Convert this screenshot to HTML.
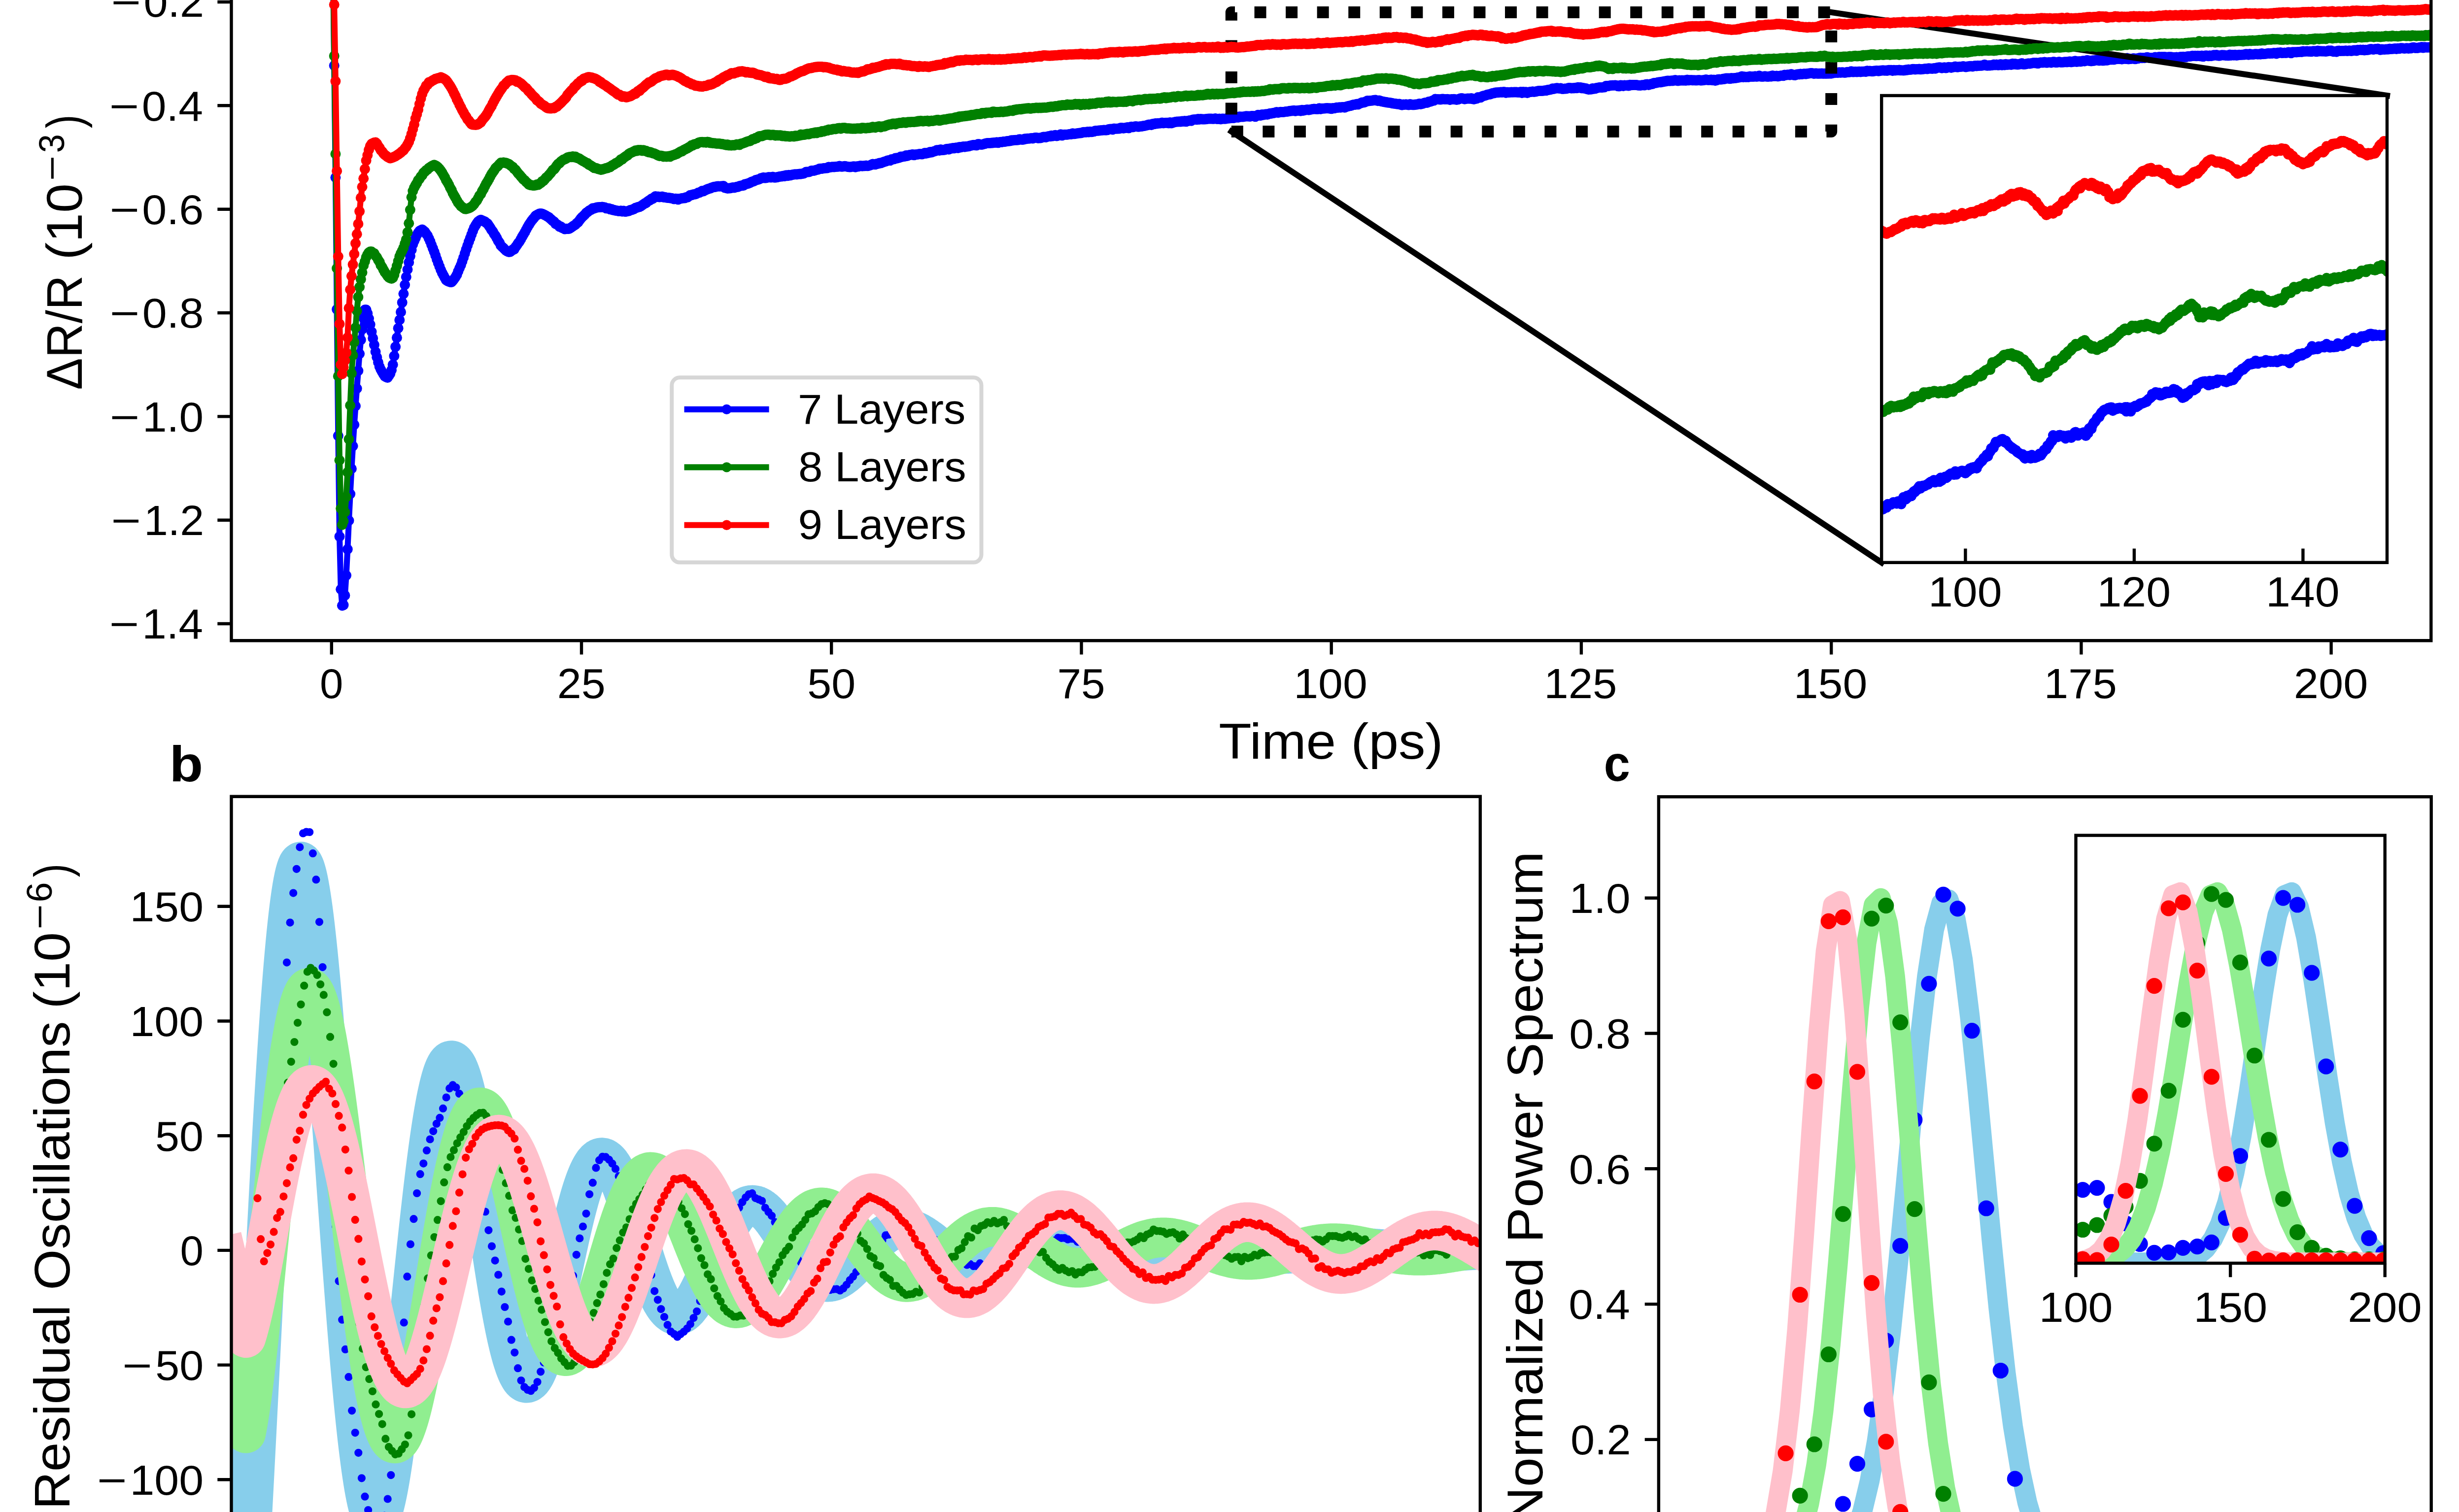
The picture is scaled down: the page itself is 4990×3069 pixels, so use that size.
<!DOCTYPE html>
<html><head><meta charset="utf-8"><title>Figure</title>
<style>html,body{margin:0;padding:0;background:#fff}svg{display:block}</style></head>
<body>
<svg width="4990" height="3069" viewBox="0 0 4990 3069" font-family="'Liberation Sans', sans-serif" fill="#000">
<rect width="4990" height="3069" fill="#fff"/>
<defs>
<clipPath id="ca"><rect x="469.5" y="-50" width="4463.8" height="1350.2"/></clipPath>
<clipPath id="ci"><rect x="3818.2" y="194" width="1025.8" height="947.8"/></clipPath>
<marker id="mb" markerUnits="userSpaceOnUse" markerWidth="24" markerHeight="24" refX="12" refY="12" viewBox="0 0 24 24"><circle cx="12" cy="12" r="10.5" fill="#0000ff"/></marker>
<marker id="mg" markerUnits="userSpaceOnUse" markerWidth="24" markerHeight="24" refX="12" refY="12" viewBox="0 0 24 24"><circle cx="12" cy="12" r="10.5" fill="#008000"/></marker>
<marker id="mr" markerUnits="userSpaceOnUse" markerWidth="24" markerHeight="24" refX="12" refY="12" viewBox="0 0 24 24"><circle cx="12" cy="12" r="10.5" fill="#ff0000"/></marker>
</defs>
<g clip-path="url(#ca)" fill="none" stroke-width="12.1" stroke-linejoin="round">
<polyline points="632.2,-206.3 634.9,-206.3 637.6,-206.3 640.3,-206.3 643,-206.3 645.7,-206.3 648.5,-206.3 651.2,-206.3 653.9,-206.3 656.6,-206.3 659.3,-206.3 662,-206.3 664.7,-206.3 667.4,-206.3 670.1,-206.3 672.8,-206.3 675.5,-100.9 678.2,133.2 680.9,360.3 683.6,627.9 686.3,884.6 689,1089 691.7,1196.2 694.4,1229.2 697.1,1228 699.9,1208.5 702.6,1167.8 705.3,1114.8 708,1056.7 710.7,1002.6 713.4,951.4 716.1,905.3 718.8,862.2 721.5,824.1 724.2,788.7 726.9,752.6 729.6,718.1 732.3,689.8 735,668.6 737.7,645.8 740.4,628.8 743.1,628.8 745.8,636.1 748.5,646.6 751.2,658.7 754,673.3 756.7,686.4 759.4,700 762.1,714.1 764.8,725.2 767.5,735.4 770.2,744.3 772.9,750.3 775.6,755.2 778.3,759.6 781,763.8 783.7,765.3 786.4,766.5 789.1,762.7 791.8,758.4 794.5,751.2 797.2,740.2 799.9,722.6 802.6,703.9 805.4,685.4 808.1,666.2 810.8,649.4 813.5,633.4 816.2,614 818.9,596.3 821.6,578.1 824.3,562.2 827,547.1 829.7,532.5 832.4,519.8 835.1,507.1 837.8,496 840.5,489.2 843.2,483.3 845.9,476.9 848.6,472.3 851.3,468.8 854,467.4 856.7,466 859.5,468.1 862.2,470.4 864.9,474.7 867.6,478.1 870.3,483.9 873,489.9 875.7,497.2 878.4,504 881.1,511.2 883.8,518.5 886.5,526.4 889.2,533.9 891.9,541 894.6,547.8 897.3,554 900,558.8 902.7,563.8 905.4,568.5 908.1,570.4 910.9,571.5 913.6,572.7 916.3,572.7 919,569.7 921.7,566.2 924.4,562.3 927.1,557.7 929.8,550.7 932.5,544.3 935.2,538.3 937.9,530.4 940.6,522.8 943.3,514.6 946,506.1 948.7,498.3 951.4,490.7 954.1,483.4 956.8,476.1 959.5,468.9 962.2,462.2 965,457.4 967.7,453.1 970.4,449.7 973.1,447.6 975.8,446.3 978.5,447.4 981.2,448.8 983.9,449.7 986.6,452.4 989.3,453.8 992,458 994.7,461.8 997.4,466.5 1000.1,469.9 1002.8,474.9 1005.5,478.6 1008.2,483.4 1010.9,488.8 1013.6,492.6 1016.4,498.4 1019.1,501.1 1021.8,503.4 1024.5,506.4 1027.2,508.8 1029.9,510.3 1032.6,511.5 1035.3,511.1 1038,509.1 1040.7,506.4 1043.4,506 1046.1,501.4 1048.8,497.8 1051.5,493.6 1054.2,490.3 1056.9,485.5 1059.6,480.5 1062.3,476.1 1065,471.4 1067.7,466.3 1070.5,461.2 1073.2,456.4 1075.9,452.3 1078.6,448.3 1081.3,445 1084,441.8 1086.7,438.1 1089.4,436.6 1092.1,435.1 1094.8,433.8 1097.5,433.6 1100.2,433.9 1102.9,435.2 1105.6,436.5 1108.3,437.9 1111,439.7 1113.7,441 1116.4,443.7 1119.1,445.8 1121.9,448.5 1124.6,450.1 1127.3,454.3 1130,455.3 1132.7,457.1 1135.4,460.1 1138.1,460 1140.8,462.6 1143.5,463.7 1146.2,465 1148.9,464.3 1151.6,464.6 1154.3,464.5 1157,463.1 1159.7,461.4 1162.4,459.3 1165.1,457.7 1167.8,455.8 1170.5,453 1173.2,451 1176,447.2 1178.7,443.5 1181.4,440.7 1184.1,438.1 1186.8,435.6 1189.5,432.1 1192.2,430.5 1194.9,428.1 1197.6,426.5 1200.3,425.3 1203,422.7 1205.7,422.9 1208.4,421.9 1211.1,420.9 1213.8,420.8 1216.5,420.6 1219.2,420.6 1221.9,419.9 1224.6,420.7 1227.4,421.1 1230.1,422.8 1232.8,423.1 1235.5,422.9 1238.2,424.8 1240.9,424.4 1243.6,426.3 1246.3,426.3 1249,427.5 1251.7,427.4 1254.4,428.4 1257.1,428.5 1259.8,427.8 1262.5,429.2 1265.2,428.1 1267.9,429.5 1270.6,429.6 1273.3,428.6 1276,428.3 1278.7,426.5 1281.5,426.1 1284.2,425 1286.9,424.1 1289.6,421.9 1292.3,421.5 1295,420.3 1297.7,419.8 1300.4,418.7 1303.1,416.7 1305.8,414.7 1308.5,412.8 1311.2,411.9 1313.9,409.2 1316.6,407.3 1319.3,406.1 1322,403.4 1324.7,403.3 1327.4,400.6 1330.1,398.4 1332.9,399.7 1335.6,399 1338.3,400.1 1341,399.6 1343.7,399.1 1346.4,400.4 1349.1,400.3 1351.8,400.9 1354.5,401.4 1357.2,401.6 1359.9,402 1362.6,402.2 1365.3,402.9 1368,404 1370.7,403.3 1373.4,403.5 1376.1,405 1378.8,403.6 1381.5,403.1 1384.2,402.4 1387,401.9 1389.7,402 1392.4,400.5 1395.1,400.5 1397.8,398.4 1400.5,396.2 1403.2,396 1405.9,394.9 1408.6,394.6 1411.3,393.9 1414,392.9 1416.7,391.3 1419.4,390.8 1422.1,389.6 1424.8,387.6 1427.5,388 1430.2,386.7 1432.9,385.2 1435.6,384 1438.4,382.9 1441.1,382.6 1443.8,380.9 1446.5,380.3 1449.2,379.2 1451.9,379.4 1454.6,378.3 1457.3,377.9 1460,378.2 1462.7,377.9 1465.4,378.1 1468.1,377.5 1470.8,381 1473.5,381.4 1476.2,382.5 1478.9,381.9 1481.6,381.9 1484.3,381.4 1487,380.4 1489.7,381.1 1492.5,380.2 1495.2,379.3 1497.9,379.2 1500.6,377.7 1503.3,377 1506,376.8 1508.7,376.6 1511.4,374 1514.1,373.7 1516.8,372.8 1519.5,371.9 1522.2,370.8 1524.9,369.2 1527.6,368.5 1530.3,367.7 1533,365.8 1535.7,365.1 1538.4,364.5 1541.1,363.7 1543.9,361.8 1546.6,361.5 1549.3,360.3 1552,361.2 1554.7,361.1 1557.4,360.3 1560.1,359.6 1562.8,360 1565.5,359.9 1568.2,359 1570.9,360.2 1573.6,360.3 1576.3,359.8 1579,359.3 1581.7,358.6 1584.4,358 1587.1,357.9 1589.8,357 1592.5,357.7 1595.2,355.8 1598,356.8 1600.7,355.3 1603.4,356 1606.1,354.9 1608.8,354.7 1611.5,354.1 1614.2,353.7 1616.9,353.9 1619.6,353.5 1622.3,352.9 1625,353.3 1627.7,352.5 1630.4,352.3 1633.1,350.9 1635.8,349 1638.5,349.1 1641.2,349.1 1643.9,348.2 1646.6,346.6 1649.4,346.6 1652.1,346.4 1654.8,345.4 1657.5,344.7 1660.2,344 1662.9,342.5 1665.6,342.2 1668.3,342.5 1671,341.6 1673.7,341.5 1676.4,341.1 1679.1,340.9 1681.8,338.9 1684.5,339.7 1687.2,339 1689.9,338.7 1692.6,339.1 1695.3,338.5 1698,338.3 1700.7,338.3 1703.5,337.1 1706.2,338 1708.9,338.2 1711.6,337.8 1714.3,337.3 1717,337.7 1719.7,338.5 1722.4,338.8 1725.1,338.9 1727.8,338.7 1730.5,338.1 1733.2,337.7 1735.9,339.2 1738.6,337.7 1741.3,338.1 1744,336.9 1746.7,336.5 1749.4,337.2 1752.1,336.8 1754.9,336.8 1757.6,335.9 1760.3,336.8 1763,336.2 1765.7,335.7 1768.4,334.2 1771.1,333.1 1773.8,333.8 1776.5,333.8 1779.2,332.5 1781.9,332.3 1784.6,330.9 1787.3,331 1790,329.9 1792.7,328.9 1795.4,327.9 1798.1,327.4 1800.8,325.9 1803.5,325.6 1806.2,325.8 1809,323.6 1811.7,323.4 1814.4,322.8 1817.1,320.9 1819.8,321.5 1822.5,320.2 1825.2,319.9 1827.9,318.1 1830.6,318.4 1833.3,317.4 1836,317.6 1838.7,315.6 1841.4,316.4 1844.1,314.9 1846.8,314.4 1849.5,314 1852.2,313.4 1854.9,314.8 1857.6,313.7 1860.4,313.7 1863.1,313.2 1865.8,312.6 1868.5,312.8 1871.2,312.9 1873.9,312 1876.6,310.6 1879.3,311.5 1882,310.3 1884.7,310.2 1887.4,308.5 1890.1,309.3 1892.8,308 1895.5,307.3 1898.2,306.6 1900.9,304.8 1903.6,304.7 1906.3,305.6 1909,303.4 1911.7,304.7 1914.5,304.6 1917.2,304 1919.9,302.7 1922.6,302.2 1925.3,303.3 1928,301.4 1930.7,301.5 1933.4,300.6 1936.1,300.9 1938.8,299.9 1941.5,299.8 1944.2,300.4 1946.9,298.6 1949.6,298.9 1952.3,298.2 1955,297.5 1957.7,298.2 1960.4,297.2 1963.1,297.2 1965.9,296.8 1968.6,295.7 1971.3,295.4 1974,294.6 1976.7,294.3 1979.4,294.8 1982.1,294.9 1984.8,292.5 1987.5,292.7 1990.2,293.5 1992.9,293.4 1995.6,292.7 1998.3,291.8 2001,290.9 2003.7,290.5 2006.4,290.4 2009.1,290.5 2011.8,290 2014.5,290 2017.2,289.5 2020,289.4 2022.7,288.8 2025.4,289.8 2028.1,288.7 2030.8,288.3 2033.5,288.4 2036.2,287.5 2038.9,287.7 2041.6,287.1 2044.3,286.5 2047,286.2 2049.7,286.1 2052.4,284.8 2055.1,284.9 2057.8,284.5 2060.5,284.2 2063.2,284.3 2065.9,284 2068.6,282.7 2071.4,283 2074.1,283.4 2076.8,283.3 2079.5,281.7 2082.2,281.9 2084.9,281.3 2087.6,281.2 2090.3,280.9 2093,280.5 2095.7,280.9 2098.4,280.1 2101.1,279.4 2103.8,279.4 2106.5,280.5 2109.2,280.1 2111.9,279.9 2114.6,279 2117.3,278.1 2120,278 2122.7,278.7 2125.5,277.3 2128.2,276.5 2130.9,276.8 2133.6,275.2 2136.3,276.2 2139,275 2141.7,274.2 2144.4,275.9 2147.1,275.2 2149.8,274.4 2152.5,272.7 2155.2,275.1 2157.9,273.5 2160.6,273.3 2163.3,273.3 2166,273.2 2168.7,272.7 2171.4,272.3 2174.1,272.5 2176.9,270.7 2179.6,271.8 2182.3,271.2 2185,271 2187.7,270.5 2190.4,269.9 2193.1,270.1 2195.8,269.5 2198.5,268.2 2201.2,268.2 2203.9,268.6 2206.6,267.6 2209.3,268.2 2212,267.3 2214.7,267.8 2217.4,267.3 2220.1,266.8 2222.8,265.4 2225.5,265.6 2228.3,265.2 2231,265.1 2233.7,264.7 2236.4,264.4 2239.1,263.9 2241.8,263.9 2244.5,264.2 2247.2,263.8 2249.9,262.4 2252.6,262 2255.3,262.1 2258,262.9 2260.7,260.9 2263.4,261.3 2266.1,261.3 2268.8,261 2271.5,261 2274.2,259.6 2276.9,259.4 2279.6,260.6 2282.4,259.8 2285.1,259.2 2287.8,258.4 2290.5,260 2293.2,257.9 2295.9,257.2 2298.6,257.9 2301.3,257.4 2304,256.5 2306.7,256.7 2309.4,257.3 2312.1,256.9 2314.8,256.6 2317.5,256.5 2320.2,255.5 2322.9,255.4 2325.6,254.7 2328.3,253.9 2331,252.9 2333.8,253.1 2336.5,253.7 2339.2,251.5 2341.9,251.8 2344.6,250.6 2347.3,251.1 2350,250.3 2352.7,250.2 2355.4,249.9 2358.1,249.1 2360.8,249.9 2363.5,249.4 2366.2,249.2 2368.9,249.3 2371.6,250.1 2374.3,248.5 2377,250 2379.7,249.1 2382.4,248.3 2385.1,247.6 2387.9,247.1 2390.6,246.9 2393.3,246.8 2396,247.1 2398.7,246.1 2401.4,246.6 2404.1,245.5 2406.8,246.8 2409.5,245.7 2412.2,245.1 2414.9,244.4 2417.6,245.2 2420.3,243.1 2423,242.7 2425.7,242.5 2428.4,242.8 2431.1,241.6 2433.8,242.5 2436.5,241.6 2439.3,242 2442,241.9 2444.7,241.9 2447.4,241.8 2450.1,241.2 2452.8,241 2455.5,240.9 2458.2,241.1 2460.9,241.2 2463.6,241.2 2466.3,240.4 2469,241.4 2471.7,241.5 2474.4,241.1 2477.1,241.9 2479.8,241.1 2482.5,240.9 2485.2,241.3 2487.9,240.9 2490.6,240 2493.4,240.2 2496.1,239.8 2498.8,239 2501.5,239.5 2504.2,239.4 2506.9,238.4 2509.6,237.7 2512.3,238.5 2515,236.8 2517.7,237 2520.4,236.9 2523.1,236.9 2525.8,236.5 2528.5,235.8 2531.2,236.1 2533.9,235.9 2536.6,236.5 2539.3,235.4 2542,235.4 2544.8,235.8 2547.5,236.8 2550.2,235 2552.9,233.2 2555.6,234.2 2558.3,234.4 2561,232.5 2563.7,233.3 2566.4,232.3 2569.1,231.8 2571.8,232.6 2574.5,231.3 2577.2,230.3 2579.9,230.6 2582.6,229.6 2585.3,229.4 2588,228.4 2590.7,227.6 2593.4,228.7 2596.1,227.9 2598.9,227.3 2601.6,227.6 2604.3,227.4 2607,226.9 2609.7,226.6 2612.4,226.6 2615.1,225.8 2617.8,225.3 2620.5,225.1 2623.2,224.8 2625.9,224.3 2628.6,225.5 2631.3,224.7 2634,224.4 2636.7,224.1 2639.4,225.2 2642.1,223.2 2644.8,224.5 2647.5,223.6 2650.3,223.1 2653,222.6 2655.7,223.2 2658.4,222.7 2661.1,221.9 2663.8,221.4 2666.5,221 2669.2,221.3 2671.9,221.4 2674.6,221.6 2677.3,219.8 2680,221.4 2682.7,220.2 2685.4,220.3 2688.1,220 2690.8,219.8 2693.5,219.5 2696.2,220.1 2698.9,219.7 2701.6,220.8 2704.4,219.5 2707.1,219.8 2709.8,219.2 2712.5,218.3 2715.2,218.6 2717.9,217.8 2720.6,218.2 2723.3,217.5 2726,217.6 2728.7,218.3 2731.4,216.8 2734.1,216.1 2736.8,215.3 2739.5,214.8 2742.2,214.3 2744.9,213.1 2747.6,212.6 2750.3,212.5 2753,211.2 2755.8,212 2758.5,210.4 2761.2,209.5 2763.9,207.9 2766.6,208 2769.3,207.7 2772,206 2774.7,204.6 2777.4,205 2780.1,204.5 2782.8,204.2 2785.5,203.9 2788.2,203.3 2790.9,203.1 2793.6,204.1 2796.3,204.7 2799,204 2801.7,205.3 2804.4,205.8 2807.1,206.5 2809.9,207.1 2812.6,207.3 2815.3,208.1 2818,208.2 2820.7,208.7 2823.4,208.9 2826.1,209.8 2828.8,210.2 2831.5,210.4 2834.2,210.9 2836.9,211.3 2839.6,211 2842.3,212.5 2845,213.2 2847.7,211.9 2850.4,212.6 2853.1,211.8 2855.8,212.5 2858.5,213.1 2861.3,211.4 2864,212.3 2866.7,212.8 2869.4,212.8 2872.1,211.9 2874.8,212.3 2877.5,211.4 2880.2,210.6 2882.9,211.6 2885.6,210.7 2888.3,209.9 2891,208.7 2893.7,208.4 2896.4,208.4 2899.1,206.4 2901.8,206.5 2904.5,205.5 2907.2,204.2 2909.9,204.1 2912.6,201.1 2915.4,201.5 2918.1,201.6 2920.8,201.8 2923.5,202 2926.2,201.1 2928.9,201 2931.6,201.6 2934.3,201.6 2937,201.3 2939.7,201.7 2942.4,202.7 2945.1,201.4 2947.8,201.6 2950.5,201.2 2953.2,201.8 2955.9,202.4 2958.6,201.8 2961.3,200.8 2964,199.7 2966.8,199.5 2969.5,200.4 2972.2,201.2 2974.9,200.6 2977.6,200.1 2980.3,200.1 2983,200.3 2985.7,199.6 2988.4,200.8 2991.1,201.4 2993.8,200.4 2996.5,200.1 2999.2,197.6 3001.9,198 3004.6,197.8 3007.3,195.8 3010,194.7 3012.7,194.2 3015.4,193.4 3018.1,192.2 3020.9,191.7 3023.6,191.6 3026.3,190.2 3029,189.3 3031.7,189 3034.4,188.1 3037.1,187.8 3039.8,187.8 3042.5,187.5 3045.2,187 3047.9,187.6 3050.6,186.7 3053.3,186.7 3056,188.4 3058.7,187.3 3061.4,187.7 3064.1,187.5 3066.8,187.1 3069.5,187.2 3072.3,186.9 3075,187 3077.7,187 3080.4,187.6 3083.1,187.5 3085.8,186.6 3088.5,188.7 3091.2,186.6 3093.9,187.8 3096.6,186.8 3099.3,188.7 3102,187.4 3104.7,186.5 3107.4,186.6 3110.1,185.8 3112.8,186.4 3115.5,185.9 3118.2,185.7 3120.9,184.7 3123.6,184.5 3126.4,184.6 3129.1,184.4 3131.8,184.2 3134.5,183.7 3137.2,183.8 3139.9,182.8 3142.6,182.3 3145.3,181.9 3148,181.4 3150.7,179.8 3153.4,180.4 3156.1,179.6 3158.8,178.8 3161.5,179.1 3164.2,179.5 3166.9,179.1 3169.6,180.4 3172.3,180.4 3175,180 3177.8,179.9 3180.5,179.7 3183.2,178.6 3185.9,178.5 3188.6,179.2 3191.3,178.8 3194,179.1 3196.7,178.2 3199.4,178.8 3202.1,177.2 3204.8,178 3207.5,177.6 3210.2,179.1 3212.9,178.4 3215.6,179.7 3218.3,179.6 3221,180.8 3223.7,181.7 3226.4,181.2 3229.1,181.3 3231.9,179.4 3234.6,180.2 3237.3,179.8 3240,178.6 3242.7,178.2 3245.4,177.5 3248.1,177.5 3250.8,177.7 3253.5,176.9 3256.2,176.9 3258.9,174.6 3261.6,174.4 3264.3,174.7 3267,173.8 3269.7,173.5 3272.4,173.3 3275.1,173.3 3277.8,173.1 3280.5,173.6 3283.3,174.8 3286,175.1 3288.7,173 3291.4,173.2 3294.1,174.7 3296.8,173.1 3299.5,173.4 3302.2,173.1 3304.9,174.1 3307.6,172.3 3310.3,172.8 3313,172.4 3315.7,172.5 3318.4,172.5 3321.1,172.4 3323.8,173.2 3326.5,173.2 3329.2,173.6 3331.9,172.7 3334.6,172.8 3337.4,172.9 3340.1,171.3 3342.8,171.1 3345.5,172.4 3348.2,171.6 3350.9,170.3 3353.6,170.4 3356.3,168.5 3359,168.6 3361.7,167.9 3364.4,167.3 3367.1,166.7 3369.8,167.1 3372.5,166.1 3375.2,165.9 3377.9,165.1 3380.6,164.9 3383.3,164 3386,164.1 3388.8,164.3 3391.5,163.7 3394.2,164.1 3396.9,163.2 3399.6,162.5 3402.3,163.5 3405,164 3407.7,163.1 3410.4,163.3 3413.1,162.9 3415.8,163.3 3418.5,163 3421.2,163.5 3423.9,162.1 3426.6,163.1 3429.3,162.7 3432,162.6 3434.7,163 3437.4,162.7 3440.1,163 3442.9,163 3445.6,162.8 3448.3,162.4 3451,163.2 3453.7,162.9 3456.4,162.8 3459.1,162.6 3461.8,161.6 3464.5,162.2 3467.2,162.4 3469.9,162.2 3472.6,161.8 3475.3,162.8 3478,161.9 3480.7,163.7 3483.4,162.8 3486.1,161.3 3488.8,160.9 3491.5,161.2 3494.3,161.1 3497,160.1 3499.7,160.4 3502.4,159 3505.1,159.1 3507.8,159.1 3510.5,159.8 3513.2,158.6 3515.9,159 3518.6,158.7 3521.3,158.6 3524,158.1 3526.7,157.5 3529.4,157 3532.1,156.6 3534.8,155 3537.5,156.7 3540.2,155.7 3542.9,156.5 3545.6,156 3548.4,156.4 3551.1,155.1 3553.8,155.5 3556.5,155.4 3559.2,155.5 3561.9,154.8 3564.6,155.5 3567.3,155 3570,153.8 3572.7,155.2 3575.4,155.4 3578.1,155.6 3580.8,154.7 3583.5,155.1 3586.2,155.5 3588.9,155.4 3591.6,154.8 3594.3,155.3 3597,153.5 3599.8,154.6 3602.5,154.4 3605.2,154.1 3607.9,154.9 3610.6,154.5 3613.3,153.7 3616,153.4 3618.7,153.8 3621.4,152.1 3624.1,152.5 3626.8,151.8 3629.5,151.7 3632.2,152.2 3634.9,150.6 3637.6,151.7 3640.3,152.6 3643,152.7 3645.7,151.3 3648.4,150.7 3651.1,150.9 3653.9,149.9 3656.6,150.7 3659.3,150 3662,149.7 3664.7,150.3 3667.4,149.4 3670.1,149.2 3672.8,148.7 3675.5,148.6 3678.2,148.7 3680.9,149.7 3683.6,149 3686.3,148.9 3689,149.6 3691.7,149.3 3694.4,149.3 3697.1,149.1 3699.8,149.6 3702.5,149.3 3705.3,149.4 3708,149.2 3710.7,149.3 3713.4,149 3716.1,149.2 3718.8,148.5 3721.5,147.8 3724.2,147.7 3726.9,147.4 3729.6,147.7 3732.3,146.7 3735,147.6 3737.7,146.8 3740.4,146.9 3743.1,147.4 3745.8,147.2 3748.5,146.3 3751.2,146.5 3753.9,146.3 3756.6,144.7 3759.4,145.9 3762.1,146 3764.8,145.5 3767.5,146.1 3770.2,145.8 3772.9,145.3 3775.6,145.9 3778.3,145.3 3781,145.2 3783.7,144.9 3786.4,145.7 3789.1,143.7 3791.8,144.6 3794.5,144 3797.2,144.7 3799.9,144.8 3802.6,144 3805.3,144 3808,143.4 3810.8,144.1 3813.5,144.1 3816.2,143.3 3818.9,143 3821.6,142.8 3824.3,143.2 3827,143 3829.7,143.5 3832.4,142.3 3835.1,142.3 3837.8,142.3 3840.5,143.7 3843.2,142.3 3845.9,143.1 3848.6,142.5 3851.3,142.5 3854,142.1 3856.7,142.8 3859.4,142.7 3862.2,142.9 3864.9,142.8 3867.6,141.7 3870.3,142.2 3873,141.1 3875.7,141.4 3878.4,141.3 3881.1,140.3 3883.8,140.2 3886.5,141 3889.2,140.5 3891.9,140.4 3894.6,140 3897.3,140.8 3900,140.6 3902.7,140.3 3905.4,139.8 3908.1,139.6 3910.8,140.1 3913.5,138.7 3916.3,139.1 3919,139.3 3921.7,139.4 3924.4,138.5 3927.1,139.3 3929.8,137.7 3932.5,137.3 3935.2,136.8 3937.9,137.1 3940.6,138.2 3943.3,137.3 3946,136.7 3948.7,138.1 3951.4,137.3 3954.1,136.3 3956.8,136.5 3959.5,137.4 3962.2,136.5 3964.9,136.1 3967.7,134.9 3970.4,136.1 3973.1,136.2 3975.8,135.5 3978.5,135.4 3981.2,135.2 3983.9,134.6 3986.6,135.3 3989.3,135.9 3992,135.1 3994.7,135 3997.4,134.3 4000.1,134.3 4002.8,134.9 4005.5,133.9 4008.2,133.6 4010.9,134 4013.6,133.2 4016.3,133.4 4019,133.2 4021.8,133.2 4024.5,132.5 4027.2,131.3 4029.9,132.7 4032.6,133.3 4035.3,132.8 4038,132.9 4040.7,132.4 4043.4,132.6 4046.1,131.1 4048.8,131.9 4051.5,131.1 4054.2,132.3 4056.9,131.9 4059.6,130.5 4062.3,132.2 4065,131.1 4067.7,131.9 4070.4,130.2 4073.2,131.6 4075.9,130.9 4078.6,130.8 4081.3,131.5 4084,129.3 4086.7,130.6 4089.4,129.6 4092.1,130.8 4094.8,131.1 4097.5,130.1 4100.2,130.1 4102.9,128.6 4105.6,130.5 4108.3,130.6 4111,130 4113.7,129.2 4116.4,128.8 4119.1,129.2 4121.8,128.7 4124.5,128 4127.3,127.4 4130,128.1 4132.7,127.4 4135.4,128.8 4138.1,127.7 4140.8,126.8 4143.5,127 4146.2,127 4148.9,126 4151.6,127 4154.3,127.3 4157,126.6 4159.7,126.6 4162.4,127.2 4165.1,126.1 4167.8,125.6 4170.5,126.7 4173.2,126.8 4175.9,126.2 4178.7,125.5 4181.4,126.4 4184.1,126.4 4186.8,126.3 4189.5,125.8 4192.2,125.8 4194.9,126 4197.6,125.2 4200.3,124.7 4203,126 4205.7,125.1 4208.4,125.3 4211.1,123.7 4213.8,125.5 4216.5,125 4219.2,124.5 4221.9,125.1 4224.6,124.2 4227.3,123.4 4230,124.2 4232.8,123.3 4235.5,122.2 4238.2,123.3 4240.9,123.3 4243.6,124 4246.3,122.7 4249,123.5 4251.7,122.3 4254.4,121.7 4257.1,122.3 4259.8,123 4262.5,122.2 4265.2,122.8 4267.9,123.1 4270.6,122.7 4273.3,122.3 4276,122.4 4278.7,121.7 4281.4,120.6 4284.2,121.1 4286.9,120.7 4289.6,121.1 4292.3,119.6 4295,119.8 4297.7,119.1 4300.4,119.7 4303.1,119 4305.8,120.2 4308.5,119.1 4311.2,119.3 4313.9,119.4 4316.6,118.1 4319.3,120 4322,119.3 4324.7,119.4 4327.4,119 4330.1,118.6 4332.8,119.8 4335.5,119 4338.3,118.8 4341,117.8 4343.7,117.3 4346.4,117.8 4349.1,117.6 4351.8,117.7 4354.5,116.9 4357.2,116.2 4359.9,116.9 4362.6,117.5 4365.3,117.6 4368,117.5 4370.7,118 4373.4,116.1 4376.1,116.8 4378.8,116.9 4381.5,115.4 4384.2,116.3 4386.9,115.5 4389.7,116 4392.4,115.5 4395.1,116 4397.8,116.2 4400.5,115.8 4403.2,115.8 4405.9,115.7 4408.6,116.2 4411.3,116.4 4414,116.5 4416.7,116.1 4419.4,116.5 4422.1,116.3 4424.8,115.6 4427.5,115.5 4430.2,115.3 4432.9,115.7 4435.6,115.8 4438.3,114.7 4441,114.5 4443.8,114.5 4446.5,113.9 4449.2,113.3 4451.9,113.6 4454.6,113.2 4457.3,113.8 4460,113.3 4462.7,113.6 4465.4,114 4468.1,113 4470.8,114.8 4473.5,113.3 4476.2,112.8 4478.9,112.9 4481.6,113.8 4484.3,112.8 4487,113.7 4489.7,113.1 4492.4,111.7 4495.2,112.2 4497.9,111.6 4500.6,112.8 4503.3,113.3 4506,112.7 4508.7,111.7 4511.4,112 4514.1,112 4516.8,112.7 4519.5,112.7 4522.2,112.8 4524.9,111.1 4527.6,112.4 4530.3,111.4 4533,112.3 4535.7,111.3 4538.4,112.4 4541.1,111.9 4543.8,111.2 4546.5,111.5 4549.3,111.2 4552,111 4554.7,111 4557.4,109.8 4560.1,110 4562.8,111.3 4565.5,109.5 4568.2,110.4 4570.9,110.4 4573.6,110.4 4576.3,109.7 4579,109.7 4581.7,110.2 4584.4,109.7 4587.1,110.3 4589.8,108.5 4592.5,109.7 4595.2,109.6 4597.9,109.3 4600.7,108.7 4603.4,108.2 4606.1,108.7 4608.8,108.3 4611.5,108.5 4614.2,107.5 4616.9,107.9 4619.6,108.9 4622.3,107.1 4625,107.5 4627.7,106.6 4630.4,107.7 4633.1,107.4 4635.8,107.1 4638.5,107.6 4641.2,107 4643.9,106 4646.6,106.3 4649.3,107.8 4652,105.8 4654.8,106.1 4657.5,105.7 4660.2,105.9 4662.9,105.6 4665.6,105.4 4668.3,105.1 4671,105.5 4673.7,104.1 4676.4,104.4 4679.1,104.2 4681.8,104.1 4684.5,104.4 4687.2,104.2 4689.9,104.8 4692.6,103.9 4695.3,103.8 4698,104.1 4700.7,104.8 4703.4,103.1 4706.2,103.9 4708.9,103.8 4711.6,103.9 4714.3,104.1 4717,104 4719.7,104.4 4722.4,104.1 4725.1,102.8 4727.8,103.2 4730.5,102.8 4733.2,104.1 4735.9,104.8 4738.6,104.6 4741.3,105.2 4744,103.2 4746.7,103 4749.4,103.5 4752.1,103.3 4754.8,103.2 4757.5,103.3 4760.3,102.8 4763,103.6 4765.7,103.1 4768.4,102.8 4771.1,103.4 4773.8,102.9 4776.5,102 4779.2,101.9 4781.9,103.1 4784.6,101.2 4787.3,101.4 4790,101.1 4792.7,101.4 4795.4,101 4798.1,101.9 4800.8,101.2 4803.5,101.5 4806.2,101 4808.9,100 4811.7,99.6 4814.4,100.2 4817.1,100.4 4819.8,99.6 4822.5,99.7 4825.2,99 4827.9,99.7 4830.6,101.3 4833.3,100.1 4836,100.2 4838.7,100.5 4841.4,100 4844.1,99.9 4846.8,100 4849.5,98.9 4852.2,99.4 4854.9,99.2 4857.6,99.1 4860.3,98.4 4863,99.5 4865.8,98.2 4868.5,98.8 4871.2,97.8 4873.9,97.7 4876.6,98 4879.3,98.4 4882,97.9 4884.7,97.7 4887.4,98.5 4890.1,97.8 4892.8,97.9 4895.5,96.6 4898.2,96.3 4900.9,97.5 4903.6,97.2 4906.3,97.5 4909,96.5 4911.7,96.2 4914.4,95.5 4917.2,97 4919.9,95.7 4922.6,96.1 4925.3,96.3 4928,96.1 4930.7,96.3 4933.4,95.5 4936.1,95.7 4938.8,94.9 4941.5,95.7 4944.2,96.2 4946.9,95.5 4949.6,94.6 4952.3,95.3 4955,94.8 4957.7,93.9 4960.4,94.7 4963.1,93.3 4965.8,93.4 4968.5,93.7 4971.3,93.2 4974,93.2" stroke="#0000ff" marker-start="url(#mb)" marker-mid="url(#mb)" marker-end="url(#mb)"/>
</g>
<path d="M2498.8 266.9H3716.2V25H2498.8Z" fill="none" stroke="#000" stroke-width="24" stroke-dasharray="24 39.56" stroke-linejoin="round"/>
<path d="M2498.8 266.9L3818.2 1141.8M3716.2 25L4844 194" stroke="#000" stroke-width="12.1" stroke-linecap="square" fill="none"/>
<g clip-path="url(#ca)" fill="none" stroke-width="12.1" stroke-linejoin="round">
<polyline points="632.2,-206.3 634.9,-206.3 637.6,-206.3 640.3,-206.3 643,-206.3 645.7,-206.3 648.5,-206.3 651.2,-206.3 653.9,-206.3 656.6,-206.3 659.3,-206.3 662,-206.3 664.7,-206.3 667.4,-206.3 670.1,-206.3 672.8,-206.3 675.5,-100.9 678.2,113.5 680.9,312.4 683.6,544.7 686.3,763.4 689,934.2 691.7,1032.1 694.4,1065.2 697.1,1057.8 699.9,1039.6 702.6,1008.6 705.3,958.6 708,891.5 710.7,822.9 713.4,757.9 716.1,721.1 718.8,694.6 721.5,665.1 724.2,631.2 726.9,603 729.6,582.6 732.3,567 735,553.1 737.7,538.9 740.4,530.8 743.1,522.2 745.8,516.6 748.5,512.6 751.2,510.8 754,510.8 756.7,513.7 759.4,514.5 762.1,519.3 764.8,522.3 767.5,527.6 770.2,531.6 772.9,538.4 775.6,542.3 778.3,547.7 781,552.5 783.7,555.9 786.4,560 789.1,563 791.8,564.5 794.5,565.6 797.2,563.9 799.9,558.1 802.6,549 805.4,539.6 808.1,529.9 810.8,520.4 813.5,514.3 816.2,508.8 818.9,502.9 821.6,494.3 824.3,486.2 827,471.5 829.7,453.3 832.4,425.8 835.1,400.3 837.8,387.6 840.5,380.9 843.2,376 845.9,371.6 848.6,366 851.3,363.1 854,358.3 856.7,355.9 859.5,350.6 862.2,348.5 864.9,345.4 867.6,344.2 870.3,340.9 873,339.3 875.7,337.4 878.4,336 881.1,334.7 883.8,335.9 886.5,337.6 889.2,340 891.9,342.9 894.6,346.4 897.3,350.4 900,355.3 902.7,360 905.4,365.9 908.1,370 910.9,375.1 913.6,381.2 916.3,385.6 919,392.2 921.7,397 924.4,401.4 927.1,406.6 929.8,411.4 932.5,414.6 935.2,418.3 937.9,420.1 940.6,422.3 943.3,424.1 946,424.2 948.7,423.3 951.4,422.7 954.1,421.3 956.8,419.7 959.5,417.3 962.2,414.3 965,409.8 967.7,407.1 970.4,402.1 973.1,396.9 975.8,393.9 978.5,388 981.2,383.7 983.9,378.2 986.6,372.8 989.3,368.6 992,363.9 994.7,358.6 997.4,353.7 1000.1,349.7 1002.8,345.9 1005.5,341.3 1008.2,338.9 1010.9,336.3 1013.6,333.2 1016.4,330.3 1019.1,330.5 1021.8,329.7 1024.5,330.4 1027.2,330.8 1029.9,332.1 1032.6,332.9 1035.3,335.2 1038,337.4 1040.7,339 1043.4,342.9 1046.1,344.5 1048.8,348.2 1051.5,351.8 1054.2,354.6 1056.9,358 1059.6,360.9 1062.3,364.4 1065,366.1 1067.7,369.3 1070.5,371.6 1073.2,374.7 1075.9,375.7 1078.6,375.8 1081.3,376.5 1084,376.6 1086.7,376.1 1089.4,374.6 1092.1,375 1094.8,372.9 1097.5,371.4 1100.2,368 1102.9,367 1105.6,364 1108.3,360.5 1111,358.6 1113.7,355.3 1116.4,352.4 1119.1,348.9 1121.9,344.9 1124.6,343.6 1127.3,339.8 1130,335.9 1132.7,332.6 1135.4,331.3 1138.1,327.9 1140.8,325.9 1143.5,323.9 1146.2,323.2 1148.9,321.8 1151.6,319.7 1154.3,319 1157,318.4 1159.7,318.8 1162.4,317.6 1165.1,318.9 1167.8,317.9 1170.5,320.4 1173.2,321.1 1176,322.1 1178.7,324 1181.4,325.9 1184.1,327.3 1186.8,328.7 1189.5,330.7 1192.2,331.2 1194.9,334.4 1197.6,335.3 1200.3,337 1203,338.8 1205.7,340.8 1208.4,341.1 1211.1,341.8 1213.8,342.9 1216.5,343.4 1219.2,344.7 1221.9,344 1224.6,343.1 1227.4,342.4 1230.1,341.3 1232.8,341 1235.5,339.6 1238.2,339 1240.9,336.6 1243.6,335.1 1246.3,333.9 1249,331.6 1251.7,330.5 1254.4,328.8 1257.1,326.8 1259.8,323.7 1262.5,323.6 1265.2,320.6 1267.9,318.9 1270.6,316.7 1273.3,315.5 1276,312.5 1278.7,310.8 1281.5,309.7 1284.2,308.4 1286.9,307 1289.6,305.6 1292.3,306.3 1295,304.4 1297.7,305.1 1300.4,304.6 1303.1,305.9 1305.8,304.8 1308.5,306.3 1311.2,306.2 1313.9,308.1 1316.6,308.9 1319.3,308.8 1322,309.8 1324.7,310.9 1327.4,311.4 1330.1,312.7 1332.9,314 1335.6,315.7 1338.3,316.7 1341,315.9 1343.7,316.6 1346.4,317.9 1349.1,317.4 1351.8,317.9 1354.5,317.8 1357.2,317 1359.9,317.9 1362.6,316.1 1365.3,315.2 1368,314.5 1370.7,313.2 1373.4,312.6 1376.1,310.7 1378.8,309.1 1381.5,307.6 1384.2,307 1387,304.7 1389.7,303.5 1392.4,301.9 1395.1,300.8 1397.8,299 1400.5,297.7 1403.2,295.1 1405.9,295.1 1408.6,292.9 1411.3,292.4 1414,292.1 1416.7,290.1 1419.4,288.9 1422.1,288.6 1424.8,288.3 1427.5,288.9 1430.2,288.4 1432.9,289.5 1435.6,288.1 1438.4,288.4 1441.1,290 1443.8,289.9 1446.5,290.7 1449.2,290.7 1451.9,290.9 1454.6,291.6 1457.3,291.5 1460,291.4 1462.7,292.3 1465.4,292.2 1468.1,293.1 1470.8,293.4 1473.5,294.5 1476.2,293.6 1478.9,295 1481.6,294.8 1484.3,295.3 1487,294.4 1489.7,295.1 1492.5,294 1495.2,292.9 1497.9,293.2 1500.6,294 1503.3,291.7 1506,291.4 1508.7,290.4 1511.4,289.6 1514.1,288.2 1516.8,287.2 1519.5,286.6 1522.2,286 1524.9,284.1 1527.6,282.4 1530.3,282.6 1533,280.3 1535.7,280.3 1538.4,277.8 1541.1,276.4 1543.9,276.2 1546.6,276.2 1549.3,274.9 1552,274.1 1554.7,273.5 1557.4,273.3 1560.1,273.3 1562.8,274.3 1565.5,273.9 1568.2,273.7 1570.9,274 1573.6,275.2 1576.3,274.5 1579,275 1581.7,274.7 1584.4,274.8 1587.1,276.1 1589.8,276 1592.5,275.8 1595.2,276.8 1598,276.5 1600.7,277.1 1603.4,277.2 1606.1,276.4 1608.8,276.8 1611.5,276.9 1614.2,275.6 1616.9,276.2 1619.6,275.6 1622.3,275.1 1625,273.1 1627.7,273.9 1630.4,273.3 1633.1,273.4 1635.8,272.3 1638.5,271.8 1641.2,272.6 1643.9,271.4 1646.6,270.4 1649.4,269.9 1652.1,270.3 1654.8,268.8 1657.5,269.9 1660.2,268.3 1662.9,268 1665.6,268.1 1668.3,266.3 1671,266.8 1673.7,265.8 1676.4,264.8 1679.1,264.8 1681.8,262.9 1684.5,263.3 1687.2,263.2 1689.9,261.9 1692.6,261.7 1695.3,261.9 1698,261.3 1700.7,260.2 1703.5,260.1 1706.2,261.2 1708.9,259.8 1711.6,259.7 1714.3,259.6 1717,260.5 1719.7,260.8 1722.4,260.5 1725.1,261 1727.8,260.9 1730.5,261.2 1733.2,261.1 1735.9,261.2 1738.6,260.8 1741.3,260.7 1744,260.8 1746.7,260.9 1749.4,259.6 1752.1,259.8 1754.9,259.9 1757.6,260.5 1760.3,259.5 1763,259.8 1765.7,259.1 1768.4,259.1 1771.1,257.6 1773.8,258.6 1776.5,258.9 1779.2,257.4 1781.9,257 1784.6,256.5 1787.3,258.2 1790,256.9 1792.7,256.4 1795.4,256.4 1798.1,254.8 1800.8,254 1803.5,253.1 1806.2,252.5 1809,252.4 1811.7,251 1814.4,251.1 1817.1,252.2 1819.8,250.4 1822.5,250.3 1825.2,249.4 1827.9,249.6 1830.6,249.3 1833.3,248.2 1836,249.1 1838.7,249.2 1841.4,248.1 1844.1,247.7 1846.8,247.9 1849.5,247.6 1852.2,247.6 1854.9,247.7 1857.6,247.1 1860.4,247.1 1863.1,245.7 1865.8,246.3 1868.5,245.2 1871.2,245.9 1873.9,246.2 1876.6,245.6 1879.3,245.5 1882,244.9 1884.7,246.6 1887.4,245.7 1890.1,245 1892.8,245.4 1895.5,244.7 1898.2,244.6 1900.9,243.5 1903.6,243.3 1906.3,244.8 1909,244.2 1911.7,243.5 1914.5,242.8 1917.2,242.6 1919.9,242.4 1922.6,241.4 1925.3,240.9 1928,240.8 1930.7,240.6 1933.4,239.9 1936.1,239.8 1938.8,238.4 1941.5,237.9 1944.2,238.4 1946.9,236.6 1949.6,237 1952.3,236.1 1955,236.1 1957.7,235.8 1960.4,234.9 1963.1,235.3 1965.9,234.6 1968.6,234.6 1971.3,233.3 1974,233.3 1976.7,232.9 1979.4,232.6 1982.1,231.6 1984.8,231.5 1987.5,231.4 1990.2,231.2 1992.9,229.6 1995.6,229.4 1998.3,230.4 2001,228.8 2003.7,228.9 2006.4,228.7 2009.1,228.4 2011.8,229 2014.5,226.8 2017.2,226.8 2020,227.8 2022.7,227.6 2025.4,227.4 2028.1,227.6 2030.8,226.8 2033.5,226.9 2036.2,227.2 2038.9,226.6 2041.6,226.3 2044.3,225.9 2047,225.5 2049.7,224.5 2052.4,224.7 2055.1,224.9 2057.8,222.9 2060.5,223.5 2063.2,222 2065.9,222.2 2068.6,221.6 2071.4,222 2074.1,221.1 2076.8,220.9 2079.5,220.4 2082.2,219.9 2084.9,220.1 2087.6,219.4 2090.3,220.5 2093,220.2 2095.7,219.4 2098.4,219.4 2101.1,219.1 2103.8,218.7 2106.5,219.2 2109.2,218.8 2111.9,218.9 2114.6,218.8 2117.3,218.6 2120,218.2 2122.7,218.4 2125.5,218 2128.2,217.2 2130.9,217.1 2133.6,216.4 2136.3,216.9 2139,216.5 2141.7,215.6 2144.4,215.9 2147.1,215.4 2149.8,214.3 2152.5,214.4 2155.2,213.4 2157.9,213.4 2160.6,213.5 2163.3,213.5 2166,212.1 2168.7,212.5 2171.4,212.7 2174.1,212.8 2176.9,212.5 2179.6,211.9 2182.3,210.9 2185,212 2187.7,211.3 2190.4,211.3 2193.1,213.2 2195.8,212.2 2198.5,211 2201.2,212.6 2203.9,210.9 2206.6,211.4 2209.3,212.2 2212,210.2 2214.7,211.1 2217.4,209.9 2220.1,210.3 2222.8,210.5 2225.5,209.1 2228.3,208.4 2231,208.3 2233.7,209.3 2236.4,207.9 2239.1,208.5 2241.8,208 2244.5,206.8 2247.2,208.1 2249.9,205.9 2252.6,207.9 2255.3,207.8 2258,206.6 2260.7,207.1 2263.4,207.1 2266.1,207.4 2268.8,206.4 2271.5,206.5 2274.2,206.4 2276.9,206.6 2279.6,206.8 2282.4,205.8 2285.1,206.7 2287.8,205.6 2290.5,204.7 2293.2,204.4 2295.9,204.8 2298.6,205.7 2301.3,203.7 2304,203.3 2306.7,203.4 2309.4,202.4 2312.1,202.3 2314.8,203.5 2317.5,202.5 2320.2,202.4 2322.9,201 2325.6,201.1 2328.3,201.3 2331,200.9 2333.8,200.5 2336.5,201.1 2339.2,200.6 2341.9,200.4 2344.6,200.4 2347.3,200.1 2350,199.6 2352.7,200.2 2355.4,200 2358.1,198.7 2360.8,198 2363.5,197.6 2366.2,199.3 2368.9,197.8 2371.6,198.2 2374.3,197.8 2377,197.2 2379.7,196.5 2382.4,196.1 2385.1,197.5 2387.9,196.2 2390.6,195.1 2393.3,195.4 2396,196.2 2398.7,195.8 2401.4,195.6 2404.1,194.6 2406.8,194.1 2409.5,195.4 2412.2,194.4 2414.9,194.7 2417.6,194.1 2420.3,194.3 2423,194.6 2425.7,194.2 2428.4,194 2431.1,192.7 2433.8,193.7 2436.5,192.7 2439.3,193.3 2442,192.9 2444.7,192.1 2447.4,192.3 2450.1,190.6 2452.8,190.8 2455.5,191.9 2458.2,190.9 2460.9,190.3 2463.6,191.7 2466.3,191.2 2469,190.2 2471.7,191.4 2474.4,190.5 2477.1,190.8 2479.8,190.6 2482.5,191 2485.2,190.3 2487.9,190.3 2490.6,188.8 2493.4,189.2 2496.1,189.1 2498.8,188.8 2501.5,188.1 2504.2,189 2506.9,188.3 2509.6,188 2512.3,187.6 2515,187.8 2517.7,186.5 2520.4,186.9 2523.1,185.8 2525.8,186.5 2528.5,186.6 2531.2,186.2 2533.9,186.1 2536.6,186.5 2539.3,186 2542,185.6 2544.8,186.4 2547.5,185.3 2550.2,186 2552.9,185.1 2555.6,185.4 2558.3,185.2 2561,184.5 2563.7,184.8 2566.4,184.6 2569.1,183.4 2571.8,183 2574.5,183.1 2577.2,181.1 2579.9,181.7 2582.6,182 2585.3,181.1 2588,180.8 2590.7,181.1 2593.4,180.8 2596.1,181.3 2598.9,180 2601.6,178.9 2604.3,179.1 2607,178.9 2609.7,179.6 2612.4,179.8 2615.1,178.6 2617.8,178.8 2620.5,179 2623.2,178.9 2625.9,178.2 2628.6,178.3 2631.3,178.8 2634,178.6 2636.7,179.3 2639.4,179.1 2642.1,178.2 2644.8,178.8 2647.5,179.1 2650.3,178.6 2653,178.1 2655.7,179.3 2658.4,179 2661.1,178.8 2663.8,177.2 2666.5,177.8 2669.2,177.9 2671.9,178.5 2674.6,177 2677.3,176.7 2680,176.7 2682.7,176.6 2685.4,176 2688.1,176.1 2690.8,175 2693.5,174.6 2696.2,174.5 2698.9,173.9 2701.6,174.3 2704.4,172.7 2707.1,173.3 2709.8,173.7 2712.5,172.5 2715.2,172.5 2717.9,172.8 2720.6,172.9 2723.3,171.9 2726,171.2 2728.7,170.7 2731.4,170.1 2734.1,169.7 2736.8,170.6 2739.5,169.4 2742.2,170.1 2744.9,168.3 2747.6,168.1 2750.3,167.4 2753,167.4 2755.8,166.9 2758.5,166.6 2761.2,167.2 2763.9,165.3 2766.6,163.3 2769.3,163.5 2772,163.8 2774.7,163.1 2777.4,162.6 2780.1,162.7 2782.8,161.9 2785.5,161.3 2788.2,161.3 2790.9,160.3 2793.6,159.6 2796.3,159.4 2799,159.5 2801.7,159.5 2804.4,158.9 2807.1,159.5 2809.9,159.6 2812.6,158.7 2815.3,159.7 2818,160.4 2820.7,159.4 2823.4,159.7 2826.1,159.8 2828.8,160.6 2831.5,160.3 2834.2,161.2 2836.9,161.8 2839.6,161.7 2842.3,161.9 2845,163.2 2847.7,163.3 2850.4,163.9 2853.1,165.1 2855.8,165.6 2858.5,166.6 2861.3,167.8 2864,168 2866.7,168.5 2869.4,170.4 2872.1,170.1 2874.8,169.6 2877.5,169.9 2880.2,171.1 2882.9,169.9 2885.6,169.1 2888.3,169.1 2891,168.8 2893.7,168.9 2896.4,168.4 2899.1,168.5 2901.8,167.3 2904.5,165.5 2907.2,166.1 2909.9,166 2912.6,164.6 2915.4,165.3 2918.1,162.5 2920.8,162.8 2923.5,162.8 2926.2,162.4 2928.9,162.3 2931.6,161.3 2934.3,160.9 2937,161.2 2939.7,159.4 2942.4,159.6 2945.1,159.5 2947.8,157.8 2950.5,157.4 2953.2,157.5 2955.9,157 2958.6,155.4 2961.3,155.7 2964,154.9 2966.8,153.8 2969.5,154.9 2972.2,154.7 2974.9,154.1 2977.6,153.7 2980.3,153.1 2983,152.4 2985.7,153 2988.4,151.8 2991.1,152.7 2993.8,154.3 2996.5,153.9 2999.2,154.1 3001.9,154.6 3004.6,156.2 3007.3,156.1 3010,155 3012.7,156.1 3015.4,156.6 3018.1,156.8 3020.9,156.1 3023.6,155.4 3026.3,155.9 3029,154.3 3031.7,155.1 3034.4,155.3 3037.1,153.6 3039.8,153.6 3042.5,153.5 3045.2,152.4 3047.9,153.1 3050.6,152.1 3053.3,152.4 3056,150.9 3058.7,151.3 3061.4,150.7 3064.1,149.8 3066.8,149.6 3069.5,148.7 3072.3,148.5 3075,147.4 3077.7,147.2 3080.4,147.1 3083.1,146.1 3085.8,145.9 3088.5,146.5 3091.2,146 3093.9,146.6 3096.6,145.6 3099.3,145.3 3102,144.4 3104.7,145.4 3107.4,144.8 3110.1,144.5 3112.8,144.6 3115.5,145.7 3118.2,144.8 3120.9,144.2 3123.6,144 3126.4,144 3129.1,144.5 3131.8,145 3134.5,143.8 3137.2,143.4 3139.9,144.3 3142.6,143.9 3145.3,144.6 3148,144.6 3150.7,145 3153.4,144.5 3156.1,145.6 3158.8,145.3 3161.5,145.1 3164.2,145.6 3166.9,146.3 3169.6,145.3 3172.3,145.2 3175,145.4 3177.8,144.3 3180.5,143.8 3183.2,142.7 3185.9,142.6 3188.6,141.8 3191.3,140.9 3194,141.8 3196.7,139.8 3199.4,139.9 3202.1,140.1 3204.8,139.2 3207.5,138.4 3210.2,139 3212.9,138.6 3215.6,137.2 3218.3,136.7 3221,136 3223.7,136.6 3226.4,136.7 3229.1,136.2 3231.9,135.5 3234.6,135.4 3237.3,134.3 3240,133.5 3242.7,134.5 3245.4,133 3248.1,134.2 3250.8,134.1 3253.5,135.1 3256.2,135.1 3258.9,136.8 3261.6,137.8 3264.3,139.9 3267,138.8 3269.7,138.4 3272.4,140 3275.1,137.5 3277.8,138.3 3280.5,137.9 3283.3,138.6 3286,137.9 3288.7,137.6 3291.4,136.9 3294.1,138.8 3296.8,137.2 3299.5,138.9 3302.2,138.3 3304.9,138.7 3307.6,138.6 3310.3,139.5 3313,138.6 3315.7,138.9 3318.4,138.2 3321.1,137.6 3323.8,137.4 3326.5,137.1 3329.2,135.9 3331.9,136.1 3334.6,135.6 3337.4,134.9 3340.1,135.3 3342.8,135 3345.5,134.4 3348.2,134.6 3350.9,133.5 3353.6,134.2 3356.3,133.7 3359,133.2 3361.7,132.9 3364.4,132.2 3367.1,132 3369.8,132.4 3372.5,130.1 3375.2,130.4 3377.9,129.4 3380.6,130 3383.3,128.8 3386,129.5 3388.8,127.9 3391.5,128.6 3394.2,128.7 3396.9,129.9 3399.6,129.6 3402.3,128.7 3405,129 3407.7,129.1 3410.4,129.3 3413.1,128.8 3415.8,129.9 3418.5,130.2 3421.2,130.8 3423.9,131.4 3426.6,131 3429.3,131.7 3432,131.9 3434.7,131.7 3437.4,131.8 3440.1,131.5 3442.9,131.5 3445.6,132.4 3448.3,131.9 3451,130.8 3453.7,131.2 3456.4,130.3 3459.1,130.8 3461.8,131.2 3464.5,130.7 3467.2,129.4 3469.9,128.9 3472.6,126.9 3475.3,127.3 3478,126.9 3480.7,126.4 3483.4,127.3 3486.1,126 3488.8,125.7 3491.5,124.3 3494.3,125.4 3497,125.5 3499.7,124.4 3502.4,124.4 3505.1,124 3507.8,123.8 3510.5,123.7 3513.2,124.1 3515.9,123.9 3518.6,122.4 3521.3,123.8 3524,123.2 3526.7,123.8 3529.4,124.1 3532.1,122.6 3534.8,122.7 3537.5,122 3540.2,121.9 3542.9,122.2 3545.6,122.6 3548.4,121 3551.1,121.8 3553.8,120.5 3556.5,121.2 3559.2,121 3561.9,121 3564.6,120.9 3567.3,121.1 3570,119.6 3572.7,121.2 3575.4,121.4 3578.1,120.4 3580.8,120.7 3583.5,119.8 3586.2,120.2 3588.9,119.4 3591.6,119.8 3594.3,120.1 3597,119.8 3599.8,119.1 3602.5,119.7 3605.2,119.7 3607.9,119.3 3610.6,119.1 3613.3,118.5 3616,118.9 3618.7,118.6 3621.4,119.1 3624.1,117.9 3626.8,117.6 3629.5,118.9 3632.2,118.1 3634.9,118.1 3637.6,117.6 3640.3,117.7 3643,117.6 3645.7,117.7 3648.4,117.1 3651.1,116.6 3653.9,115.9 3656.6,115.9 3659.3,116.2 3662,116.2 3664.7,116.5 3667.4,115.2 3670.1,115.4 3672.8,115.1 3675.5,115 3678.2,115.1 3680.9,115.3 3683.6,115.3 3686.3,115.6 3689,115.3 3691.7,114.6 3694.4,113.5 3697.1,114.8 3699.8,114.4 3702.5,112.9 3705.3,114.6 3708,114.9 3710.7,114.9 3713.4,115.2 3716.1,116.3 3718.8,115 3721.5,116.5 3724.2,115.9 3726.9,115.9 3729.6,115.4 3732.3,115.7 3735,115.7 3737.7,115.7 3740.4,115 3743.1,115.1 3745.8,115.1 3748.5,115.2 3751.2,114.8 3753.9,114.1 3756.6,114.9 3759.4,113.9 3762.1,113.8 3764.8,113.2 3767.5,114 3770.2,114.1 3772.9,113.4 3775.6,113.3 3778.3,114.3 3781,112.1 3783.7,112.3 3786.4,112.1 3789.1,112.3 3791.8,111.5 3794.5,111.7 3797.2,110.5 3799.9,111 3802.6,110.6 3805.3,111.9 3808,111.7 3810.8,111.4 3813.5,111.5 3816.2,110.3 3818.9,110.9 3821.6,111.5 3824.3,110.9 3827,109.7 3829.7,110.8 3832.4,110.2 3835.1,111.4 3837.8,110.8 3840.5,110.7 3843.2,110.7 3845.9,110.5 3848.6,110.3 3851.3,109.9 3854,111.4 3856.7,110.4 3859.4,110 3862.2,110.1 3864.9,109.5 3867.6,110 3870.3,110 3873,110 3875.7,108.9 3878.4,109.8 3881.1,109.2 3883.8,108.8 3886.5,108.3 3889.2,108.7 3891.9,108.9 3894.6,108 3897.3,108.8 3900,108.5 3902.7,109.2 3905.4,108 3908.1,108 3910.8,109 3913.5,108.2 3916.3,107.8 3919,108.5 3921.7,109.1 3924.4,108.3 3927.1,107.9 3929.8,109.2 3932.5,107.7 3935.2,108.1 3937.9,107.4 3940.6,108.3 3943.3,107.1 3946,107.2 3948.7,106.8 3951.4,107 3954.1,106.3 3956.8,106.7 3959.5,106.7 3962.2,106.9 3964.9,107.1 3967.7,106.2 3970.4,106.4 3973.1,106.3 3975.8,106.4 3978.5,106.1 3981.2,106.4 3983.9,106.7 3986.6,106 3989.3,105.1 3992,106.4 3994.7,105.8 3997.4,104.8 4000.1,105 4002.8,103.6 4005.5,104.1 4008.2,103.9 4010.9,103.4 4013.6,102.2 4016.3,103.6 4019,102.4 4021.8,103.6 4024.5,102.2 4027.2,102.5 4029.9,102.4 4032.6,101.6 4035.3,102.8 4038,102.2 4040.7,102.5 4043.4,102.2 4046.1,103 4048.8,101.8 4051.5,102.4 4054.2,101.2 4056.9,101.2 4059.6,101.4 4062.3,100.9 4065,100.7 4067.7,100.7 4070.4,99.4 4073.2,101.2 4075.9,101.5 4078.6,101.5 4081.3,101 4084,101 4086.7,100.7 4089.4,100.6 4092.1,101.1 4094.8,101.1 4097.5,101.8 4100.2,100.7 4102.9,100.4 4105.6,101 4108.3,100.4 4111,100.9 4113.7,100.3 4116.4,99.8 4119.1,99.1 4121.8,100.1 4124.5,98.9 4127.3,98.3 4130,98.3 4132.7,97.9 4135.4,99.4 4138.1,98.4 4140.8,98 4143.5,98 4146.2,98.7 4148.9,96.8 4151.6,97 4154.3,98 4157,97.1 4159.7,96.7 4162.4,96.1 4165.1,96.1 4167.8,96.9 4170.5,96.7 4173.2,96.2 4175.9,95.8 4178.7,96.5 4181.4,96.5 4184.1,95.8 4186.8,95.8 4189.5,95 4192.2,95.2 4194.9,94.8 4197.6,96 4200.3,95.4 4203,95.2 4205.7,94.6 4208.4,93.9 4211.1,94.1 4213.8,93.6 4216.5,94.2 4219.2,93.3 4221.9,93.4 4224.6,94.7 4227.3,94.4 4230,94.2 4232.8,93.4 4235.5,93.4 4238.2,92.8 4240.9,94.5 4243.6,93.7 4246.3,93.9 4249,94.1 4251.7,94.2 4254.4,95.3 4257.1,94 4259.8,94.5 4262.5,94.8 4265.2,93.2 4267.9,94 4270.6,93.2 4273.3,93.4 4276,93.6 4278.7,92.7 4281.4,92.1 4284.2,92.7 4286.9,91.8 4289.6,91.1 4292.3,91.4 4295,92.2 4297.7,92.4 4300.4,91.4 4303.1,92.5 4305.8,92.1 4308.5,90.4 4311.2,90.9 4313.9,90.7 4316.6,90.9 4319.3,89 4322,88.7 4324.7,90.5 4327.4,89.9 4330.1,90.5 4332.8,90.2 4335.5,89.7 4338.3,89.8 4341,90.6 4343.7,90.2 4346.4,88.8 4349.1,89.7 4351.8,89.3 4354.5,89.6 4357.2,89.9 4359.9,90.3 4362.6,90.2 4365.3,90.5 4368,90.2 4370.7,90.1 4373.4,89.2 4376.1,90.4 4378.8,89.2 4381.5,90.4 4384.2,87.9 4386.9,89.5 4389.7,89.1 4392.4,88.1 4395.1,89.2 4397.8,89 4400.5,88.9 4403.2,88.7 4405.9,89.2 4408.6,88 4411.3,88.3 4414,88.8 4416.7,88.1 4419.4,88.7 4422.1,88.9 4424.8,88.4 4427.5,87.9 4430.2,88.8 4432.9,87.9 4435.6,87.2 4438.3,87.8 4441,86.8 4443.8,87.3 4446.5,86.4 4449.2,86.3 4451.9,85.9 4454.6,86.3 4457.3,86.9 4460,87.1 4462.7,83.6 4465.4,86.3 4468.1,85.9 4470.8,86.3 4473.5,84.6 4476.2,84.9 4478.9,84.7 4481.6,85.7 4484.3,84.5 4487,85.4 4489.7,84.3 4492.4,84.9 4495.2,86.2 4497.9,85 4500.6,85.5 4503.3,83.7 4506,85.8 4508.7,85.2 4511.4,85.2 4514.1,85.4 4516.8,85.1 4519.5,84.6 4522.2,84.1 4524.9,84.3 4527.6,84 4530.3,83.7 4533,84.1 4535.7,83.7 4538.4,83.5 4541.1,82.9 4543.8,83.1 4546.5,83.2 4549.3,83 4552,83.9 4554.7,82.7 4557.4,83.3 4560.1,83 4562.8,83 4565.5,82.3 4568.2,82.9 4570.9,82.1 4573.6,82.5 4576.3,82.5 4579,82 4581.7,82.6 4584.4,81.3 4587.1,82.2 4589.8,81.8 4592.5,80.7 4595.2,81.8 4597.9,80.3 4600.7,80.5 4603.4,80.3 4606.1,80.1 4608.8,80.6 4611.5,79.2 4614.2,79.8 4616.9,79.8 4619.6,79.7 4622.3,79.7 4625,80 4627.7,80.6 4630.4,80.7 4633.1,80.7 4635.8,80.1 4638.5,79.2 4641.2,80.5 4643.9,80 4646.6,79.5 4649.3,80 4652,80.1 4654.8,80.6 4657.5,80 4660.2,80.5 4662.9,80.6 4665.6,80.4 4668.3,80 4671,79.6 4673.7,80.7 4676.4,79.7 4679.1,80.5 4681.8,80.8 4684.5,80 4687.2,79.5 4689.9,79.5 4692.6,79.1 4695.3,80.3 4698,78.3 4700.7,78.4 4703.4,78.4 4706.2,79.5 4708.9,78.3 4711.6,78.8 4714.3,78.7 4717,78.3 4719.7,79 4722.4,77.4 4725.1,77.2 4727.8,77.1 4730.5,76.5 4733.2,77.9 4735.9,77 4738.6,76.9 4741.3,77.3 4744,76.3 4746.7,75.5 4749.4,77.5 4752.1,76.7 4754.8,77.1 4757.5,77 4760.3,77 4763,76.6 4765.7,77.2 4768.4,76.9 4771.1,75.6 4773.8,76.3 4776.5,76.1 4779.2,76.8 4781.9,75.5 4784.6,75.3 4787.3,75.3 4790,74.4 4792.7,76.1 4795.4,74.4 4798.1,75.6 4800.8,75.1 4803.5,75.4 4806.2,73.8 4808.9,74.2 4811.7,74.3 4814.4,74 4817.1,75.2 4819.8,74.5 4822.5,74.1 4825.2,74.6 4827.9,74.3 4830.6,75.1 4833.3,74.1 4836,74.3 4838.7,73.9 4841.4,73.1 4844.1,73.7 4846.8,73.9 4849.5,73.3 4852.2,74 4854.9,72.5 4857.6,73.3 4860.3,73.4 4863,73.2 4865.8,74.1 4868.5,73.5 4871.2,73.6 4873.9,72.3 4876.6,72.6 4879.3,72.3 4882,73.1 4884.7,73 4887.4,72.3 4890.1,73.2 4892.8,73.2 4895.5,71.8 4898.2,72.3 4900.9,72.2 4903.6,73.3 4906.3,72.6 4909,72.6 4911.7,72.8 4914.4,72.2 4917.2,72.8 4919.9,73 4922.6,71.2 4925.3,71.9 4928,72.6 4930.7,70.8 4933.4,71.5 4936.1,71.4 4938.8,72.9 4941.5,70.6 4944.2,71.2 4946.9,70.7 4949.6,70.4 4952.3,72 4955,70.3 4957.7,70.8 4960.4,71 4963.1,72.1 4965.8,69.6 4968.5,70.1 4971.3,69.7 4974,70.3" stroke="#008000" marker-start="url(#mg)" marker-mid="url(#mg)" marker-end="url(#mg)"/>
<polyline points="632.2,-206.3 634.9,-206.3 637.6,-206.3 640.3,-206.3 643,-206.3 645.7,-206.3 648.5,-206.3 651.2,-206.3 653.9,-206.3 656.6,-206.3 659.3,-206.3 662,-206.3 664.7,-206.3 667.4,-206.3 670.1,-206.3 672.8,-206.3 675.5,-132.5 678.2,9.4 680.9,164.8 683.6,347.2 686.3,520.6 689,657.5 691.7,740.2 694.4,759.1 697.1,745.5 699.9,731.8 702.6,715.8 705.3,685.2 708,625.4 710.7,587.9 713.4,560.3 716.1,537 718.8,515.6 721.5,494 724.2,475.3 726.9,454.4 729.6,429 732.3,401.4 735,379.3 737.7,362.3 740.4,343.2 743.1,325.8 745.8,315 748.5,304.2 751.2,296.4 754,292.1 756.7,290.8 759.4,289.6 762.1,288.9 764.8,291.5 767.5,296.3 770.2,300 772.9,305.1 775.6,307.7 778.3,311.5 781,314.4 783.7,316.2 786.4,318.7 789.1,319.8 791.8,321.3 794.5,320.6 797.2,319.5 799.9,318.2 802.6,317.2 805.4,315.2 808.1,313.5 810.8,311.6 813.5,309.5 816.2,306.9 818.9,305.1 821.6,301.1 824.3,298 827,293.2 829.7,288.1 832.4,280.6 835.1,272 837.8,262.2 840.5,252.5 843.2,240.6 845.9,232 848.6,222.8 851.3,211.1 854,200.2 856.7,190.9 859.5,183.6 862.2,179.3 864.9,173.7 867.6,172.1 870.3,167.1 873,166.8 875.7,164.8 878.4,163 881.1,161.8 883.8,160 886.5,159.7 889.2,158.5 891.9,158.5 894.6,156.7 897.3,157.9 900,159.3 902.7,160.8 905.4,162.9 908.1,166.4 910.9,170.7 913.6,174.6 916.3,179.2 919,184.2 921.7,189.9 924.4,194.9 927.1,201.4 929.8,206.4 932.5,212.5 935.2,217.6 937.9,223.3 940.6,227.8 943.3,233.2 946,236.8 948.7,242.1 951.4,244.7 954.1,248.7 956.8,252.1 959.5,253.1 962.2,253.1 965,253.6 967.7,253 970.4,252.2 973.1,250 975.8,248.3 978.5,244 981.2,240.7 983.9,237.6 986.6,234 989.3,229.6 992,224.3 994.7,219.7 997.4,215.4 1000.1,209.6 1002.8,204.5 1005.5,199.7 1008.2,195 1010.9,190.4 1013.6,186 1016.4,182 1019.1,178.3 1021.8,173.7 1024.5,172.1 1027.2,168.5 1029.9,165.9 1032.6,163.5 1035.3,163.7 1038,162.2 1040.7,162.2 1043.4,162.8 1046.1,163 1048.8,165.8 1051.5,165.6 1054.2,167.7 1056.9,169.2 1059.6,171.6 1062.3,174.2 1065,177.2 1067.7,178.7 1070.5,181.8 1073.2,185.4 1075.9,187.7 1078.6,191.2 1081.3,194.1 1084,196.6 1086.7,199.1 1089.4,203.3 1092.1,205 1094.8,207.2 1097.5,210.6 1100.2,212.2 1102.9,213.9 1105.6,215.3 1108.3,217.9 1111,219.4 1113.7,219.8 1116.4,220.1 1119.1,219.9 1121.9,219.5 1124.6,219.7 1127.3,217 1130,216.6 1132.7,213.6 1135.4,211.3 1138.1,208.8 1140.8,206.1 1143.5,203.1 1146.2,200.7 1148.9,197.5 1151.6,192.6 1154.3,189.6 1157,186.5 1159.7,183.5 1162.4,181.7 1165.1,176.8 1167.8,175 1170.5,172 1173.2,168.9 1176,167.2 1178.7,163.9 1181.4,163.8 1184.1,160.1 1186.8,159 1189.5,158.6 1192.2,156.9 1194.9,156.5 1197.6,156.9 1200.3,157.2 1203,158.6 1205.7,158.9 1208.4,160.1 1211.1,161.4 1213.8,163.2 1216.5,166.1 1219.2,166.6 1221.9,169.4 1224.6,170.9 1227.4,172.5 1230.1,174.2 1232.8,176.5 1235.5,178.1 1238.2,179.9 1240.9,182.1 1243.6,184 1246.3,185.8 1249,187.5 1251.7,190.1 1254.4,192.1 1257.1,192.2 1259.8,194.1 1262.5,196.5 1265.2,195.5 1267.9,195.9 1270.6,197.5 1273.3,196.9 1276,196.1 1278.7,195.5 1281.5,194.1 1284.2,192.4 1286.9,190.3 1289.6,190.4 1292.3,187.2 1295,184.7 1297.7,184.6 1300.4,181 1303.1,179.1 1305.8,177.2 1308.5,174.3 1311.2,171.8 1313.9,169.8 1316.6,167.3 1319.3,166.8 1322,165.6 1324.7,163.1 1327.4,161.1 1330.1,159 1332.9,157.9 1335.6,157.2 1338.3,155 1341,154.4 1343.7,153.6 1346.4,153.1 1349.1,152.2 1351.8,151.6 1354.5,151.7 1357.2,153 1359.9,152.3 1362.6,151.9 1365.3,151.8 1368,152.6 1370.7,153.5 1373.4,154.2 1376.1,155.9 1378.8,156.8 1381.5,158.4 1384.2,160.3 1387,162.4 1389.7,164.4 1392.4,164.8 1395.1,167.2 1397.8,168.1 1400.5,168.9 1403.2,170.9 1405.9,171.2 1408.6,172.7 1411.3,174.1 1414,174 1416.7,174.4 1419.4,175.5 1422.1,175.1 1424.8,175.8 1427.5,174.9 1430.2,174.4 1432.9,174.6 1435.6,173.3 1438.4,171.8 1441.1,171.9 1443.8,171.1 1446.5,170 1449.2,168.4 1451.9,167.2 1454.6,166 1457.3,163.6 1460,161.9 1462.7,161 1465.4,158.9 1468.1,156.9 1470.8,155.7 1473.5,154.3 1476.2,152.7 1478.9,152.2 1481.6,150.3 1484.3,148.6 1487,149.1 1489.7,148.9 1492.5,147.5 1495.2,147 1497.9,145.9 1500.6,145 1503.3,145.2 1506,144.6 1508.7,145.4 1511.4,145.7 1514.1,147.1 1516.8,146.2 1519.5,147.2 1522.2,147.6 1524.9,147.9 1527.6,147.5 1530.3,148.5 1533,149.7 1535.7,151.2 1538.4,151.5 1541.1,152.3 1543.9,152.6 1546.6,153.7 1549.3,154.5 1552,156.2 1554.7,155.9 1557.4,155.7 1560.1,158.6 1562.8,159.1 1565.5,159.1 1568.2,159.1 1570.9,160 1573.6,160.5 1576.3,160.1 1579,161.7 1581.7,162.3 1584.4,162 1587.1,160.4 1589.8,159.9 1592.5,160 1595.2,159.7 1598,158.5 1600.7,156.8 1603.4,155.3 1606.1,154.8 1608.8,153.7 1611.5,152.4 1614.2,150.9 1616.9,148.9 1619.6,147.9 1622.3,146.6 1625,145.5 1627.7,144.2 1630.4,143.9 1633.1,142.7 1635.8,140.9 1638.5,139.9 1641.2,138.7 1643.9,138.4 1646.6,138.1 1649.4,137.2 1652.1,136.7 1654.8,135.9 1657.5,136 1660.2,135.4 1662.9,135.4 1665.6,135.4 1668.3,135.6 1671,136.7 1673.7,136 1676.4,136.2 1679.1,137.1 1681.8,137.3 1684.5,138.5 1687.2,139.7 1689.9,139.9 1692.6,140.9 1695.3,141.5 1698,141.2 1700.7,143 1703.5,142.5 1706.2,143.9 1708.9,144.9 1711.6,144.1 1714.3,144.8 1717,145.2 1719.7,145.6 1722.4,145.6 1725.1,146.4 1727.8,147.1 1730.5,147.2 1733.2,147.1 1735.9,147.6 1738.6,147 1741.3,148 1744,146.6 1746.7,145.9 1749.4,144.8 1752.1,145 1754.9,143.8 1757.6,142.6 1760.3,140.5 1763,141.1 1765.7,140 1768.4,139.7 1771.1,137.5 1773.8,138 1776.5,137.2 1779.2,136.2 1781.9,136.1 1784.6,135.2 1787.3,134.1 1790,133.7 1792.7,132.1 1795.4,132.3 1798.1,130.3 1800.8,130.8 1803.5,130.9 1806.2,130.1 1809,129.5 1811.7,129.7 1814.4,129.4 1817.1,129.8 1819.8,130.2 1822.5,130 1825.2,129.3 1827.9,130.8 1830.6,130.9 1833.3,132.1 1836,132.1 1838.7,132.1 1841.4,132.9 1844.1,132.6 1846.8,133 1849.5,134.1 1852.2,134.2 1854.9,134.1 1857.6,134.4 1860.4,134.9 1863.1,135.8 1865.8,134.1 1868.5,134.9 1871.2,134.9 1873.9,135.5 1876.6,134.4 1879.3,135.3 1882,135.1 1884.7,136.1 1887.4,135.1 1890.1,134.6 1892.8,134 1895.5,133.4 1898.2,133.4 1900.9,132.1 1903.6,132.1 1906.3,131.6 1909,130.9 1911.7,131.2 1914.5,130.8 1917.2,128.1 1919.9,129.3 1922.6,128.2 1925.3,127 1928,127 1930.7,125.5 1933.4,126.6 1936.1,124.9 1938.8,124.2 1941.5,122.9 1944.2,122.8 1946.9,123.5 1949.6,122.3 1952.3,122.2 1955,122.6 1957.7,122 1960.4,120.9 1963.1,121.5 1965.9,121.7 1968.6,121.5 1971.3,121.9 1974,122.2 1976.7,121.2 1979.4,121.1 1982.1,120.8 1984.8,122 1987.5,121.6 1990.2,120.6 1992.9,120.6 1995.6,120.6 1998.3,121 2001,120.5 2003.7,121.1 2006.4,119.6 2009.1,120.2 2011.8,121.3 2014.5,120.3 2017.2,121.5 2020,120.6 2022.7,120.8 2025.4,121 2028.1,120 2030.8,121.3 2033.5,120.4 2036.2,120.2 2038.9,120.7 2041.6,120.4 2044.3,119.4 2047,119.2 2049.7,119.8 2052.4,118.9 2055.1,118.8 2057.8,118.4 2060.5,118.8 2063.2,118.5 2065.9,117.8 2068.6,118.1 2071.4,118 2074.1,117.9 2076.8,116.7 2079.5,116.1 2082.2,117.6 2084.9,116.7 2087.6,116 2090.3,115.6 2093,116.1 2095.7,116.5 2098.4,115.5 2101.1,114.4 2103.8,115 2106.5,114.5 2109.2,113.6 2111.9,114.8 2114.6,113.3 2117.3,112.6 2120,112.6 2122.7,112.8 2125.5,113 2128.2,113 2130.9,113.3 2133.6,112.8 2136.3,113.1 2139,112.4 2141.7,112.3 2144.4,112.3 2147.1,112.1 2149.8,111.6 2152.5,112.1 2155.2,111 2157.9,111.1 2160.6,110.8 2163.3,111.2 2166,111 2168.7,110.7 2171.4,110.6 2174.1,110.7 2176.9,110.5 2179.6,110.3 2182.3,110.1 2185,110.1 2187.7,110.1 2190.4,110.1 2193.1,108.9 2195.8,110 2198.5,109.8 2201.2,110.4 2203.9,109.9 2206.6,109.5 2209.3,110.6 2212,110.1 2214.7,110.3 2217.4,109.7 2220.1,110.1 2222.8,109.9 2225.5,109.8 2228.3,110.5 2231,108.8 2233.7,108.2 2236.4,109.2 2239.1,108 2241.8,108.2 2244.5,107.1 2247.2,107.6 2249.9,106.8 2252.6,106 2255.3,106.1 2258,106.1 2260.7,106.1 2263.4,106.2 2266.1,105.8 2268.8,106.4 2271.5,105.1 2274.2,105.6 2276.9,106 2279.6,106.5 2282.4,105.1 2285.1,104.9 2287.8,105.2 2290.5,104.8 2293.2,104.7 2295.9,105 2298.6,104.9 2301.3,104.6 2304,104 2306.7,104.8 2309.4,105.1 2312.1,104 2314.8,103.8 2317.5,103.6 2320.2,103.2 2322.9,103.6 2325.6,103.1 2328.3,102.5 2331,102.1 2333.8,101.5 2336.5,101.1 2339.2,101.1 2341.9,101.1 2344.6,101.2 2347.3,100.8 2350,101.1 2352.7,100.4 2355.4,99.6 2358.1,99.3 2360.8,99.8 2363.5,98.5 2366.2,100 2368.9,98.4 2371.6,98.5 2374.3,98.4 2377,98 2379.7,98.3 2382.4,96.9 2385.1,98.1 2387.9,97.9 2390.6,97.5 2393.3,98.5 2396,97.4 2398.7,97.9 2401.4,96.4 2404.1,97.2 2406.8,96.9 2409.5,97.7 2412.2,95.8 2414.9,97.5 2417.6,97.3 2420.3,96.9 2423,97.6 2425.7,97 2428.4,96.4 2431.1,95.6 2433.8,95.5 2436.5,96.5 2439.3,96.2 2442,95.5 2444.7,95.3 2447.4,96.4 2450.1,96.2 2452.8,96.1 2455.5,96.1 2458.2,96.4 2460.9,95.4 2463.6,96.5 2466.3,95.8 2469,96.2 2471.7,94.6 2474.4,95.6 2477.1,97.2 2479.8,95.8 2482.5,97.1 2485.2,95.2 2487.9,95.9 2490.6,96.7 2493.4,96.1 2496.1,95.8 2498.8,94.9 2501.5,95.7 2504.2,95.6 2506.9,96.2 2509.6,96.2 2512.3,96.7 2515,96.1 2517.7,95.9 2520.4,95.6 2523.1,95.8 2525.8,95.2 2528.5,94.9 2531.2,94.3 2533.9,94.4 2536.6,94 2539.3,93.8 2542,93.4 2544.8,92.9 2547.5,93 2550.2,91.5 2552.9,91.3 2555.6,91.4 2558.3,91 2561,91.8 2563.7,91.3 2566.4,91 2569.1,90.5 2571.8,90.2 2574.5,90 2577.2,91 2579.9,90.3 2582.6,89.6 2585.3,90.4 2588,90 2590.7,91.1 2593.4,90.2 2596.1,90.4 2598.9,91.3 2601.6,89.8 2604.3,89.5 2607,89.8 2609.7,90.2 2612.4,90 2615.1,90.1 2617.8,89.4 2620.5,89.3 2623.2,88.7 2625.9,89.2 2628.6,88.6 2631.3,89.1 2634,89.2 2636.7,88.8 2639.4,89.3 2642.1,89.3 2644.8,88.4 2647.5,88.5 2650.3,89.3 2653,89.3 2655.7,88.9 2658.4,89.1 2661.1,88.2 2663.8,88.6 2666.5,88.9 2669.2,88.6 2671.9,87.8 2674.6,86.8 2677.3,87.4 2680,88.3 2682.7,87.9 2685.4,87.2 2688.1,87.3 2690.8,87 2693.5,86 2696.2,87.4 2698.9,87.4 2701.6,86.8 2704.4,86.7 2707.1,86.4 2709.8,86 2712.5,86.3 2715.2,85.4 2717.9,85.7 2720.6,85.3 2723.3,86.1 2726,85.5 2728.7,85.1 2731.4,84.4 2734.1,85 2736.8,85.1 2739.5,84.9 2742.2,83.5 2744.9,84.9 2747.6,83.8 2750.3,83.7 2753,82.7 2755.8,82.7 2758.5,82.8 2761.2,81.9 2763.9,81.4 2766.6,82 2769.3,82.4 2772,81.9 2774.7,81 2777.4,81.3 2780.1,80.5 2782.8,79.8 2785.5,80.1 2788.2,78.9 2790.9,79.8 2793.6,80 2796.3,78.9 2799,78.2 2801.7,79 2804.4,77.7 2807.1,76.8 2809.9,77.1 2812.6,76 2815.3,77.5 2818,76.1 2820.7,77.1 2823.4,76.9 2826.1,76.7 2828.8,75.3 2831.5,75.7 2834.2,75.1 2836.9,76.3 2839.6,76.9 2842.3,75.7 2845,76.6 2847.7,77.3 2850.4,76.4 2853.1,76.6 2855.8,77.9 2858.5,77.9 2861.3,78.1 2864,79.5 2866.7,80 2869.4,80.1 2872.1,80.2 2874.8,82.2 2877.5,82 2880.2,82.9 2882.9,83.7 2885.6,84.4 2888.3,85.3 2891,84.9 2893.7,85.6 2896.4,87 2899.1,85.7 2901.8,86.3 2904.5,85.9 2907.2,84.7 2909.9,85.3 2912.6,86.2 2915.4,85 2918.1,84.9 2920.8,83.3 2923.5,85 2926.2,82.4 2928.9,82.2 2931.6,81.8 2934.3,80.8 2937,79.6 2939.7,81 2942.4,79.9 2945.1,79.2 2947.8,78.7 2950.5,78.4 2953.2,77.5 2955.9,77.1 2958.6,76.8 2961.3,76.9 2964,75 2966.8,73.9 2969.5,73.4 2972.2,73.2 2974.9,72.3 2977.6,73.2 2980.3,71.6 2983,71.5 2985.7,71.3 2988.4,70.4 2991.1,70.9 2993.8,71 2996.5,71.3 2999.2,71.9 3001.9,71.3 3004.6,70.3 3007.3,70.5 3010,72.1 3012.7,72 3015.4,71.5 3018.1,73.1 3020.9,73 3023.6,73.6 3026.3,72.2 3029,73.5 3031.7,73.6 3034.4,73.8 3037.1,74.7 3039.8,73.4 3042.5,74.8 3045.2,75 3047.9,77.8 3050.6,76.9 3053.3,77.9 3056,78.8 3058.7,78.4 3061.4,77.6 3064.1,77.7 3066.8,78.3 3069.5,75.8 3072.3,76.5 3075,76.9 3077.7,76.3 3080.4,75.4 3083.1,74.4 3085.8,73.9 3088.5,73.2 3091.2,71.7 3093.9,71.8 3096.6,70.8 3099.3,70.7 3102,70 3104.7,68.8 3107.4,69 3110.1,68.2 3112.8,68.2 3115.5,66.9 3118.2,66.9 3120.9,65.7 3123.6,66.3 3126.4,64.4 3129.1,64.1 3131.8,64.3 3134.5,63.8 3137.2,64.2 3139.9,63.2 3142.6,62.9 3145.3,63.3 3148,62.6 3150.7,64.6 3153.4,63.7 3156.1,64.5 3158.8,64.2 3161.5,63.7 3164.2,64.3 3166.9,63.5 3169.6,64.6 3172.3,64.9 3175,64.9 3177.8,65.7 3180.5,65.6 3183.2,65.4 3185.9,65.3 3188.6,66.8 3191.3,67.3 3194,68.2 3196.7,68.7 3199.4,68.5 3202.1,68.9 3204.8,69.1 3207.5,69.6 3210.2,69 3212.9,70.5 3215.6,69.6 3218.3,69.2 3221,69.6 3223.7,69.1 3226.4,69.2 3229.1,69.1 3231.9,68.5 3234.6,68.6 3237.3,67.8 3240,67 3242.7,67.5 3245.4,66.1 3248.1,65.4 3250.8,64.8 3253.5,65.5 3256.2,64.4 3258.9,65.6 3261.6,64.9 3264.3,63.6 3267,63.6 3269.7,62.9 3272.4,62.3 3275.1,61.2 3277.8,60.7 3280.5,60.2 3283.3,59.2 3286,59.1 3288.7,58.6 3291.4,58.3 3294.1,58.2 3296.8,58.7 3299.5,59 3302.2,59.2 3304.9,59.8 3307.6,59.2 3310.3,59.7 3313,59.3 3315.7,59.9 3318.4,60.4 3321.1,59.8 3323.8,60.6 3326.5,60.6 3329.2,60.6 3331.9,61 3334.6,61.8 3337.4,61.5 3340.1,62.1 3342.8,62.7 3345.5,63.1 3348.2,63.3 3350.9,64.6 3353.6,63.4 3356.3,65.6 3359,65 3361.7,65.1 3364.4,64.3 3367.1,64.4 3369.8,64 3372.5,64.5 3375.2,62.9 3377.9,62.5 3380.6,63.5 3383.3,61.7 3386,62.1 3388.8,60.8 3391.5,59.6 3394.2,59.3 3396.9,59.6 3399.6,58.8 3402.3,57.5 3405,57.5 3407.7,56.8 3410.4,57.6 3413.1,56 3415.8,55.7 3418.5,55.8 3421.2,54.2 3423.9,54.5 3426.6,53.7 3429.3,54.1 3432,53.4 3434.7,53.2 3437.4,53.4 3440.1,53.3 3442.9,53.2 3445.6,53.4 3448.3,54 3451,53.1 3453.7,53.3 3456.4,53.1 3459.1,53.6 3461.8,52.4 3464.5,52.8 3467.2,52.7 3469.9,52.7 3472.6,53.5 3475.3,54.6 3478,55.6 3480.7,54.9 3483.4,55.9 3486.1,56.1 3488.8,56.3 3491.5,57.6 3494.3,58.4 3497,58.1 3499.7,59 3502.4,59.5 3505.1,59.3 3507.8,59.9 3510.5,59.7 3513.2,60.7 3515.9,60.2 3518.6,60.1 3521.3,59.9 3524,59.9 3526.7,58.8 3529.4,59.4 3532.1,58 3534.8,57.1 3537.5,57.1 3540.2,56.5 3542.9,56.5 3545.6,55.5 3548.4,55 3551.1,54.7 3553.8,54.3 3556.5,53.9 3559.2,53.8 3561.9,54.5 3564.6,53.8 3567.3,52.9 3570,51.3 3572.7,51.4 3575.4,51.6 3578.1,51.3 3580.8,51 3583.5,50.2 3586.2,50.3 3588.9,49.9 3591.6,50.2 3594.3,49.9 3597,50 3599.8,49.8 3602.5,49.5 3605.2,48.6 3607.9,49 3610.6,48.6 3613.3,49.4 3616,49.1 3618.7,49.7 3621.4,49.6 3624.1,49.8 3626.8,50.8 3629.5,50.3 3632.2,51.3 3634.9,50.8 3637.6,51.9 3640.3,52.8 3643,53 3645.7,53.4 3648.4,52.7 3651.1,54.5 3653.9,54.5 3656.6,54.6 3659.3,55.1 3662,55.3 3664.7,55.1 3667.4,56 3670.1,54.9 3672.8,55.1 3675.5,55.6 3678.2,54.9 3680.9,55.2 3683.6,55.1 3686.3,55 3689,54.2 3691.7,53 3694.4,52.4 3697.1,51.1 3699.8,50.4 3702.5,50.1 3705.3,49.9 3708,48.7 3710.7,49.3 3713.4,50.3 3716.1,49.1 3718.8,48.7 3721.5,48.6 3724.2,48.6 3726.9,48.4 3729.6,50.1 3732.3,47.7 3735,48.6 3737.7,48.8 3740.4,49.8 3743.1,48.5 3745.8,49.4 3748.5,49.9 3751.2,48.5 3753.9,48.4 3756.6,48.6 3759.4,48.8 3762.1,47.9 3764.8,47.8 3767.5,47.5 3770.2,47.2 3772.9,47.9 3775.6,46.7 3778.3,47.4 3781,46.4 3783.7,46.7 3786.4,46.7 3789.1,45.6 3791.8,46.3 3794.5,46.3 3797.2,46 3799.9,45.4 3802.6,48 3805.3,46.4 3808,46.6 3810.8,46.2 3813.5,46.7 3816.2,46.8 3818.9,46.5 3821.6,46.8 3824.3,47.1 3827,46.6 3829.7,45.5 3832.4,46 3835.1,47.4 3837.8,46.2 3840.5,46.5 3843.2,45.5 3845.9,46.4 3848.6,45.8 3851.3,45.4 3854,45.2 3856.7,45.8 3859.4,45.3 3862.2,44.3 3864.9,45.7 3867.6,45.3 3870.3,45.7 3873,45.2 3875.7,44.8 3878.4,44.9 3881.1,44.5 3883.8,45.5 3886.5,44.7 3889.2,44.9 3891.9,46.2 3894.6,44.1 3897.3,44.6 3900,44.9 3902.7,44 3905.4,44.2 3908.1,45.5 3910.8,43.9 3913.5,42.7 3916.3,43.7 3919,43.3 3921.7,44.6 3924.4,44.4 3927.1,44.3 3929.8,43.1 3932.5,43.2 3935.2,45.1 3937.9,43.4 3940.6,45.1 3943.3,44.8 3946,44.2 3948.7,44.6 3951.4,44.3 3954.1,44.1 3956.8,43.4 3959.5,44 3962.2,43.8 3964.9,43.4 3967.7,41.4 3970.4,41.7 3973.1,41.4 3975.8,41.4 3978.5,41.5 3981.2,40.7 3983.9,41.5 3986.6,42.3 3989.3,42.4 3992,40.2 3994.7,42 3997.4,41.9 4000.1,41.5 4002.8,40.9 4005.5,42 4008.2,41.5 4010.9,41.3 4013.6,42.2 4016.3,41.7 4019,41.3 4021.8,41.8 4024.5,41.9 4027.2,41.6 4029.9,41.8 4032.6,41.9 4035.3,41.7 4038,40.8 4040.7,41.7 4043.4,41.3 4046.1,40 4048.8,39.6 4051.5,40 4054.2,40.5 4056.9,40.8 4059.6,39.7 4062.3,39.8 4065,39.8 4067.7,39.8 4070.4,40.5 4073.2,40.3 4075.9,39.9 4078.6,39.8 4081.3,40.5 4084,40.1 4086.7,39.4 4089.4,38.4 4092.1,37.8 4094.8,38.8 4097.5,38.9 4100.2,38.5 4102.9,38.5 4105.6,39 4108.3,40.3 4111,38.5 4113.7,38.9 4116.4,38.5 4119.1,39 4121.8,38.7 4124.5,38.3 4127.3,39 4130,38.6 4132.7,37.7 4135.4,37.4 4138.1,38.6 4140.8,37.1 4143.5,36.8 4146.2,37.2 4148.9,37.1 4151.6,37.3 4154.3,37.2 4157,37.8 4159.7,36.9 4162.4,37.7 4165.1,38.4 4167.8,37.4 4170.5,37.2 4173.2,37.3 4175.9,38 4178.7,37 4181.4,38.8 4184.1,36.3 4186.8,36.9 4189.5,38.1 4192.2,38.2 4194.9,36 4197.6,37.1 4200.3,37.7 4203,37.1 4205.7,37.4 4208.4,37.3 4211.1,37 4213.8,36.9 4216.5,37.5 4219.2,36.6 4221.9,36.5 4224.6,36.9 4227.3,35.8 4230,35.8 4232.8,36.4 4235.5,34.7 4238.2,35.1 4240.9,34.4 4243.6,35.4 4246.3,35 4249,34.4 4251.7,34.6 4254.4,34.3 4257.1,34.8 4259.8,33 4262.5,33.8 4265.2,33.5 4267.9,33.4 4270.6,34.6 4273.3,33.6 4276,36 4278.7,35 4281.4,35.1 4284.2,34.7 4286.9,35.1 4289.6,33.9 4292.3,33.1 4295,33.9 4297.7,33.6 4300.4,35 4303.1,34.2 4305.8,33.7 4308.5,34.3 4311.2,33.9 4313.9,34.3 4316.6,33.9 4319.3,34.8 4322,33.8 4324.7,33.2 4327.4,33.6 4330.1,32.7 4332.8,33.8 4335.5,33.3 4338.3,34.4 4341,33.1 4343.7,33.3 4346.4,33.8 4349.1,33 4351.8,34.2 4354.5,33.8 4357.2,33.5 4359.9,34.1 4362.6,34 4365.3,32.8 4368,33.3 4370.7,33.5 4373.4,32.9 4376.1,32.7 4378.8,32.5 4381.5,31.7 4384.2,32.2 4386.9,32.3 4389.7,31.4 4392.4,31.4 4395.1,30.7 4397.8,32.1 4400.5,31.7 4403.2,30.8 4405.9,31.2 4408.6,31.6 4411.3,31.6 4414,30.7 4416.7,31 4419.4,31.4 4422.1,31 4424.8,31 4427.5,30.3 4430.2,32.1 4432.9,31 4435.6,30.2 4438.3,31.7 4441,30.9 4443.8,30.4 4446.5,31.5 4449.2,31 4451.9,31.1 4454.6,30.5 4457.3,30.8 4460,30.9 4462.7,30.2 4465.4,30 4468.1,29.4 4470.8,30.1 4473.5,29.8 4476.2,30 4478.9,29 4481.6,28.9 4484.3,29.8 4487,30.5 4489.7,28.4 4492.4,30.3 4495.2,30.2 4497.9,29.6 4500.6,28.3 4503.3,28.7 4506,29.5 4508.7,29 4511.4,29.5 4514.1,28.9 4516.8,29.8 4519.5,28.7 4522.2,29.1 4524.9,29.6 4527.6,30 4530.3,28.3 4533,28.5 4535.7,29 4538.4,28.8 4541.1,28.4 4543.8,28.2 4546.5,28 4549.3,27.8 4552,27.7 4554.7,27.9 4557.4,26.4 4560.1,27.5 4562.8,27.7 4565.5,27 4568.2,27.8 4570.9,27.2 4573.6,27.4 4576.3,27.1 4579,28.2 4581.7,28.8 4584.4,27.2 4587.1,28 4589.8,26.9 4592.5,27.4 4595.2,27.9 4597.9,27.4 4600.7,28.1 4603.4,27.9 4606.1,27.2 4608.8,27.1 4611.5,27.9 4614.2,26.4 4616.9,26.4 4619.6,25.9 4622.3,26.9 4625,25.6 4627.7,26.1 4630.4,25.8 4633.1,25 4635.8,25.5 4638.5,25.2 4641.2,25.1 4643.9,25.1 4646.6,26.3 4649.3,26.4 4652,25.8 4654.8,25.7 4657.5,26.3 4660.2,25.6 4662.9,26.1 4665.6,25.6 4668.3,25.3 4671,24.9 4673.7,24.5 4676.4,24.9 4679.1,24.6 4681.8,25.1 4684.5,24.3 4687.2,24.4 4689.9,25.1 4692.6,23.8 4695.3,24.9 4698,25 4700.7,25 4703.4,24.5 4706.2,24.5 4708.9,24.7 4711.6,24 4714.3,23.6 4717,23.3 4719.7,23.7 4722.4,24.1 4725.1,24.3 4727.8,23.6 4730.5,23.2 4733.2,22.7 4735.9,24 4738.6,24.3 4741.3,24.2 4744,23.5 4746.7,23.3 4749.4,23.9 4752.1,24 4754.8,24.3 4757.5,22.8 4760.3,23.9 4763,22.7 4765.7,22.9 4768.4,23.6 4771.1,23.1 4773.8,21.8 4776.5,22.1 4779.2,22.2 4781.9,21.4 4784.6,22.1 4787.3,22.1 4790,22.2 4792.7,22.4 4795.4,22.1 4798.1,23.1 4800.8,22.4 4803.5,22.2 4806.2,23.2 4808.9,22.6 4811.7,23.2 4814.4,22.4 4817.1,21.4 4819.8,21.3 4822.5,21.7 4825.2,20.9 4827.9,20.7 4830.6,20.7 4833.3,20.6 4836,19.7 4838.7,22.1 4841.4,21.2 4844.1,20.6 4846.8,21.2 4849.5,21.1 4852.2,21.2 4854.9,21.6 4857.6,21.5 4860.3,21.9 4863,21.4 4865.8,20.9 4868.5,20.7 4871.2,20.9 4873.9,21.2 4876.6,21.2 4879.3,21.7 4882,20.9 4884.7,21.1 4887.4,20.9 4890.1,20.7 4892.8,20.4 4895.5,20.4 4898.2,20.4 4900.9,21 4903.6,20.6 4906.3,20 4909,20.4 4911.7,20 4914.4,20 4917.2,19.2 4919.9,18.9 4922.6,18.3 4925.3,19.6 4928,18.9 4930.7,19.9 4933.4,18.8 4936.1,19 4938.8,19.4 4941.5,18.5 4944.2,19.2 4946.9,20.1 4949.6,18.5 4952.3,19.2 4955,18.8 4957.7,19.5 4960.4,19.5 4963.1,19.8 4965.8,19.8 4968.5,18.9 4971.3,19 4974,20.2" stroke="#ff0000" marker-start="url(#mr)" marker-mid="url(#mr)" marker-end="url(#mr)"/>
</g>
<path d="M469.5 -10V1300.2H4933.3V-10" fill="none" stroke="#000" stroke-width="6.4" stroke-linejoin="miter"/>
<path d="M672.8 1300.2v28.2M1180 1300.2v28.2M1687.2 1300.2v28.2M2194.5 1300.2v28.2M2701.7 1300.2v28.2M3208.9 1300.2v28.2M3716.2 1300.2v28.2M4223.4 1300.2v28.2M4730.6 1300.2v28.2M469.5 4h-28.2M469.5 214.3h-28.2M469.5 424.7h-28.2M469.5 635h-28.2M469.5 845.4h-28.2M469.5 1055.7h-28.2M469.5 1266h-28.2" stroke="#000" stroke-width="6.4" fill="none"/>
<text transform="matrix(0.8514 0 0 0.8548 649.07 1417.40)" font-size="100">0</text>
<text transform="matrix(0.8800 0 0 0.8548 1130.75 1417.40)" font-size="100">25</text>
<text transform="matrix(0.8810 0 0 0.8548 1638.24 1417.40)" font-size="100">50</text>
<text transform="matrix(0.8742 0 0 0.8548 2145.41 1417.40)" font-size="100">75</text>
<text transform="matrix(0.8969 0 0 0.8548 2625.24 1417.40)" font-size="100">100</text>
<text transform="matrix(0.8880 0 0 0.8548 3133.34 1417.40)" font-size="100">125</text>
<text transform="matrix(0.8969 0 0 0.8548 3639.69 1417.40)" font-size="100">150</text>
<text transform="matrix(0.8880 0 0 0.8548 4147.79 1417.40)" font-size="100">175</text>
<text transform="matrix(0.9018 0 0 0.8548 4654.85 1417.40)" font-size="100">200</text>
<text transform="matrix(1.0415 0 0 0.8548 225.48 34.30)" font-size="100">−</text>
<text transform="matrix(0.8824 0 0 0.8548 291.39 34.30)" font-size="100">0.2</text>
<text transform="matrix(1.0415 0 0 0.8548 221.86 244.64)" font-size="100">−</text>
<text transform="matrix(0.8948 0 0 0.8548 287.72 244.64)" font-size="100">0.4</text>
<text transform="matrix(1.0415 0 0 0.8548 222.46 454.98)" font-size="100">−</text>
<text transform="matrix(0.9004 0 0 0.8548 288.30 454.98)" font-size="100">0.6</text>
<text transform="matrix(1.0415 0 0 0.8548 222.86 665.32)" font-size="100">−</text>
<text transform="matrix(0.8974 0 0 0.8548 288.71 665.32)" font-size="100">0.8</text>
<text transform="matrix(1.0415 0 0 0.8548 222.66 875.66)" font-size="100">−</text>
<text transform="matrix(0.8916 0 0 0.8548 289.04 875.66)" font-size="100">1.0</text>
<text transform="matrix(1.0415 0 0 0.8548 225.48 1086.00)" font-size="100">−</text>
<text transform="matrix(0.8782 0 0 0.8548 291.96 1086.00)" font-size="100">1.2</text>
<text transform="matrix(1.0415 0 0 0.8548 221.86 1296.34)" font-size="100">−</text>
<text transform="matrix(0.8910 0 0 0.8548 288.24 1296.34)" font-size="100">1.4</text>
<text transform="matrix(1.0879 0 0 1.0257 2473.33 1539.90)" font-size="100">Time (ps)</text>
<text transform="translate(166.1 3069) rotate(-90) matrix(0.9738 0 0 1.0257 2277.48 0.00)" font-size="100">ΔR/R</text>
<text transform="translate(166.1 3069) rotate(-90) matrix(1.0758 0 0 1.0257 2541.28 0.00)" font-size="100">(10</text>
<text transform="translate(166.1 3069) rotate(-90) matrix(0.8749 0 0 0.7180 2702.23 -35.70)" font-size="100">−</text>
<text transform="translate(166.1 3069) rotate(-90) matrix(0.6833 0 0 0.7180 2758.67 -35.70)" font-size="100">3</text>
<text transform="translate(166.1 3069) rotate(-90) matrix(0.8280 0 0 1.0257 2808.68 0.00)" font-size="100">)</text>
<rect x="3818.2" y="194" width="1025.8" height="947.8" fill="#fff"/>
<g clip-path="url(#ci)" fill="none" stroke-width="12.1" stroke-linejoin="round">
<polyline points="3791.9,1041.5 3794.2,1041.6 3796.5,1040 3798.8,1043.2 3801.1,1040 3803.4,1039.3 3805.6,1040.9 3807.9,1039.4 3810.2,1035.9 3812.5,1036.7 3814.8,1035.1 3817.1,1032 3819.3,1034 3821.6,1033.3 3823.9,1029.4 3826.2,1026.7 3828.5,1030 3830.8,1023.3 3833,1024.2 3835.3,1023.6 3837.6,1023.8 3839.9,1022 3842.2,1019.5 3844.5,1020.4 3846.7,1019.8 3849,1022.2 3851.3,1017.8 3853.6,1017.7 3855.9,1019.3 3858.2,1023.3 3860.4,1016.4 3862.7,1009.2 3865,1013.3 3867.3,1013.7 3869.6,1006.6 3871.9,1009.7 3874.1,1005.8 3876.4,1003.9 3878.7,1006.8 3881,1001.7 3883.3,997.8 3885.6,998.9 3887.9,995 3890.1,994.5 3892.4,990.5 3894.7,987.1 3897,991.6 3899.3,988.5 3901.6,986 3903.8,987.1 3906.1,986.3 3908.4,984.4 3910.7,983.3 3913,983.2 3915.3,980 3917.5,978.3 3919.8,977.4 3922.1,976.4 3924.4,974.5 3926.7,979 3929,976 3931.2,974.9 3933.5,973.6 3935.8,977.8 3938.1,969.8 3940.4,975 3942.7,971.7 3944.9,969.8 3947.2,967.7 3949.5,970.1 3951.8,968.2 3954.1,964.8 3956.4,963 3958.6,961.3 3960.9,962.4 3963.2,962.9 3965.5,963.6 3967.8,956.8 3970.1,963 3972.3,958.4 3974.6,958.8 3976.9,957.5 3979.2,956.6 3981.5,955.4 3983.8,957.8 3986,956.3 3988.3,960.5 3990.6,955.7 3992.9,956.8 3995.2,954.4 3997.5,950.7 3999.7,952.1 4002,949 4004.3,950.4 4006.6,947.9 4008.9,948.1 4011.2,950.7 4013.4,945 4015.7,942.2 4018,938.9 4020.3,937 4022.6,935.1 4024.9,930.4 4027.1,928.6 4029.4,928.1 4031.7,922.9 4034,926.1 4036.3,919.8 4038.6,916.4 4040.8,910 4043.1,910.4 4045.4,909.2 4047.7,902.8 4050,897.1 4052.3,898.7 4054.5,896.6 4056.8,895.6 4059.1,894.6 4061.4,891.9 4063.7,891.2 4066,895.1 4068.3,897.5 4070.5,894.8 4072.8,900.1 4075.1,902 4077.4,904.8 4079.7,906.9 4082,907.8 4084.2,910.8 4086.5,911.1 4088.8,913.3 4091.1,913.9 4093.4,917.7 4095.7,919.2 4097.9,919.9 4100.2,921.9 4102.5,923.3 4104.8,922.3 4107.1,928 4109.4,930.7 4111.6,925.9 4113.9,928.3 4116.2,925.4 4118.5,928.2 4120.8,930.5 4123.1,923.6 4125.3,927.5 4127.6,929.1 4129.9,929.2 4132.2,925.7 4134.5,927.4 4136.8,923.9 4139,920.9 4141.3,924.7 4143.6,921.1 4145.9,918 4148.2,913.2 4150.5,912.1 4152.7,911.9 4155,904.4 4157.3,904.5 4159.6,900.6 4161.9,895.8 4164.2,895.2 4166.4,883.6 4168.7,885 4171,885.3 4173.3,886.1 4175.6,886.9 4177.9,883.6 4180.1,883 4182.4,885.5 4184.7,885.5 4187,884.4 4189.3,886 4191.6,889.9 4193.8,884.8 4196.1,885.5 4198.4,883.8 4200.7,886.4 4203,888.6 4205.3,886.2 4207.5,882.3 4209.8,878.1 4212.1,877 4214.4,880.8 4216.7,884 4219,881.6 4221.2,879.7 4223.5,879.4 4225.8,880.3 4228.1,877.7 4230.4,882.4 4232.7,884.6 4234.9,880.6 4237.2,879.4 4239.5,869.6 4241.8,871.3 4244.1,870.5 4246.4,862.8 4248.7,858.2 4250.9,856.6 4253.2,853.3 4255.5,848.5 4257.8,846.6 4260.1,846.3 4262.4,840.8 4264.6,837.2 4266.9,835.9 4269.2,832.7 4271.5,831.5 4273.8,831.6 4276.1,830.3 4278.3,828.2 4280.6,830.4 4282.9,827 4285.2,826.9 4287.5,833.7 4289.8,829.6 4292,830.8 4294.3,830.3 4296.6,828.6 4298.9,829.2 4301.2,827.7 4303.5,828.2 4305.7,828.2 4308,830.6 4310.3,830 4312.6,826.6 4314.9,835 4317.2,826.6 4319.4,831.2 4321.7,827.5 4324,835 4326.3,829.8 4328.6,826.2 4330.9,826.6 4333.1,823.7 4335.4,826 4337.7,824 4340,823.1 4342.3,819.4 4344.6,818.5 4346.8,818.9 4349.1,818.1 4351.4,817.1 4353.7,815.2 4356,815.7 4358.3,811.9 4360.5,809.7 4362.8,808.4 4365.1,806.3 4367.4,800 4369.7,802.5 4372,799.1 4374.2,796.3 4376.5,797.1 4378.8,798.7 4381.1,797.2 4383.4,802.5 4385.7,802.3 4387.9,800.7 4390.2,800.3 4392.5,799.7 4394.8,795.3 4397.1,795 4399.4,797.8 4401.6,796 4403.9,797.3 4406.2,793.8 4408.5,796.1 4410.8,789.7 4413.1,793 4415.3,791.3 4417.6,797.3 4419.9,794.7 4422.2,799.6 4424.5,799.1 4426.8,803.8 4429.1,807.6 4431.3,805.5 4433.6,805.7 4435.9,798.6 4438.2,801.5 4440.5,800.1 4442.8,795.2 4445,793.8 4447.3,791.2 4449.6,791 4451.9,791.9 4454.2,788.7 4456.5,788.8 4458.7,779.7 4461,778.8 4463.3,779.9 4465.6,776.6 4467.9,775.5 4470.2,774.7 4472.4,774.6 4474.7,773.9 4477,775.7 4479.3,780.6 4481.6,781.8 4483.9,773.2 4486.1,774.2 4488.4,780 4490.7,773.6 4493,775 4495.3,773.6 4497.6,777.6 4499.8,770.5 4502.1,772.6 4504.4,771.1 4506.7,771.3 4509,771.4 4511.3,771.2 4513.5,774.2 4515.8,774.2 4518.1,775.7 4520.4,772.4 4522.7,772.7 4525,773.1 4527.2,766.6 4529.5,765.9 4531.8,771.2 4534.1,767.8 4536.4,762.6 4538.7,763.1 4540.9,755.8 4543.2,756.2 4545.5,753.5 4547.8,751.1 4550.1,748.7 4552.4,750.2 4554.6,746.5 4556.9,745.5 4559.2,742.6 4561.5,741.5 4563.8,738.3 4566.1,738.6 4568.3,739.4 4570.6,736.8 4572.9,738.5 4575.2,734.9 4577.5,732.2 4579.8,736.2 4582,738.1 4584.3,734.5 4586.6,735.4 4588.9,734 4591.2,735.3 4593.5,734 4595.7,736.1 4598,730.9 4600.3,734.6 4602.6,733 4604.9,732.6 4607.2,734.4 4609.4,733.1 4611.7,734.3 4614,734.3 4616.3,733.6 4618.6,731.7 4620.9,734.9 4623.2,733.8 4625.4,733.3 4627.7,732.6 4630,728.9 4632.3,731.2 4634.6,731.9 4636.9,731.1 4639.1,729.5 4641.4,733.5 4643.7,729.9 4646,736.9 4648.3,733.3 4650.6,727.4 4652.8,726.1 4655.1,727.1 4657.4,726.8 4659.7,722.7 4662,724 4664.3,718.7 4666.5,718.8 4668.8,718.8 4671.1,721.5 4673.4,717 4675.7,718.6 4678,717.5 4680.2,716.9 4682.5,715.1 4684.8,712.5 4687.1,710.6 4689.4,709.3 4691.7,702.8 4693.9,709.5 4696.2,705.5 4698.5,708.6 4700.8,707 4703.1,708.6 4705.4,703.2 4707.6,704.7 4709.9,704.5 4712.2,704.7 4714.5,702.2 4716.8,704.9 4719.1,702.8 4721.3,698.3 4723.6,703.6 4725.9,704.5 4728.2,705.3 4730.5,701.7 4732.8,703.2 4735,704.7 4737.3,704.5 4739.6,702.3 4741.9,703.9 4744.2,697 4746.5,701.1 4748.7,700.4 4751,699.5 4753.3,702.3 4755.6,700.9 4757.9,698 4760.2,696.5 4762.4,698.3 4764.7,691.4 4767,693.1 4769.3,690.4 4771.6,689.9 4773.9,692 4776.1,685.7 4778.4,689.9 4780.7,693.6 4783,693.9 4785.3,688.5 4787.6,685.9 4789.8,686.9 4792.1,682.8 4794.4,686 4796.7,683.2 4799,682 4801.3,684.7 4803.6,681.1 4805.8,680.2 4808.1,678.2 4810.4,677.8 4812.7,678.1 4815,682 4817.3,679.3 4819.5,679 4821.8,681.6 4824.1,680.5 4826.4,680.7 4828.7,679.8 4831,681.8 4833.2,680.6 4835.5,680.8 4837.8,680.3 4840.1,680.7 4842.4,679.3 4844.7,680.1 4846.9,677.4 4849.2,674.7 4851.5,674.1 4853.8,673.2 4856.1,674.1 4858.4,670.5 4860.6,673.8 4862.9,670.7 4865.2,671 4867.5,673 4869.8,672.3" stroke="#0000ff" marker-start="url(#mb)" marker-mid="url(#mb)" marker-end="url(#mb)"/>
<polyline points="3791.9,840.8 3794.2,845.4 3796.5,842 3798.8,843.3 3801.1,842.2 3803.4,844 3805.6,841.3 3807.9,841.1 3810.2,835.4 3812.5,836.8 3814.8,836.6 3817.1,835.4 3819.3,832.6 3821.6,836 3823.9,833.5 3826.2,832 3828.5,830.6 3830.8,831.5 3833,826.3 3835.3,827.8 3837.6,823.7 3839.9,826.4 3842.2,826.9 3844.5,824.9 3846.7,824.9 3849,826.2 3851.3,824.2 3853.6,822.7 3855.9,826 3858.2,821.7 3860.4,824.3 3862.7,820.9 3865,821.8 3867.3,821.3 3869.6,818.3 3871.9,819.6 3874.1,818.8 3876.4,813.9 3878.7,812.7 3881,813 3883.3,805.1 3885.6,807.4 3887.9,808.7 3890.1,805.1 3892.4,803.9 3894.7,805.1 3897,803.9 3899.3,806 3901.6,800.9 3903.8,796.4 3906.1,797.2 3908.4,796.7 3910.7,799.3 3913,799.9 3915.3,795.4 3917.5,796.1 3919.8,796.8 3922.1,796.6 3924.4,793.7 3926.7,794.1 3929,796.1 3931.2,795.3 3933.5,798.2 3935.8,797.2 3938.1,793.9 3940.4,796.2 3942.7,797.4 3944.9,795.2 3947.2,793.5 3949.5,798 3951.8,796.7 3954.1,796.1 3956.4,789.9 3958.6,792.1 3960.9,792.7 3963.2,795.1 3965.5,789.1 3967.8,788 3970.1,787.9 3972.3,787.5 3974.6,785 3976.9,785.6 3979.2,781.4 3981.5,779.8 3983.8,779.3 3986,776.8 3988.3,778.7 3990.6,772.3 3992.9,774.6 3995.2,776.2 3997.5,771.6 3999.7,771.4 4002,772.7 4004.3,773.1 4006.6,769.1 4008.9,766.4 4011.2,764.4 4013.4,762.1 4015.7,760.6 4018,764 4020.3,759.4 4022.6,762.1 4024.9,754.9 4027.1,754.4 4029.4,751.4 4031.7,751.4 4034,749.5 4036.3,748.3 4038.6,750.6 4040.8,743.2 4043.1,735.4 4045.4,736 4047.7,737.4 4050,734.6 4052.3,732.5 4054.5,732.9 4056.8,730 4059.1,727.5 4061.4,727.5 4063.7,723.8 4066,720.8 4068.3,720.3 4070.5,720.3 4072.8,720.7 4075.1,718.4 4077.4,720.7 4079.7,721 4082,717.3 4084.2,721.1 4086.5,723.9 4088.8,720.2 4091.1,721.4 4093.4,721.5 4095.7,725 4097.9,723.5 4100.2,727.1 4102.5,729.7 4104.8,729.2 4107.1,730 4109.4,734.8 4111.6,735.5 4113.9,737.7 4116.2,742.4 4118.5,744.6 4120.8,748.3 4123.1,753.1 4125.3,753.6 4127.6,755.7 4129.9,763.2 4132.2,762.1 4134.5,760.1 4136.8,761.3 4139,766.1 4141.3,761.3 4143.6,758 4145.9,758 4148.2,757.1 4150.5,757.4 4152.7,755.3 4155,755.7 4157.3,751.1 4159.6,743.9 4161.9,746.4 4164.2,745.8 4166.4,740.5 4168.7,743.4 4171,732.1 4173.3,733.6 4175.6,733.4 4177.9,732 4180.1,731.4 4182.4,727.6 4184.7,726 4187,727.3 4189.3,720 4191.6,720.9 4193.8,720.5 4196.1,713.9 4198.4,712.2 4200.7,712.7 4203,710.6 4205.3,704.6 4207.5,705.6 4209.8,702.4 4212.1,698.3 4214.4,702.4 4216.7,701.7 4219,699.3 4221.2,697.6 4223.5,695.4 4225.8,692.8 4228.1,695 4230.4,690.4 4232.7,694 4234.9,700.3 4237.2,698.4 4239.5,699.5 4241.8,701.3 4244.1,707.5 4246.4,707.4 4248.7,702.9 4250.9,707.3 4253.2,709.2 4255.5,710.1 4257.8,707.1 4260.1,704.5 4262.4,706.5 4264.6,700.2 4266.9,703.2 4269.2,704.1 4271.5,697.5 4273.8,697.6 4276.1,696.9 4278.3,692.6 4280.6,695.3 4282.9,691.6 4285.2,692.9 4287.5,686.7 4289.8,688.2 4292,686.1 4294.3,682.6 4296.6,681.6 4298.9,678.2 4301.2,677.3 4303.5,673.2 4305.7,672.5 4308,672 4310.3,668.1 4312.6,667.1 4314.9,669.4 4317.2,667.4 4319.4,669.9 4321.7,666.1 4324,664.7 4326.3,661.3 4328.6,665.3 4330.9,663.1 4333.1,661.6 4335.4,662.3 4337.7,666.6 4340,662.8 4342.3,660.4 4344.6,659.7 4346.8,659.7 4349.1,661.6 4351.4,663.5 4353.7,659 4356,657.4 4358.3,661.2 4360.5,659.3 4362.8,662.2 4365.1,662.1 4367.4,663.8 4369.7,661.8 4372,666.3 4374.2,664.8 4376.5,664.1 4378.8,666.3 4381.1,668.7 4383.4,664.7 4385.7,664.6 4387.9,665.2 4390.2,660.9 4392.5,658.9 4394.8,654.7 4397.1,654.5 4399.4,651 4401.6,647.7 4403.9,651.1 4406.2,643.5 4408.5,643.9 4410.8,644.6 4413.1,641.1 4415.3,637.9 4417.6,640.3 4419.9,638.5 4422.2,633.1 4424.5,631 4426.8,628.5 4429.1,630.9 4431.3,631 4433.6,629.4 4435.9,626.6 4438.2,626.2 4440.5,621.7 4442.8,618.7 4445,622.5 4447.3,616.6 4449.6,621.3 4451.9,621.1 4454.2,625 4456.5,624.9 4458.7,631.6 4461,635.6 4463.3,643.8 4465.6,639.5 4467.9,637.8 4470.2,644.2 4472.4,634.3 4474.7,637.6 4477,635.9 4479.3,638.5 4481.6,635.7 4483.9,634.6 4486.1,632 4488.4,639.3 4490.7,633 4493,639.7 4495.3,637.6 4497.6,638.9 4499.8,638.6 4502.1,642.1 4504.4,638.5 4506.7,639.9 4509,636.9 4511.3,634.8 4513.5,633.8 4515.8,632.6 4518.1,628.1 4520.4,628.9 4522.7,627 4525,624.2 4527.2,625.8 4529.5,624.4 4531.8,622.2 4534.1,622.9 4536.4,618.6 4538.7,621.3 4540.9,619.4 4543.2,617.7 4545.5,616.2 4547.8,613.7 4550.1,612.7 4552.4,614.6 4554.6,605.4 4556.9,606.7 4559.2,602.5 4561.5,604.8 4563.8,600.2 4566.1,603.1 4568.3,596.6 4570.6,599.4 4572.9,599.8 4575.2,604.7 4577.5,603.5 4579.8,600 4582,600.9 4584.3,601.5 4586.6,602.2 4588.9,600.3 4591.2,604.5 4593.5,605.9 4595.7,608.3 4598,610.3 4600.3,608.8 4602.6,611.6 4604.9,612.4 4607.2,611.5 4609.4,612.2 4611.7,610.9 4614,610.7 4616.3,614.4 4618.6,612.6 4620.9,608 4623.2,609.7 4625.4,606.2 4627.7,608 4630,609.6 4632.3,607.6 4634.6,602.7 4636.9,600.5 4639.1,592.9 4641.4,594.5 4643.7,592.9 4646,590.9 4648.3,594.5 4650.6,589.3 4652.8,588.2 4655.1,582.6 4657.4,586.9 4659.7,587.3 4662,583.1 4664.3,582.9 4666.5,581.4 4668.8,580.7 4671.1,580.5 4673.4,581.7 4675.7,581 4678,575.2 4680.2,580.8 4682.5,578.2 4684.8,580.8 4687.1,581.8 4689.4,575.9 4691.7,576.5 4693.9,573.5 4696.2,573.2 4698.5,574.3 4700.8,576 4703.1,569.7 4705.4,573 4707.6,567.9 4709.9,570.5 4712.2,569.6 4714.5,569.7 4716.8,569.3 4719.1,570.2 4721.3,564.3 4723.6,570.4 4725.9,571.3 4728.2,567.2 4730.5,568.6 4732.8,564.9 4735,566.7 4737.3,563.3 4739.6,565 4741.9,566.3 4744.2,565 4746.5,562.5 4748.7,564.6 4751,564.6 4753.3,563.1 4755.6,562.1 4757.9,560.1 4760.2,561.6 4762.4,560.5 4764.7,562.4 4767,557.7 4769.3,556.4 4771.6,561.3 4773.9,558.5 4776.1,558.3 4778.4,556.3 4780.7,556.6 4783,556.4 4785.3,556.7 4787.6,554.2 4789.8,552.4 4792.1,549.5 4794.4,549.8 4796.7,551.1 4799,550.8 4801.3,552 4803.6,547 4805.8,547.9 4808.1,546.6 4810.4,546 4812.7,546.5 4815,547.4 4817.3,547.5 4819.5,548.6 4821.8,547.4 4824.1,544.8 4826.4,540.5 4828.7,545.5 4831,544 4833.2,538.1 4835.5,544.6 4837.8,546 4840.1,545.7 4842.4,547 4844.7,551.3 4846.9,546.1 4849.2,552 4851.5,549.8 4853.8,549.8 4856.1,547.9 4858.4,548.9 4860.6,548.8 4862.9,549 4865.2,546.1 4867.5,546.5 4869.8,546.4" stroke="#008000" marker-start="url(#mg)" marker-mid="url(#mg)" marker-end="url(#mg)"/>
<polyline points="3791.9,472.4 3794.2,466.5 3796.5,470.2 3798.8,476.6 3801.1,471.2 3803.4,476.1 3805.6,468.8 3807.9,471.5 3810.2,474.6 3812.5,472.2 3814.8,470.9 3817.1,467.6 3819.3,470.5 3821.6,470.1 3823.9,472.8 3826.2,472.6 3828.5,474.6 3830.8,472 3833,471.4 3835.3,470.4 3837.6,470.9 3839.9,468.5 3842.2,467.6 3844.5,465.1 3846.7,465.6 3849,464.1 3851.3,463.3 3853.6,461.6 3855.9,459.5 3858.2,459.8 3860.4,454.3 3862.7,453.5 3865,453.9 3867.3,452.1 3869.6,455.3 3871.9,453.3 3874.1,452.2 3876.4,450.4 3878.7,449 3881,448.2 3883.3,452.3 3885.6,449.4 3887.9,446.9 3890.1,449.8 3892.4,448.4 3894.7,452.7 3897,449.2 3899.3,449.9 3901.6,453.3 3903.8,447.6 3906.1,446.4 3908.4,447.3 3910.7,449.2 3913,448.5 3915.3,448.8 3917.5,445.8 3919.8,445.7 3922.1,443.1 3924.4,445.2 3926.7,442.9 3929,444.6 3931.2,445.1 3933.5,443.7 3935.8,445.4 3938.1,445.4 3940.4,442.1 3942.7,442.4 3944.9,445.4 3947.2,445.4 3949.5,443.9 3951.8,444.6 3954.1,441.4 3956.4,442.8 3958.6,444 3960.9,442.6 3963.2,439.5 3965.5,435.7 3967.8,438.1 3970.1,441.4 3972.3,439.9 3974.6,437.3 3976.9,437.6 3979.2,436.7 3981.5,432.5 3983.8,438.2 3986,437.9 3988.3,435.7 3990.6,435.2 3992.9,434.3 3995.2,432.6 3997.5,433.6 3999.7,430.5 4002,431.3 4004.3,430 4006.6,433.2 4008.9,430.8 4011.2,429.2 4013.4,426.5 4015.7,428.6 4018,428.9 4020.3,428.1 4022.6,422.6 4024.9,428.3 4027.1,424.1 4029.4,423.4 4031.7,419.6 4034,419.7 4036.3,420.3 4038.6,416.7 4040.8,414.6 4043.1,416.8 4045.4,418.3 4047.7,416.4 4050,412.9 4052.3,414.3 4054.5,411.2 4056.8,408.5 4059.1,409.5 4061.4,404.8 4063.7,408.2 4066,409.1 4068.3,404.9 4070.5,402 4072.8,405.2 4075.1,400.2 4077.4,396.4 4079.7,397.8 4082,393.4 4084.2,399.1 4086.5,394 4088.8,397.7 4091.1,397.1 4093.4,396.1 4095.7,390.7 4097.9,392.3 4100.2,390.1 4102.5,394.8 4104.8,396.9 4107.1,392.4 4109.4,396 4111.6,398.4 4113.9,394.9 4116.2,395.7 4118.5,400.8 4120.8,400.7 4123.1,401.7 4125.3,407 4127.6,409.2 4129.9,409.6 4132.2,409.8 4134.5,417.8 4136.8,417 4139,420.3 4141.3,423.5 4143.6,426.4 4145.9,429.8 4148.2,428.3 4150.5,431.1 4152.7,436.6 4155,431.5 4157.3,433.9 4159.6,432.4 4161.9,427.6 4164.2,429.9 4166.4,433.4 4168.7,428.6 4171,428.2 4173.3,422.1 4175.6,428.6 4177.9,418.6 4180.1,417.5 4182.4,416.2 4184.7,412.4 4187,407.6 4189.3,413.1 4191.6,408.7 4193.8,406 4196.1,404.1 4198.4,402.9 4200.7,399.3 4203,397.9 4205.3,396.7 4207.5,397.1 4209.8,389.4 4212.1,385.2 4214.4,383.3 4216.7,382.6 4219,378.9 4221.2,382.3 4223.5,376 4225.8,375.6 4228.1,375 4230.4,371.5 4232.7,373.6 4234.9,373.8 4237.2,375.1 4239.5,377.2 4241.8,375.1 4244.1,371.3 4246.4,372 4248.7,378.1 4250.9,377.7 4253.2,375.9 4255.5,382 4257.8,381.6 4260.1,384.1 4262.4,378.7 4264.6,383.7 4266.9,384.1 4269.2,384.7 4271.5,388.3 4273.8,383.4 4276.1,388.8 4278.3,389.4 4280.6,400.4 4282.9,397 4285.2,401 4287.5,404.3 4289.8,402.7 4292,399.8 4294.3,400.1 4296.6,402.4 4298.9,392.7 4301.2,395.4 4303.5,397.1 4305.7,394.5 4308,391.3 4310.3,387.2 4312.6,385.3 4314.9,382.6 4317.2,376.5 4319.4,377.1 4321.7,373.2 4324,372.5 4326.3,370 4328.6,365.2 4330.9,366.1 4333.1,363 4335.4,362.7 4337.7,357.9 4340,358 4342.3,353.1 4344.6,355.6 4346.8,348.2 4349.1,347 4351.4,347.7 4353.7,345.7 4356,347.3 4358.3,343.2 4360.5,342 4362.8,343.8 4365.1,341.1 4367.4,348.6 4369.7,345.3 4372,348.2 4374.2,347.3 4376.5,345.1 4378.8,347.4 4381.1,344.6 4383.4,348.9 4385.7,350 4387.9,350 4390.2,353.2 4392.5,352.6 4394.8,352 4397.1,351.3 4399.4,357.3 4401.6,359.4 4403.9,363.1 4406.2,364.8 4408.5,364.1 4410.8,365.6 4413.1,366.5 4415.3,368.5 4417.6,366 4419.9,372 4422.2,368.3 4424.5,366.8 4426.8,368.4 4429.1,366.4 4431.3,366.9 4433.6,366.3 4435.9,364.1 4438.2,364.3 4440.5,361.4 4442.8,358.3 4445,360.3 4447.3,354.8 4449.6,352.1 4451.9,349.6 4454.2,352.3 4456.5,348.1 4458.7,352.6 4461,349.9 4463.3,344.8 4465.6,345 4467.9,342.1 4470.2,339.9 4472.4,335.6 4474.7,333.6 4477,331.7 4479.3,327.8 4481.6,327.4 4483.9,325.1 4486.1,324.1 4488.4,323.8 4490.7,325.8 4493,327 4495.3,327.8 4497.6,330.1 4499.8,327.8 4502.1,329.8 4504.4,328.1 4506.7,330.2 4509,332.2 4511.3,330.1 4513.5,333 4515.8,333.3 4518.1,333 4520.4,334.5 4522.7,337.9 4525,336.4 4527.2,338.8 4529.5,341.2 4531.8,343.1 4534.1,343.6 4536.4,348.6 4538.7,344 4540.9,352.6 4543.2,350.5 4545.5,350.7 4547.8,347.7 4550.1,348 4552.4,346.6 4554.6,348.4 4556.9,341.9 4559.2,340.6 4561.5,344.4 4563.8,337.4 4566.1,339.1 4568.3,333.9 4570.6,329.2 4572.9,328.2 4575.2,329.1 4577.5,326.1 4579.8,321 4582,321.1 4584.3,318.3 4586.6,321.5 4588.9,315.1 4591.2,313.9 4593.5,314.5 4595.7,307.9 4598,309.3 4600.3,306 4602.6,307.7 4604.9,304.8 4607.2,304.1 4609.4,305.1 4611.7,304.6 4614,304.1 4616.3,304.9 4618.6,307.2 4620.9,303.8 4623.2,304.5 4625.4,303.6 4627.7,305.8 4630,301.2 4632.3,302.5 4634.6,302.2 4636.9,302.2 4639.1,305.4 4641.4,309.6 4643.7,313.6 4646,310.7 4648.3,314.5 4650.6,315.4 4652.8,316.4 4655.1,321.3 4657.4,324.5 4659.7,323.5 4662,326.8 4664.3,328.9 4666.5,327.9 4668.8,330.2 4671.1,329.6 4673.4,333.4 4675.7,331.5 4678,331.3 4680.2,330.4 4682.5,330.4 4684.8,326.2 4687.1,328.6 4689.4,322.8 4691.7,319.3 4693.9,319.3 4696.2,317.2 4698.5,316.9 4700.8,313.1 4703.1,311.2 4705.4,310.1 4707.6,308.6 4709.9,306.9 4712.2,306.3 4714.5,309.2 4716.8,306.5 4719.1,302.9 4721.3,296.8 4723.6,297.2 4725.9,297.8 4728.2,296.6 4730.5,295.6 4732.8,292.3 4735,292.9 4737.3,291.4 4739.6,292.4 4741.9,291 4744.2,291.7 4746.5,290.7 4748.7,289.6 4751,286.2 4753.3,287.6 4755.6,286.2 4757.9,289.2 4760.2,288.1 4762.4,290.3 4764.7,290 4767,290.8 4769.3,294.8 4771.6,292.8 4773.9,296.6 4776.1,294.9 4778.4,298.9 4780.7,302.4 4783,303.5 4785.3,304.8 4787.6,302.2 4789.8,309.2 4792.1,309.1 4794.4,309.4 4796.7,311.4 4799,312.2 4801.3,311.7 4803.6,315.2 4805.8,310.8 4808.1,311.7 4810.4,313.7 4812.7,310.7 4815,312 4817.3,311.6 4819.5,311.3 4821.8,308.1 4824.1,303.2 4826.4,300.9 4828.7,295.7 4831,293.1 4833.2,292 4835.5,291.4 4837.8,286.5 4840.1,288.8 4842.4,292.8 4844.7,288.2 4846.9,286.5 4849.2,285.9 4851.5,286 4853.8,285.5 4856.1,291.9 4858.4,282.5 4860.6,285.9 4862.9,286.8 4865.2,290.8 4867.5,285.6 4869.8,289.2" stroke="#ff0000" marker-start="url(#mr)" marker-mid="url(#mr)" marker-end="url(#mr)"/>
</g>
<rect x="3818.2" y="194" width="1025.8" height="947.8" fill="none" stroke="#000" stroke-width="6.4"/>
<path d="M3988.4 1141.8v-28.2M4330.9 1141.8v-28.2M4673.4 1141.8v-28.2" stroke="#000" stroke-width="6.4" fill="none"/>
<text transform="matrix(0.8969 0 0 0.8548 3912.91 1230.80)" font-size="100">100</text>
<text transform="matrix(0.8969 0 0 0.8548 4255.45 1230.80)" font-size="100">120</text>
<text transform="matrix(0.8969 0 0 0.8548 4597.99 1230.80)" font-size="100">140</text>
<rect x="1363.2" y="766.3" width="628.3" height="375.2" rx="16" ry="16" fill="#fff" fill-opacity="0.8" stroke="#d6d6d6" stroke-width="8"/>
<path d="M1388.5 830.9H1560.6" stroke="#0000ff" stroke-width="12.1"/><circle cx="1474.6" cy="830.9" r="10.2" fill="#0000ff"/>
<text transform="matrix(0.8877 0 0 0.8548 1619.04 859.90)" font-size="100">7 Layers</text>
<path d="M1388.5 948.4H1560.6" stroke="#008000" stroke-width="12.1"/><circle cx="1474.6" cy="948.4" r="10.2" fill="#008000"/>
<text transform="matrix(0.8886 0 0 0.8548 1619.92 977.00)" font-size="100">8 Layers</text>
<path d="M1388.5 1065.8H1560.6" stroke="#ff0000" stroke-width="12.1"/><circle cx="1474.6" cy="1065.8" r="10.2" fill="#ff0000"/>
<text transform="matrix(0.8908 0 0 0.8548 1619.47 1094.10)" font-size="100">9 Layers</text>
<defs><clipPath id="cb"><rect x="469.5" y="1616.8" width="2534.3" height="1552.2"/></clipPath></defs>
<g clip-path="url(#cb)">
<polyline points="450,2510 499,3299.7 501,3267.1 503,3233.5 505,3199 507,3163.8 509,3127.8 511,3091.1 513,3053.8 515,3016 517,2977.8 519,2939.1 521,2900.1 523,2860.9 525,2821.5 527,2781.9 529,2742.4 531,2702.8 533,2663.3 535,2624 537,2584.9 539,2546.1 541,2507.6 543,2469.6 545,2432 547,2395 549,2358.5 551,2322.7 553,2287.6 555,2253.2 557,2219.7 559,2187 561,2155.2 563,2124.3 565,2094.5 567,2065.7 569,2037.9 571,2011.3 573,1985.8 575,1961.5 577,1938.4 579,1916.6 581,1896 583,1876.7 585,1858.7 587,1842 589,1826.7 591,1812.7 593,1800.1 595,1788.9 597,1779.1 599,1770.6 601,1763.6 603,1757.9 605,1753.6 607,1750.7 609,1749.1 611,1748.9 613,1750.1 615,1752.6 617,1756.4 619,1761.5 621,1767.9 623,1775.5 625,1784.4 627,1794.4 629,1805.7 631,1818.1 633,1831.6 635,1846.1 637,1861.7 639,1878.4 641,1896 643,1914.5 645,1933.9 647,1954.2 649,1975.3 651,1997.1 653,2019.7 655,2042.9 657,2066.7 659,2091.2 661,2116.1 663,2141.6 665,2167.5 667,2193.8 669,2220.4 671,2247.3 673,2274.5 675,2301.9 677,2329.4 679,2357 681,2384.6 683,2412.3 685,2439.9 687,2467.4 689,2494.8 691,2522 693,2549 695,2575.7 697,2602.1 699,2628.1 701,2653.8 703,2679 705,2703.7 707,2727.9 709,2751.6 711,2774.7 713,2797.1 715,2818.9 717,2840.1 719,2860.5 721,2880.1 723,2899.1 725,2917.2 727,2934.5 729,2950.9 731,2966.5 733,2981.2 735,2995.1 737,3008 739,3020 741,3031 743,3041.2 745,3050.3 747,3058.5 749,3065.8 751,3072.1 753,3077.4 755,3081.7 757,3085.1 759,3087.5 761,3088.9 763,3089.4 765,3088.9 767,3087.5 769,3085.2 771,3082 773,3077.9 775,3072.9 777,3067 779,3060.3 781,3052.7 783,3044.3 785,3035.2 787,3025.3 789,3014.6 791,3003.3 793,2991.2 795,2978.5 797,2965.2 799,2951.2 801,2936.7 803,2921.7 805,2906.1 807,2890 809,2873.5 811,2856.6 813,2839.3 815,2821.6 817,2803.6 819,2785.3 821,2766.8 823,2748.1 825,2729.1 827,2710.1 829,2690.9 831,2671.6 833,2652.3 835,2632.9 837,2613.6 839,2594.4 841,2575.2 843,2556.1 845,2537.2 847,2518.5 849,2499.9 851,2481.6 853,2463.6 855,2445.9 857,2428.5 859,2411.4 861,2394.7 863,2378.4 865,2362.6 867,2347.1 869,2332.2 871,2317.7 873,2303.8 875,2290.4 877,2277.5 879,2265.2 881,2253.5 883,2242.4 885,2231.8 887,2221.9 889,2212.7 891,2204 893,2196.1 895,2188.7 897,2182.1 899,2176.1 901,2170.8 903,2166.1 905,2162.2 907,2158.9 909,2156.3 911,2154.4 913,2153.1 915,2152.5 917,2152.6 919,2153.3 921,2154.7 923,2156.7 925,2159.4 927,2162.6 929,2166.5 931,2171 933,2176.1 935,2181.7 937,2187.9 939,2194.6 941,2201.8 943,2209.6 945,2217.8 947,2226.6 949,2235.7 951,2245.3 953,2255.3 955,2265.7 957,2276.5 959,2287.6 961,2299 963,2310.7 965,2322.7 967,2335 969,2347.5 971,2360.2 973,2373 975,2386.1 977,2399.3 979,2412.6 981,2426 983,2439.4 985,2452.9 987,2466.4 989,2479.9 991,2493.4 993,2506.8 995,2520.2 997,2533.4 999,2546.6 1001,2559.6 1003,2572.5 1005,2585.1 1007,2597.6 1009,2609.9 1011,2621.9 1013,2633.6 1015,2645.1 1017,2656.3 1019,2667.2 1021,2677.8 1023,2688 1025,2697.9 1027,2707.4 1029,2716.6 1031,2725.3 1033,2733.7 1035,2741.6 1037,2749.1 1039,2756.2 1041,2762.8 1043,2769 1045,2774.8 1047,2780.1 1049,2784.9 1051,2789.3 1053,2793.1 1055,2796.6 1057,2799.5 1059,2802 1061,2804 1063,2805.5 1065,2806.6 1067,2807.2 1069,2807.3 1071,2806.9 1073,2806.1 1075,2804.9 1077,2803.2 1079,2801.1 1081,2798.5 1083,2795.6 1085,2792.2 1087,2788.4 1089,2784.2 1091,2779.6 1093,2774.7 1095,2769.4 1097,2763.8 1099,2757.8 1101,2751.5 1103,2744.9 1105,2738.1 1107,2730.9 1109,2723.5 1111,2715.8 1113,2707.9 1115,2699.8 1117,2691.5 1119,2683 1121,2674.3 1123,2665.5 1125,2656.5 1127,2647.4 1129,2638.3 1131,2629 1133,2619.7 1135,2610.3 1137,2600.9 1139,2591.4 1141,2582 1143,2572.5 1145,2563.1 1147,2553.8 1149,2544.5 1151,2535.3 1153,2526.1 1155,2517.1 1157,2508.2 1159,2499.4 1161,2490.8 1163,2482.3 1165,2474 1167,2465.9 1169,2458 1171,2450.3 1173,2442.9 1175,2435.6 1177,2428.6 1179,2421.9 1181,2415.4 1183,2409.2 1185,2403.2 1187,2397.6 1189,2392.2 1191,2387.2 1193,2382.4 1195,2377.9 1197,2373.8 1199,2370 1201,2366.5 1203,2363.3 1205,2360.5 1207,2358 1209,2355.8 1211,2353.9 1213,2352.4 1215,2351.2 1217,2350.4 1219,2349.8 1221,2349.6 1223,2349.7 1225,2350.2 1227,2350.9 1229,2352 1231,2353.4 1233,2355 1235,2357 1237,2359.3 1239,2361.8 1241,2364.6 1243,2367.7 1245,2371.1 1247,2374.7 1249,2378.5 1251,2382.6 1253,2386.9 1255,2391.4 1257,2396.2 1259,2401.1 1261,2406.2 1263,2411.5 1265,2417 1267,2422.6 1269,2428.4 1271,2434.3 1273,2440.3 1275,2446.4 1277,2452.6 1279,2459 1281,2465.3 1283,2471.8 1285,2478.3 1287,2484.9 1289,2491.4 1291,2498 1293,2504.6 1295,2511.2 1297,2517.8 1299,2524.4 1301,2530.9 1303,2537.3 1305,2543.7 1307,2550.1 1309,2556.3 1311,2562.5 1313,2568.6 1315,2574.5 1317,2580.4 1319,2586.1 1321,2591.7 1323,2597.1 1325,2602.4 1327,2607.5 1329,2612.5 1331,2617.2 1333,2621.8 1335,2626.3 1337,2630.5 1339,2634.5 1341,2638.3 1343,2642 1345,2645.4 1347,2648.6 1349,2651.5 1351,2654.3 1353,2656.8 1355,2659.1 1357,2661.2 1359,2663 1361,2664.6 1363,2666 1365,2667.2 1367,2668.1 1369,2668.8 1371,2669.2 1373,2669.5 1375,2669.5 1377,2669.2 1379,2668.8 1381,2668.1 1383,2667.3 1385,2666.2 1387,2664.9 1389,2663.4 1391,2661.7 1393,2659.8 1395,2657.7 1397,2655.4 1399,2652.9 1401,2650.3 1403,2647.5 1405,2644.6 1407,2641.5 1409,2638.2 1411,2634.8 1413,2631.3 1415,2627.6 1417,2623.8 1419,2620 1421,2616 1423,2611.9 1425,2607.7 1427,2603.5 1429,2599.1 1431,2594.7 1433,2590.3 1435,2585.8 1437,2581.3 1439,2576.7 1441,2572.1 1443,2567.5 1445,2562.9 1447,2558.3 1449,2553.7 1451,2549.1 1453,2544.5 1455,2540 1457,2535.5 1459,2531 1461,2526.6 1463,2522.3 1465,2518 1467,2513.9 1469,2509.7 1471,2505.7 1473,2501.8 1475,2497.9 1477,2494.2 1479,2490.6 1481,2487.1 1483,2483.7 1485,2480.4 1487,2477.3 1489,2474.3 1491,2471.4 1493,2468.7 1495,2466.1 1497,2463.7 1499,2461.4 1501,2459.2 1503,2457.3 1505,2455.4 1507,2453.8 1509,2452.3 1511,2450.9 1513,2449.7 1515,2448.7 1517,2447.8 1519,2447.1 1521,2446.6 1523,2446.2 1525,2446 1527,2445.9 1529,2446 1531,2446.3 1533,2446.7 1535,2447.2 1537,2447.9 1539,2448.8 1541,2449.8 1543,2450.9 1545,2452.2 1547,2453.6 1549,2455.2 1551,2456.8 1553,2458.6 1555,2460.5 1557,2462.6 1559,2464.7 1561,2466.9 1563,2469.3 1565,2471.7 1567,2474.2 1569,2476.8 1571,2479.5 1573,2482.3 1575,2485.1 1577,2488 1579,2491 1581,2494 1583,2497 1585,2500.1 1587,2503.2 1589,2506.4 1591,2509.6 1593,2512.8 1595,2516 1597,2519.2 1599,2522.5 1601,2525.7 1603,2528.9 1605,2532.1 1607,2535.3 1609,2538.4 1611,2541.5 1613,2544.6 1615,2547.7 1617,2550.7 1619,2553.6 1621,2556.5 1623,2559.3 1625,2562.1 1627,2564.8 1629,2567.5 1631,2570 1633,2572.5 1635,2574.9 1637,2577.2 1639,2579.5 1641,2581.6 1643,2583.6 1645,2585.6 1647,2587.4 1649,2589.2 1651,2590.8 1653,2592.3 1655,2593.8 1657,2595.1 1659,2596.3 1661,2597.4 1663,2598.4 1665,2599.2 1667,2600 1669,2600.6 1671,2601.2 1673,2601.6 1675,2601.9 1677,2602.1 1679,2602.2 1681,2602.1 1683,2602 1685,2601.8 1687,2601.4 1689,2601 1691,2600.4 1693,2599.7 1695,2599 1697,2598.1 1699,2597.2 1701,2596.1 1703,2595 1705,2593.8 1707,2592.5 1709,2591.1 1711,2589.6 1713,2588.1 1715,2586.5 1717,2584.8 1719,2583.1 1721,2581.3 1723,2579.4 1725,2577.5 1727,2575.5 1729,2573.5 1731,2571.5 1733,2569.4 1735,2567.3 1737,2565.1 1739,2562.9 1741,2560.7 1743,2558.5 1745,2556.3 1747,2554 1749,2551.8 1751,2549.5 1753,2547.3 1755,2545 1757,2542.8 1759,2540.6 1761,2538.4 1763,2536.2 1765,2534 1767,2531.9 1769,2529.8 1771,2527.7 1773,2525.6 1775,2523.6 1777,2521.7 1779,2519.8 1781,2517.9 1783,2516.1 1785,2514.4 1787,2512.7 1789,2511 1791,2509.4 1793,2507.9 1795,2506.5 1797,2505.1 1799,2503.8 1801,2502.5 1803,2501.4 1805,2500.3 1807,2499.2 1809,2498.3 1811,2497.4 1813,2496.6 1815,2495.9 1817,2495.3 1819,2494.7 1821,2494.2 1823,2493.8 1825,2493.5 1827,2493.2 1829,2493.1 1831,2493 1833,2493 1835,2493 1837,2493.2 1839,2493.4 1841,2493.7 1843,2494.1 1845,2494.5 1847,2495 1849,2495.6 1851,2496.2 1853,2496.9 1855,2497.7 1857,2498.5 1859,2499.4 1861,2500.4 1863,2501.4 1865,2502.4 1867,2503.5 1869,2504.7 1871,2505.9 1873,2507.1 1875,2508.4 1877,2509.7 1879,2511.1 1881,2512.5 1883,2513.9 1885,2515.3 1887,2516.8 1889,2518.3 1891,2519.8 1893,2521.4 1895,2522.9 1897,2524.5 1899,2526 1901,2527.6 1903,2529.2 1905,2530.7 1907,2532.3 1909,2533.9 1911,2535.4 1913,2537 1915,2538.5 1917,2540.1 1919,2541.6 1921,2543 1923,2544.5 1925,2545.9 1927,2547.3 1929,2548.7 1931,2550.1 1933,2551.4 1935,2552.7 1937,2553.9 1939,2555.1 1941,2556.3 1943,2557.4 1945,2558.5 1947,2559.5 1949,2560.5 1951,2561.4 1953,2562.3 1955,2563.1 1957,2563.9 1959,2564.7 1961,2565.3 1963,2566 1965,2566.6 1967,2567.1 1969,2567.5 1971,2568 1973,2568.3 1975,2568.6 1977,2568.9 1979,2569.1 1981,2569.2 1983,2569.3 1985,2569.3 1987,2569.3 1989,2569.2 1991,2569.1 1993,2568.9 1995,2568.6 1997,2568.4 1999,2568 2001,2567.6 2003,2567.2 2005,2566.7 2007,2566.2 2009,2565.6 2011,2565 2013,2564.4 2015,2563.7 2017,2563 2019,2562.2 2021,2561.4 2023,2560.6 2025,2559.7 2027,2558.9 2029,2557.9 2031,2557 2033,2556 2035,2555.1 2037,2554.1 2039,2553 2041,2552 2043,2550.9 2045,2549.9 2047,2548.8 2049,2547.7 2051,2546.6 2053,2545.5 2055,2544.4 2057,2543.3 2059,2542.2 2061,2541.1 2063,2540 2065,2538.9 2067,2537.9 2069,2536.8 2071,2535.7 2073,2534.7 2075,2533.7 2077,2532.7 2079,2531.7 2081,2530.7 2083,2529.7 2085,2528.8 2087,2527.9 2089,2527 2091,2526.2 2093,2525.4 2095,2524.6 2097,2523.8 2099,2523.1 2101,2522.4 2103,2521.7 2105,2521.1 2107,2520.5 2109,2519.9 2111,2519.4 2113,2518.9 2115,2518.4 2117,2518 2119,2517.6 2121,2517.3 2123,2517 2125,2516.7 2127,2516.5 2129,2516.3 2131,2516.2 2133,2516.1 2135,2516 2137,2516 2139,2516 2141,2516 2143,2516.1 2145,2516.2 2147,2516.3 2149,2516.5 2151,2516.8 2153,2517 2155,2517.3 2157,2517.6 2159,2518 2161,2518.4 2163,2518.8 2165,2519.2 2167,2519.7 2169,2520.2 2171,2520.7 2173,2521.2 2175,2521.8 2177,2522.4 2179,2523 2181,2523.6 2183,2524.3 2185,2525 2187,2525.6 2189,2526.3 2191,2527.1 2193,2527.8 2195,2528.5 2197,2529.3 2199,2530 2201,2530.8 2203,2531.5 2205,2532.3 2207,2533.1 2209,2533.8 2211,2534.6 2213,2535.4 2215,2536.1 2217,2536.9 2219,2537.6 2221,2538.4 2223,2539.1 2225,2539.9 2227,2540.6 2229,2541.3 2231,2542 2233,2542.7 2235,2543.4 2237,2544 2239,2544.6 2241,2545.3 2243,2545.9 2245,2546.4 2247,2547 2249,2547.6 2251,2548.1 2253,2548.6 2255,2549 2257,2549.5 2259,2549.9 2261,2550.3 2263,2550.7 2265,2551.1 2267,2551.4 2269,2551.7 2271,2552 2273,2552.2 2275,2552.4 2277,2552.6 2279,2552.8 2281,2552.9 2283,2553 2285,2553.1 2287,2553.2 2289,2553.2 2291,2553.2 2293,2553.2 2295,2553.2 2297,2553.1 2299,2553 2301,2552.9 2303,2552.7 2305,2552.6 2307,2552.4 2309,2552.2 2311,2551.9 2313,2551.7 2315,2551.4 2317,2551.1 2319,2550.8 2321,2550.4 2323,2550.1 2325,2549.7 2327,2549.3 2329,2548.9 2331,2548.5 2333,2548 2335,2547.6 2337,2547.1 2339,2546.6 2341,2546.2 2343,2545.7 2345,2545.2 2347,2544.7 2349,2544.1 2351,2543.6 2353,2543.1 2355,2542.6 2357,2542 2359,2541.5 2361,2540.9 2363,2540.4 2365,2539.9 2367,2539.3 2369,2538.8 2371,2538.3 2373,2537.7 2375,2537.2 2377,2536.7 2379,2536.2 2381,2535.7 2383,2535.2 2385,2534.7 2387,2534.3 2389,2533.8 2391,2533.4 2393,2532.9 2395,2532.5 2397,2532.1 2399,2531.7 2401,2531.3 2403,2530.9 2405,2530.6 2407,2530.2 2409,2529.9 2411,2529.6 2413,2529.3 2415,2529 2417,2528.8 2419,2528.6 2421,2528.3 2423,2528.1 2425,2528 2427,2527.8 2429,2527.7 2431,2527.5 2433,2527.4 2435,2527.3 2437,2527.3 2439,2527.2 2441,2527.2 2443,2527.2 2445,2527.2 2447,2527.2 2449,2527.3 2451,2527.3 2453,2527.4 2455,2527.5 2457,2527.6 2459,2527.7 2461,2527.9 2463,2528 2465,2528.2 2467,2528.4 2469,2528.6 2471,2528.8 2473,2529.1 2475,2529.3 2477,2529.6 2479,2529.8 2481,2530.1 2483,2530.4 2485,2530.7 2487,2531 2489,2531.3 2491,2531.7 2493,2532 2495,2532.3 2497,2532.7 2499,2533 2501,2533.4 2503,2533.8 2505,2534.1 2507,2534.5 2509,2534.9 2511,2535.3 2513,2535.6 2515,2536 2517,2536.4 2519,2536.8 2521,2537.1 2523,2537.5 2525,2537.9 2527,2538.2 2529,2538.6 2531,2538.9 2533,2539.3 2535,2539.6 2537,2540 2539,2540.3 2541,2540.6 2543,2541 2545,2541.3 2547,2541.6 2549,2541.9 2551,2542.1 2553,2542.4 2555,2542.7 2557,2542.9 2559,2543.2 2561,2543.4 2563,2543.6 2565,2543.8 2567,2544 2569,2544.2 2571,2544.4 2573,2544.5 2575,2544.7 2577,2544.8 2579,2544.9 2581,2545 2583,2545.1 2585,2545.2 2587,2545.3 2589,2545.3 2591,2545.4 2593,2545.4 2595,2545.4 2597,2545.4 2599,2545.4 2601,2545.4 2603,2545.3 2605,2545.3 2607,2545.2 2609,2545.1 2611,2545 2613,2544.9 2615,2544.8 2617,2544.7 2619,2544.6 2621,2544.5 2623,2544.3 2625,2544.1 2627,2544 2629,2543.8 2631,2543.6 2633,2543.4 2635,2543.2 2637,2543 2639,2542.8 2641,2542.6 2643,2542.3 2645,2542.1 2647,2541.9 2649,2541.6 2651,2541.4 2653,2541.1 2655,2540.9 2657,2540.6 2659,2540.4 2661,2540.1 2663,2539.8 2665,2539.6 2667,2539.3 2669,2539.1 2671,2538.8 2673,2538.5 2675,2538.3 2677,2538 2679,2537.8 2681,2537.5 2683,2537.3 2685,2537 2687,2536.8 2689,2536.5 2691,2536.3 2693,2536.1 2695,2535.8 2697,2535.6 2699,2535.4 2701,2535.2 2703,2535 2705,2534.8 2707,2534.6 2709,2534.4 2711,2534.3 2713,2534.1 2715,2534 2717,2533.8 2719,2533.7 2721,2533.5 2723,2533.4 2725,2533.3 2727,2533.2 2729,2533.1 2731,2533 2733,2532.9 2735,2532.9 2737,2532.8 2739,2532.8 2741,2532.7 2743,2532.7 2745,2532.7 2747,2532.7 2749,2532.7 2751,2532.7 2753,2532.7 2755,2532.7 2757,2532.7 2759,2532.8 2761,2532.8 2763,2532.9 2765,2532.9 2767,2533 2769,2533.1 2771,2533.2 2773,2533.3 2775,2533.4 2777,2533.5 2779,2533.6 2781,2533.7 2783,2533.9 2785,2534 2787,2534.1 2789,2534.3 2791,2534.4 2793,2534.6 2795,2534.7 2797,2534.9 2799,2535.1 2801,2535.2 2803,2535.4 2805,2535.6 2807,2535.7 2809,2535.9 2811,2536.1 2813,2536.3 2815,2536.5 2817,2536.7 2819,2536.8 2821,2537 2823,2537.2 2825,2537.4 2827,2537.6 2829,2537.7 2831,2537.9 2833,2538.1 2835,2538.3 2837,2538.5 2839,2538.6 2841,2538.8 2843,2539 2845,2539.1 2847,2539.3 2849,2539.4 2851,2539.6 2853,2539.7 2855,2539.9 2857,2540 2859,2540.1 2861,2540.3 2863,2540.4 2865,2540.5 2867,2540.6 2869,2540.7 2871,2540.8 2873,2540.9 2875,2541 2877,2541.1 2879,2541.2 2881,2541.2 2883,2541.3 2885,2541.3 2887,2541.4 2889,2541.4 2891,2541.5 2893,2541.5 2895,2541.5 2897,2541.5 2899,2541.6 2901,2541.6 2903,2541.6 2905,2541.6 2907,2541.5 2909,2541.5 2911,2541.5 2913,2541.5 2915,2541.4 2917,2541.4 2919,2541.3 2921,2541.3 2923,2541.2 2925,2541.2 2927,2541.1 2929,2541 2931,2540.9 2933,2540.8 2935,2540.8 2937,2540.7 2939,2540.6 2941,2540.5 2943,2540.4 2945,2540.3 2947,2540.2 2949,2540 2951,2539.9 2953,2539.8 2955,2539.7 2957,2539.6 2959,2539.4 2961,2539.3 2963,2539.2 2965,2539.1 2967,2538.9 2969,2538.8 2971,2538.7 2973,2538.6 2975,2538.4 2977,2538.3 2979,2538.2 2981,2538.1 2983,2537.9 2985,2537.8 2987,2537.7 2989,2537.6 2991,2537.4 2993,2537.3 2995,2537.2 2997,2537.1 2999,2537 3001,2536.9 3003,2536.8 3005,2536.7 3007,2536.6 3009,2536.5 3011,2536.4 3013,2536.3 3015,2536.2 3017,2536.1 3019,2536 3021,2536 3023,2535.9 3025,2535.8 3027,2535.8 3029,2535.7 3031,2535.6 3033,2535.6 3035,2535.5 3037,2535.5 3039,2535.5 3041,2535.4 3043,2535.4 3045,2535.4 3047,2535.4 3049,2535.4 3051,2535.3 3053,2535.3 3055,2535.3 3057,2535.3 3059,2535.4" fill="none" stroke="#87ceeb" stroke-width="80.6" stroke-linejoin="round"/>
<path d="M522.5 2460.7h0M529.1 2538.9h0M535.7 2575.1h0M542.4 2552.3h0M549 2487.7h0M555.6 2393.3h0M562.2 2280.8h0M568.8 2162.1h0M575.4 2049.1h0M582 1953.6h0M588.6 1872.6h0M595.2 1812.6h0M601.8 1763.8h0M608.4 1719.6h0M615 1691.4h0M621.6 1688.6h0M628.2 1689h0M634.8 1732.2h0M641.4 1785.4h0M648 1871.3h0M654.6 1963.1h0M661.2 2079.2h0M667.8 2214.8h0M674.4 2356.1h0M681 2489.3h0M687.6 2600.3h0M694.2 2678.7h0M700.8 2738.9h0M707.5 2794.9h0M714.1 2863.3h0M720.7 2908.1h0M727.3 2948.8h0M733.9 3000.3h0M740.5 3037.7h0M747.1 3065h0M780.1 3076.7h0M786.7 3042.5h0M793.3 2994.1h0M799.9 2930.3h0M806.5 2854.6h0M813.1 2771.3h0M819.7 2684.4h0M826.3 2591.2h0M832.9 2525.5h0M839.5 2474.2h0M846.1 2422h0M852.7 2383.2h0M859.3 2361.6h0M865.9 2335.2h0M872.6 2312.5h0M879.2 2296.1h0M885.8 2280.9h0M892.4 2268.9h0M899 2249.9h0M905.6 2227.5h0M912.2 2209.2h0M918.8 2202.4h0M925.4 2207.3h0M932 2219.9h0M938.6 2239h0M945.2 2263.5h0M951.8 2292.3h0M958.4 2324.2h0M965 2357.9h0M971.6 2392.4h0M978.2 2426.5h0M984.8 2459.5h0M991.4 2497.1h0M998 2529.6h0M1004.6 2558.6h0M1011.2 2587.5h0M1017.8 2621.6h0M1024.4 2653h0M1031 2682.5h0M1037.7 2719.7h0M1044.3 2745.3h0M1050.9 2777.2h0M1057.5 2802h0M1064.1 2815.4h0M1070.7 2821h0M1077.3 2823.2h0M1083.9 2817h0M1090.5 2805.1h0M1097.1 2784.3h0M1103.7 2765.5h0M1110.3 2748.3h0M1116.9 2732.2h0M1123.5 2716.2h0M1130.1 2699.9h0M1136.7 2682h0M1143.3 2663.1h0M1149.9 2641.8h0M1156.5 2617.3h0M1163.1 2589.4h0M1169.7 2546.8h0M1176.3 2513.5h0M1182.9 2489.5h0M1189.5 2463.3h0M1196.1 2424h0M1202.8 2400.7h0M1209.4 2370.4h0M1216 2354.9h0M1222.6 2347.8h0M1229.2 2348.4h0M1235.8 2353.8h0M1242.4 2361.7h0M1249 2372.4h0M1255.6 2387.4h0M1262.2 2402.7h0M1268.8 2416.3h0M1275.4 2433.9h0M1282 2451.3h0M1288.6 2468.7h0M1295.2 2489.4h0M1301.8 2510.4h0M1308.4 2532.3h0M1315 2559.9h0M1321.6 2587.9h0M1328.2 2620.6h0M1334.8 2638.3h0M1341.4 2657.1h0M1348 2673h0M1354.6 2689.2h0M1361.2 2702.7h0M1367.9 2707.8h0M1374.5 2713.4h0M1381.1 2708.1h0M1387.7 2703.1h0M1394.3 2696.5h0M1400.9 2687.5h0M1407.5 2675.1h0M1414.1 2661.8h0M1420.7 2640.7h0M1427.3 2620.6h0M1433.9 2601.6h0M1440.5 2585.4h0M1447.1 2563.5h0M1453.7 2547.6h0M1460.3 2529h0M1466.9 2519h0M1473.5 2503.6h0M1480.1 2488.8h0M1486.7 2476.8h0M1493.3 2461.8h0M1499.9 2451.2h0M1506.5 2440.1h0M1513.1 2430.6h0M1519.7 2424.1h0M1526.3 2422.2h0M1533 2431.8h0M1539.6 2434.6h0M1546.2 2437.5h0M1552.8 2451.5h0M1559.4 2460.1h0M1566 2467.8h0M1572.6 2480.7h0M1579.2 2485.2h0M1585.8 2496.1h0M1592.4 2508.9h0M1599 2519h0M1605.6 2536.9h0M1612.2 2542h0M1618.8 2555.7h0M1625.4 2562.3h0M1632 2570.4h0M1638.6 2579.5h0M1645.2 2583.9h0M1651.8 2596.9h0M1658.4 2601.9h0M1665 2607.4h0M1671.6 2612.1h0M1678.2 2613.7h0M1684.8 2618.2h0M1691.4 2616.8h0M1698.1 2616.7h0M1704.7 2619.5h0M1711.3 2615.2h0M1717.9 2607.8h0M1724.5 2598.4h0M1731.1 2591.2h0M1737.7 2581.8h0M1744.3 2572.4h0M1750.9 2564.2h0M1757.5 2555.4h0M1764.1 2543.7h0M1770.7 2540.9h0M1777.3 2530.6h0M1783.9 2521.3h0M1790.5 2517.4h0M1797.1 2507.4h0M1803.7 2506h0M1810.3 2503.1h0M1816.9 2498.9h0M1823.5 2489.8h0M1830.1 2486.3h0M1836.7 2490.9h0M1843.3 2495.2h0M1849.9 2496.7h0M1856.5 2496.2h0M1863.2 2497h0M1869.8 2499.1h0M1876.4 2505.4h0M1883 2506.5h0M1889.6 2511.4h0M1896.2 2515.5h0M1902.8 2525.2h0M1909.4 2526.6h0M1916 2531.2h0M1922.6 2538.8h0M1929.2 2544.9h0M1935.8 2551.6h0M1942.4 2555.1h0M1949 2566.3h0M1955.6 2563.8h0M1962.2 2567.5h0M1968.8 2565.9h0M1975.4 2569.9h0M1982 2570h0M1988.6 2564.2h0M1995.2 2571.2h0M2001.8 2565.5h0M2008.4 2569.6h0M2015 2568.8h0M2021.6 2564.3h0M2028.3 2557.9h0M2034.9 2564.3h0M2041.5 2552.8h0M2048.1 2557.4h0M2054.7 2551.3h0M2061.3 2546.4h0M2067.9 2539.2h0M2074.5 2543.1h0M2081.1 2542.6h0M2087.7 2534.8h0M2094.3 2534h0M2100.9 2527.3h0M2107.5 2527.2h0M2114.1 2522.1h0M2120.7 2522.9h0M2127.3 2526.7h0M2133.9 2520.7h0M2140.5 2517.9h0M2147.1 2512.3h0M2153.7 2513h0M2160.3 2512.8h0M2166.9 2515.7h0M2173.5 2514.5h0M2180.1 2514.9h0M2186.7 2520.6h0M2193.4 2521.8h0M2200 2531.2h0M2206.6 2528.1h0M2213.2 2534.2h0M2219.8 2535.2h0M2226.4 2537.9h0M2233 2540.1h0M2239.6 2545.3h0M2246.2 2544.6h0M2252.8 2546.9h0M2259.4 2548.5h0M2266 2545h0M2272.6 2551.9h0M2279.2 2554.7h0M2285.8 2554.2h0M2292.4 2551.2h0M2299 2556.9h0M2305.6 2548.8h0M2312.2 2551h0M2318.8 2552.5h0M2325.4 2547.4h0M2332 2543.2h0M2338.6 2544.9h0M2345.2 2543.7h0M2351.8 2540.4h0M2358.5 2538h0M2365.1 2538.8h0M2371.7 2536.5h0M2378.3 2536.5h0M2384.9 2534.4h0M2391.5 2533h0M2398.1 2529.1h0M2404.7 2531.4h0M2411.3 2533.7h0M2417.9 2530.9h0M2424.5 2533.8h0M2431.1 2531.4h0M2437.7 2531.1h0M2444.3 2527.2h0M2450.9 2529.9h0M2457.5 2531.8h0M2464.1 2527.9h0M2470.7 2527.9h0M2477.3 2531.2h0M2483.9 2535.2h0M2490.5 2538h0M2497.1 2531.6h0M2503.7 2530.7h0M2510.3 2525.9h0M2516.9 2530.3h0M2523.6 2531.3h0M2530.2 2529.6h0M2536.8 2531.2h0M2543.4 2533h0M2550 2536.6h0M2556.6 2532.4h0M2563.2 2536.5h0M2569.8 2538.5h0M2576.4 2545.4h0M2583 2544.7h0M2589.6 2543.5h0M2596.2 2542.8h0M2602.8 2541.8h0M2609.4 2543.3h0M2616 2549.1h0M2622.6 2544.3h0M2629.2 2547.8h0M2635.8 2546.2h0M2642.4 2545.5h0M2649 2540.2h0M2655.6 2544.8h0M2662.2 2543.5h0M2668.8 2541.1h0M2675.4 2538.9h0M2682 2541h0M2688.7 2543.3h0M2695.3 2538h0M2701.9 2538.7h0M2708.5 2538.6h0M2715.1 2535.4h0M2721.7 2540.4h0M2728.3 2537.6h0M2734.9 2534.4h0M2741.5 2539.8h0M2748.1 2537.9h0M2754.7 2530.4h0M2761.3 2536.4h0M2767.9 2533.4h0M2774.5 2531.5h0M2781.1 2529.2h0M2787.7 2529.5h0M2794.3 2533.9h0M2800.9 2529.2h0M2807.5 2530.8h0M2814.1 2536h0M2820.7 2535.2h0M2827.3 2531.5h0M2833.9 2538.2h0M2840.5 2532.9h0M2847.1 2535.3h0M2853.8 2538.2h0M2860.4 2537.5h0M2867 2533.9h0M2873.6 2539h0M2880.2 2534.9h0M2886.8 2536.2h0M2893.4 2538.4h0M2900 2538.6h0M2906.6 2539.5h0M2913.2 2541.9h0M2919.8 2544h0M2926.4 2538.3h0M2933 2541.2h0M2939.6 2541.5h0M2946.2 2545.3h0M2952.8 2540.9h0M2959.4 2540.8h0M2966 2541.7h0M2972.6 2546.1h0M2979.2 2548.8h0M2985.8 2544.8h0M2992.4 2542.7h0M2999 2541.8h0" stroke="#0000ff" stroke-width="16.2" stroke-linecap="round" fill="none"/>
<polyline points="450,2510 499,2909.3 501,2899 503,2887.8 505,2875.7 507,2862.8 509,2849.1 511,2834.7 513,2819.5 515,2803.7 517,2787.4 519,2770.4 521,2753 523,2735.1 525,2716.8 527,2698 529,2679 531,2659.7 533,2640.1 535,2620.3 537,2600.3 539,2580.2 541,2560 543,2539.8 545,2519.5 547,2499.2 549,2479 551,2458.9 553,2438.8 555,2419 557,2399.3 559,2379.8 561,2360.6 563,2341.6 565,2323 567,2304.6 569,2286.6 571,2269.1 573,2251.9 575,2235.1 577,2218.8 579,2203 581,2187.6 583,2172.8 585,2158.5 587,2144.8 589,2131.6 591,2119 593,2107 595,2095.7 597,2084.9 599,2074.8 601,2065.4 603,2056.6 605,2048.5 607,2041.1 609,2034.3 611,2028.2 613,2022.8 615,2018.2 617,2014.2 619,2010.9 621,2008.3 623,2006.4 625,2005.3 627,2004.8 629,2005 631,2005.9 633,2007.5 635,2009.8 637,2012.7 639,2016.3 641,2020.6 643,2025.5 645,2031 647,2037.2 649,2043.9 651,2051.3 653,2059.3 655,2067.8 657,2076.9 659,2086.5 661,2096.7 663,2107.3 665,2118.5 667,2130.1 669,2142.2 671,2154.7 673,2167.6 675,2180.9 677,2194.6 679,2208.7 681,2223.1 683,2237.8 685,2252.8 687,2268 689,2283.6 691,2299.3 693,2315.3 695,2331.4 697,2347.7 699,2364.1 701,2380.6 703,2397.3 705,2414 707,2430.7 709,2447.5 711,2464.3 713,2481 715,2497.7 717,2514.4 719,2531 721,2547.4 723,2563.7 725,2579.9 727,2595.9 729,2611.8 731,2627.4 733,2642.8 735,2657.9 737,2672.8 739,2687.4 741,2701.7 743,2715.7 745,2729.3 747,2742.6 749,2755.6 751,2768.1 753,2780.3 755,2792.1 757,2803.4 759,2814.3 761,2824.8 763,2834.8 765,2844.4 767,2853.4 769,2862.1 771,2870.2 773,2877.8 775,2884.9 777,2891.5 779,2897.6 781,2903.2 783,2908.2 785,2912.8 787,2916.8 789,2920.3 791,2923.2 793,2925.6 795,2927.5 797,2928.9 799,2929.7 801,2930 803,2929.8 805,2929 807,2927.8 809,2926 811,2923.8 813,2921 815,2917.8 817,2914.1 819,2909.9 821,2905.2 823,2900.1 825,2894.6 827,2888.6 829,2882.2 831,2875.4 833,2868.2 835,2860.5 837,2852.6 839,2844.2 841,2835.5 843,2826.5 845,2817.2 847,2807.5 849,2797.6 851,2787.4 853,2776.9 855,2766.2 857,2755.3 859,2744.1 861,2732.8 863,2721.2 865,2709.5 867,2697.7 869,2685.7 871,2673.7 873,2661.5 875,2649.2 877,2636.9 879,2624.6 881,2612.2 883,2599.8 885,2587.4 887,2575 889,2562.6 891,2550.3 893,2538.1 895,2526 897,2514 899,2502 901,2490.2 903,2478.6 905,2467.1 907,2455.8 909,2444.7 911,2433.7 913,2423 915,2412.5 917,2402.3 919,2392.3 921,2382.5 923,2373.1 925,2363.9 927,2355 929,2346.4 931,2338.1 933,2330.2 935,2322.6 937,2315.3 939,2308.3 941,2301.8 943,2295.5 945,2289.7 947,2284.2 949,2279.1 951,2274.3 953,2269.9 955,2266 957,2262.4 959,2259.2 961,2256.4 963,2254 965,2251.9 967,2250.3 969,2249 971,2248.2 973,2247.7 975,2247.7 977,2248 979,2248.7 981,2249.7 983,2251.2 985,2253 987,2255.2 989,2257.7 991,2260.6 993,2263.8 995,2267.4 997,2271.3 999,2275.5 1001,2280.1 1003,2285 1005,2290.1 1007,2295.6 1009,2301.3 1011,2307.3 1013,2313.6 1015,2320.1 1017,2326.9 1019,2333.9 1021,2341.1 1023,2348.6 1025,2356.2 1027,2364 1029,2372 1031,2380.2 1033,2388.5 1035,2396.9 1037,2405.5 1039,2414.2 1041,2423 1043,2431.9 1045,2440.9 1047,2449.9 1049,2459 1051,2468.1 1053,2477.3 1055,2486.5 1057,2495.7 1059,2504.8 1061,2514 1063,2523.1 1065,2532.2 1067,2541.2 1069,2550.2 1071,2559.1 1073,2567.8 1075,2576.5 1077,2585.1 1079,2593.6 1081,2601.9 1083,2610.1 1085,2618.1 1087,2626 1089,2633.7 1091,2641.2 1093,2648.5 1095,2655.6 1097,2662.6 1099,2669.3 1101,2675.8 1103,2682 1105,2688.1 1107,2693.9 1109,2699.4 1111,2704.7 1113,2709.7 1115,2714.5 1117,2719 1119,2723.3 1121,2727.2 1123,2730.9 1125,2734.3 1127,2737.4 1129,2740.3 1131,2742.8 1133,2745.1 1135,2747 1137,2748.7 1139,2750.1 1141,2751.2 1143,2752 1145,2752.5 1147,2752.7 1149,2752.7 1151,2752.3 1153,2751.7 1155,2750.8 1157,2749.7 1159,2748.2 1161,2746.5 1163,2744.5 1165,2742.3 1167,2739.8 1169,2737 1171,2734.1 1173,2730.8 1175,2727.4 1177,2723.7 1179,2719.8 1181,2715.7 1183,2711.3 1185,2706.8 1187,2702.1 1189,2697.2 1191,2692.1 1193,2686.9 1195,2681.4 1197,2675.9 1199,2670.2 1201,2664.3 1203,2658.4 1205,2652.3 1207,2646.1 1209,2639.8 1211,2633.4 1213,2626.9 1215,2620.4 1217,2613.8 1219,2607.1 1221,2600.4 1223,2593.7 1225,2586.9 1227,2580.1 1229,2573.3 1231,2566.5 1233,2559.7 1235,2553 1237,2546.2 1239,2539.5 1241,2532.9 1243,2526.3 1245,2519.7 1247,2513.2 1249,2506.8 1251,2500.5 1253,2494.3 1255,2488.2 1257,2482.2 1259,2476.3 1261,2470.5 1263,2464.8 1265,2459.3 1267,2454 1269,2448.7 1271,2443.7 1273,2438.8 1275,2434 1277,2429.4 1279,2425.1 1281,2420.8 1283,2416.8 1285,2413 1287,2409.3 1289,2405.8 1291,2402.6 1293,2399.5 1295,2396.7 1297,2394 1299,2391.6 1301,2389.4 1303,2387.4 1305,2385.6 1307,2384 1309,2382.6 1311,2381.4 1313,2380.5 1315,2379.8 1317,2379.2 1319,2378.9 1321,2378.9 1323,2379 1325,2379.3 1327,2379.9 1329,2380.6 1331,2381.5 1333,2382.7 1335,2384 1337,2385.6 1339,2387.3 1341,2389.2 1343,2391.3 1345,2393.6 1347,2396.1 1349,2398.7 1351,2401.5 1353,2404.4 1355,2407.5 1357,2410.8 1359,2414.2 1361,2417.8 1363,2421.4 1365,2425.2 1367,2429.2 1369,2433.2 1371,2437.4 1373,2441.6 1375,2446 1377,2450.5 1379,2455 1381,2459.6 1383,2464.3 1385,2469.1 1387,2473.9 1389,2478.7 1391,2483.6 1393,2488.6 1395,2493.5 1397,2498.5 1399,2503.6 1401,2508.6 1403,2513.6 1405,2518.7 1407,2523.7 1409,2528.7 1411,2533.7 1413,2538.6 1415,2543.5 1417,2548.4 1419,2553.2 1421,2558 1423,2562.7 1425,2567.4 1427,2571.9 1429,2576.4 1431,2580.9 1433,2585.2 1435,2589.4 1437,2593.6 1439,2597.6 1441,2601.5 1443,2605.4 1445,2609.1 1447,2612.7 1449,2616.1 1451,2619.5 1453,2622.7 1455,2625.7 1457,2628.7 1459,2631.5 1461,2634.1 1463,2636.6 1465,2639 1467,2641.2 1469,2643.2 1471,2645.1 1473,2646.9 1475,2648.4 1477,2649.9 1479,2651.1 1481,2652.3 1483,2653.2 1485,2654 1487,2654.6 1489,2655.1 1491,2655.4 1493,2655.6 1495,2655.6 1497,2655.5 1499,2655.2 1501,2654.7 1503,2654.1 1505,2653.3 1507,2652.4 1509,2651.4 1511,2650.2 1513,2648.8 1515,2647.4 1517,2645.8 1519,2644 1521,2642.2 1523,2640.2 1525,2638 1527,2635.8 1529,2633.5 1531,2631 1533,2628.5 1535,2625.8 1537,2623 1539,2620.2 1541,2617.2 1543,2614.2 1545,2611.1 1547,2607.9 1549,2604.7 1551,2601.3 1553,2597.9 1555,2594.5 1557,2591 1559,2587.5 1561,2583.9 1563,2580.3 1565,2576.7 1567,2573 1569,2569.3 1571,2565.6 1573,2561.9 1575,2558.2 1577,2554.4 1579,2550.7 1581,2547 1583,2543.3 1585,2539.6 1587,2536 1589,2532.3 1591,2528.7 1593,2525.2 1595,2521.7 1597,2518.2 1599,2514.8 1601,2511.4 1603,2508.1 1605,2504.8 1607,2501.7 1609,2498.6 1611,2495.5 1613,2492.6 1615,2489.7 1617,2486.9 1619,2484.2 1621,2481.6 1623,2479 1625,2476.6 1627,2474.3 1629,2472 1631,2469.9 1633,2467.9 1635,2466 1637,2464.1 1639,2462.4 1641,2460.9 1643,2459.4 1645,2458 1647,2456.8 1649,2455.6 1651,2454.6 1653,2453.7 1655,2453 1657,2452.3 1659,2451.8 1661,2451.3 1663,2451 1665,2450.8 1667,2450.8 1669,2450.8 1671,2451 1673,2451.2 1675,2451.6 1677,2452.1 1679,2452.7 1681,2453.4 1683,2454.2 1685,2455.2 1687,2456.2 1689,2457.3 1691,2458.5 1693,2459.9 1695,2461.3 1697,2462.8 1699,2464.4 1701,2466.1 1703,2467.8 1705,2469.7 1707,2471.6 1709,2473.6 1711,2475.7 1713,2477.8 1715,2480 1717,2482.3 1719,2484.6 1721,2487 1723,2489.4 1725,2491.9 1727,2494.4 1729,2497 1731,2499.6 1733,2502.2 1735,2504.9 1737,2507.6 1739,2510.3 1741,2513 1743,2515.7 1745,2518.5 1747,2521.2 1749,2524 1751,2526.7 1753,2529.5 1755,2532.2 1757,2535 1759,2537.7 1761,2540.4 1763,2543.1 1765,2545.7 1767,2548.3 1769,2550.9 1771,2553.5 1773,2556 1775,2558.5 1777,2560.9 1779,2563.3 1781,2565.6 1783,2567.9 1785,2570.1 1787,2572.3 1789,2574.4 1791,2576.4 1793,2578.4 1795,2580.3 1797,2582.2 1799,2584 1801,2585.7 1803,2587.3 1805,2588.8 1807,2590.3 1809,2591.7 1811,2593 1813,2594.2 1815,2595.4 1817,2596.4 1819,2597.4 1821,2598.3 1823,2599.1 1825,2599.8 1827,2600.4 1829,2601 1831,2601.4 1833,2601.8 1835,2602.1 1837,2602.3 1839,2602.4 1841,2602.4 1843,2602.3 1845,2602.2 1847,2602 1849,2601.6 1851,2601.2 1853,2600.8 1855,2600.2 1857,2599.6 1859,2598.9 1861,2598.1 1863,2597.2 1865,2596.3 1867,2595.3 1869,2594.2 1871,2593 1873,2591.8 1875,2590.6 1877,2589.2 1879,2587.8 1881,2586.4 1883,2584.9 1885,2583.3 1887,2581.7 1889,2580.1 1891,2578.4 1893,2576.7 1895,2574.9 1897,2573.1 1899,2571.2 1901,2569.3 1903,2567.4 1905,2565.5 1907,2563.6 1909,2561.6 1911,2559.6 1913,2557.6 1915,2555.6 1917,2553.5 1919,2551.5 1921,2549.5 1923,2547.4 1925,2545.4 1927,2543.3 1929,2541.3 1931,2539.3 1933,2537.3 1935,2535.3 1937,2533.3 1939,2531.4 1941,2529.4 1943,2527.5 1945,2525.6 1947,2523.8 1949,2522 1951,2520.2 1953,2518.4 1955,2516.7 1957,2515 1959,2513.4 1961,2511.8 1963,2510.3 1965,2508.8 1967,2507.3 1969,2505.9 1971,2504.6 1973,2503.3 1975,2502.1 1977,2500.9 1979,2499.8 1981,2498.7 1983,2497.7 1985,2496.8 1987,2495.9 1989,2495.1 1991,2494.3 1993,2493.6 1995,2493 1997,2492.4 1999,2491.9 2001,2491.4 2003,2491.1 2005,2490.8 2007,2490.5 2009,2490.3 2011,2490.2 2013,2490.2 2015,2490.2 2017,2490.2 2019,2490.4 2021,2490.6 2023,2490.8 2025,2491.1 2027,2491.5 2029,2492 2031,2492.4 2033,2493 2035,2493.6 2037,2494.3 2039,2495 2041,2495.7 2043,2496.6 2045,2497.4 2047,2498.3 2049,2499.3 2051,2500.3 2053,2501.3 2055,2502.4 2057,2503.6 2059,2504.7 2061,2505.9 2063,2507.2 2065,2508.4 2067,2509.7 2069,2511 2071,2512.4 2073,2513.8 2075,2515.2 2077,2516.6 2079,2518 2081,2519.5 2083,2520.9 2085,2522.4 2087,2523.9 2089,2525.4 2091,2526.9 2093,2528.4 2095,2529.9 2097,2531.4 2099,2533 2101,2534.5 2103,2536 2105,2537.4 2107,2538.9 2109,2540.4 2111,2541.9 2113,2543.3 2115,2544.7 2117,2546.1 2119,2547.5 2121,2548.9 2123,2550.2 2125,2551.5 2127,2552.8 2129,2554.1 2131,2555.3 2133,2556.5 2135,2557.6 2137,2558.8 2139,2559.9 2141,2560.9 2143,2561.9 2145,2562.9 2147,2563.9 2149,2564.8 2151,2565.6 2153,2566.4 2155,2567.2 2157,2567.9 2159,2568.6 2161,2569.2 2163,2569.8 2165,2570.4 2167,2570.9 2169,2571.3 2171,2571.7 2173,2572.1 2175,2572.4 2177,2572.7 2179,2572.9 2181,2573 2183,2573.2 2185,2573.2 2187,2573.2 2189,2573.2 2191,2573.2 2193,2573 2195,2572.9 2197,2572.7 2199,2572.4 2201,2572.1 2203,2571.8 2205,2571.4 2207,2571 2209,2570.5 2211,2570 2213,2569.5 2215,2568.9 2217,2568.3 2219,2567.6 2221,2566.9 2223,2566.2 2225,2565.4 2227,2564.7 2229,2563.8 2231,2563 2233,2562.1 2235,2561.2 2237,2560.3 2239,2559.4 2241,2558.4 2243,2557.4 2245,2556.4 2247,2555.4 2249,2554.3 2251,2553.3 2253,2552.2 2255,2551.1 2257,2550 2259,2548.9 2261,2547.8 2263,2546.7 2265,2545.6 2267,2544.5 2269,2543.4 2271,2542.2 2273,2541.1 2275,2540 2277,2538.9 2279,2537.8 2281,2536.7 2283,2535.6 2285,2534.6 2287,2533.5 2289,2532.4 2291,2531.4 2293,2530.4 2295,2529.4 2297,2528.4 2299,2527.4 2301,2526.5 2303,2525.6 2305,2524.7 2307,2523.8 2309,2523 2311,2522.1 2313,2521.3 2315,2520.6 2317,2519.8 2319,2519.1 2321,2518.4 2323,2517.8 2325,2517.1 2327,2516.6 2329,2516 2331,2515.5 2333,2515 2335,2514.5 2337,2514.1 2339,2513.7 2341,2513.4 2343,2513 2345,2512.7 2347,2512.5 2349,2512.3 2351,2512.1 2353,2512 2355,2511.9 2357,2511.8 2359,2511.7 2361,2511.7 2363,2511.8 2365,2511.8 2367,2511.9 2369,2512.1 2371,2512.2 2373,2512.4 2375,2512.7 2377,2512.9 2379,2513.2 2381,2513.5 2383,2513.9 2385,2514.3 2387,2514.7 2389,2515.1 2391,2515.6 2393,2516.1 2395,2516.6 2397,2517.2 2399,2517.7 2401,2518.3 2403,2518.9 2405,2519.6 2407,2520.2 2409,2520.9 2411,2521.6 2413,2522.3 2415,2523 2417,2523.8 2419,2524.5 2421,2525.3 2423,2526 2425,2526.8 2427,2527.6 2429,2528.4 2431,2529.2 2433,2530.1 2435,2530.9 2437,2531.7 2439,2532.5 2441,2533.3 2443,2534.2 2445,2535 2447,2535.8 2449,2536.6 2451,2537.5 2453,2538.3 2455,2539.1 2457,2539.9 2459,2540.7 2461,2541.5 2463,2542.2 2465,2543 2467,2543.7 2469,2544.5 2471,2545.2 2473,2545.9 2475,2546.6 2477,2547.3 2479,2547.9 2481,2548.6 2483,2549.2 2485,2549.8 2487,2550.4 2489,2550.9 2491,2551.5 2493,2552 2495,2552.5 2497,2553 2499,2553.4 2501,2553.9 2503,2554.3 2505,2554.6 2507,2555 2509,2555.3 2511,2555.6 2513,2555.9 2515,2556.2 2517,2556.4 2519,2556.6 2521,2556.8 2523,2556.9 2525,2557 2527,2557.1 2529,2557.2 2531,2557.2 2533,2557.3 2535,2557.3 2537,2557.2 2539,2557.2 2541,2557.1 2543,2557 2545,2556.8 2547,2556.7 2549,2556.5 2551,2556.3 2553,2556.1 2555,2555.8 2557,2555.6 2559,2555.3 2561,2554.9 2563,2554.6 2565,2554.3 2567,2553.9 2569,2553.5 2571,2553.1 2573,2552.7 2575,2552.2 2577,2551.8 2579,2551.3 2581,2550.8 2583,2550.3 2585,2549.8 2587,2549.2 2589,2548.7 2591,2548.2 2593,2547.6 2595,2547 2597,2546.5 2599,2545.9 2601,2545.3 2603,2544.7 2605,2544.1 2607,2543.5 2609,2542.9 2611,2542.3 2613,2541.6 2615,2541 2617,2540.4 2619,2539.8 2621,2539.2 2623,2538.6 2625,2538 2627,2537.4 2629,2536.8 2631,2536.2 2633,2535.6 2635,2535 2637,2534.5 2639,2533.9 2641,2533.4 2643,2532.8 2645,2532.3 2647,2531.8 2649,2531.3 2651,2530.8 2653,2530.3 2655,2529.8 2657,2529.4 2659,2528.9 2661,2528.5 2663,2528.1 2665,2527.7 2667,2527.3 2669,2526.9 2671,2526.6 2673,2526.3 2675,2526 2677,2525.7 2679,2525.4 2681,2525.1 2683,2524.9 2685,2524.7 2687,2524.5 2689,2524.3 2691,2524.2 2693,2524 2695,2523.9 2697,2523.8 2699,2523.7 2701,2523.6 2703,2523.6 2705,2523.6 2707,2523.6 2709,2523.6 2711,2523.6 2713,2523.7 2715,2523.7 2717,2523.8 2719,2523.9 2721,2524 2723,2524.2 2725,2524.3 2727,2524.5 2729,2524.7 2731,2524.9 2733,2525.1 2735,2525.4 2737,2525.6 2739,2525.9 2741,2526.2 2743,2526.5 2745,2526.8 2747,2527.1 2749,2527.4 2751,2527.8 2753,2528.1 2755,2528.5 2757,2528.9 2759,2529.3 2761,2529.7 2763,2530.1 2765,2530.5 2767,2530.9 2769,2531.3 2771,2531.7 2773,2532.2 2775,2532.6 2777,2533.1 2779,2533.5 2781,2533.9 2783,2534.4 2785,2534.9 2787,2535.3 2789,2535.8 2791,2536.2 2793,2536.7 2795,2537.1 2797,2537.6 2799,2538 2801,2538.5 2803,2538.9 2805,2539.3 2807,2539.8 2809,2540.2 2811,2540.6 2813,2541 2815,2541.4 2817,2541.8 2819,2542.2 2821,2542.6 2823,2543 2825,2543.3 2827,2543.7 2829,2544 2831,2544.3 2833,2544.7 2835,2545 2837,2545.3 2839,2545.6 2841,2545.8 2843,2546.1 2845,2546.4 2847,2546.6 2849,2546.8 2851,2547 2853,2547.2 2855,2547.4 2857,2547.6 2859,2547.7 2861,2547.9 2863,2548 2865,2548.1 2867,2548.2 2869,2548.3 2871,2548.4 2873,2548.4 2875,2548.5 2877,2548.5 2879,2548.5 2881,2548.5 2883,2548.5 2885,2548.5 2887,2548.4 2889,2548.4 2891,2548.3 2893,2548.2 2895,2548.1 2897,2548 2899,2547.9 2901,2547.8 2903,2547.6 2905,2547.5 2907,2547.3 2909,2547.1 2911,2546.9 2913,2546.7 2915,2546.5 2917,2546.3 2919,2546 2921,2545.8 2923,2545.5 2925,2545.3 2927,2545 2929,2544.8 2931,2544.5 2933,2544.2 2935,2543.9 2937,2543.6 2939,2543.3 2941,2543 2943,2542.7 2945,2542.3 2947,2542 2949,2541.7 2951,2541.4 2953,2541 2955,2540.7 2957,2540.4 2959,2540 2961,2539.7 2963,2539.4 2965,2539 2967,2538.7 2969,2538.4 2971,2538 2973,2537.7 2975,2537.4 2977,2537 2979,2536.7 2981,2536.4 2983,2536.1 2985,2535.8 2987,2535.5 2989,2535.2 2991,2534.9 2993,2534.6 2995,2534.3 2997,2534.1 2999,2533.8 3001,2533.5 3003,2533.3 3005,2533 3007,2532.8 3009,2532.6 3011,2532.4 3013,2532.1 3015,2531.9 3017,2531.8 3019,2531.6 3021,2531.4 3023,2531.2 3025,2531.1 3027,2530.9 3029,2530.8 3031,2530.7 3033,2530.6 3035,2530.5 3037,2530.4 3039,2530.3 3041,2530.2 3043,2530.2 3045,2530.1 3047,2530.1 3049,2530.1 3051,2530 3053,2530 3055,2530 3057,2530.1 3059,2530.1" fill="none" stroke="#90ee90" stroke-width="80.6" stroke-linejoin="round"/>
<path d="M524.7 2453.8h0M531.3 2519.3h0M537.9 2536.8h0M544.6 2518.5h0M551.2 2481.5h0M557.8 2431.1h0M564.4 2372.3h0M571 2310.4h0M577.6 2250.5h0M584.2 2197.7h0M590.8 2155.1h0M597.4 2115h0M604 2076h0M610.6 2038.8h0M617.2 2000.7h0M623.8 1972.4h0M630.4 1964.6h0M637 1969.9h0M643.6 1979h0M650.2 1998.1h0M656.8 2019.4h0M663.4 2054.7h0M670 2104.7h0M676.6 2159.3h0M683.2 2212.9h0M689.8 2275.3h0M696.4 2343.8h0M703 2416h0M709.7 2489.1h0M716.3 2560.4h0M722.9 2627.3h0M729.5 2687.2h0M736.1 2737.4h0M742.7 2775.1h0M749.3 2799.2h0M755.9 2824h0M762.5 2850.7h0M769.1 2870.1h0M775.7 2890.6h0M782.3 2920.4h0M788.9 2936.9h0M795.5 2945h0M802.1 2952.1h0M808.7 2950.4h0M815.3 2941.7h0M821.9 2932h0M828.5 2913.3h0M835.1 2870.6h0M841.7 2820.3h0M848.3 2764.4h0M854.9 2706.1h0M861.5 2648.6h0M868.1 2594.9h0M874.8 2548.2h0M881.4 2511.1h0M888 2476.2h0M894.6 2438.1h0M901.2 2399.9h0M907.8 2369.2h0M914.4 2348.5h0M921 2334.4h0M927.6 2320.6h0M934.2 2308.7h0M940.8 2297.7h0M947.4 2285.8h0M954 2276.3h0M960.6 2269.2h0M967.2 2263.3h0M973.8 2259.2h0M980.4 2258.7h0M987 2265.4h0M993.6 2279.1h0M1000.2 2298.2h0M1006.8 2321.4h0M1013.4 2347.3h0M1020 2374.4h0M1026.6 2401.4h0M1033.2 2427.2h0M1039.9 2456.7h0M1046.5 2471.9h0M1053.1 2495.6h0M1059.7 2519h0M1066.3 2555.1h0M1072.9 2575.6h0M1079.5 2598.9h0M1086.1 2616.2h0M1092.7 2640.1h0M1099.3 2658.6h0M1105.9 2683.5h0M1112.5 2704.1h0M1119.1 2722.5h0M1125.7 2736.2h0M1132.3 2746.1h0M1138.9 2757.3h0M1145.5 2764.9h0M1152.1 2772.3h0M1158.7 2772h0M1165.3 2765.1h0M1171.9 2754.5h0M1178.5 2739.4h0M1185.1 2722.5h0M1191.7 2703.2h0M1198.3 2683.1h0M1205 2664.8h0M1211.6 2644.9h0M1218.2 2627.6h0M1224.8 2606.6h0M1231.4 2583.6h0M1238 2566.1h0M1244.6 2554.7h0M1251.2 2533.2h0M1257.8 2517.7h0M1264.4 2501.7h0M1271 2491.3h0M1277.6 2474.6h0M1284.2 2454.6h0M1290.8 2443.6h0M1297.4 2433.8h0M1304 2424.7h0M1310.6 2414h0M1317.2 2404.8h0M1323.8 2402.4h0M1330.4 2397.1h0M1337 2397.4h0M1343.6 2399.3h0M1350.2 2401.5h0M1356.8 2411.4h0M1363.4 2416.8h0M1370.1 2427.2h0M1376.7 2439.2h0M1383.3 2452.5h0M1389.9 2464.3h0M1396.5 2484.8h0M1403.1 2498.3h0M1409.7 2515.4h0M1416.3 2533.6h0M1422.9 2553.8h0M1429.5 2568h0M1436.1 2586.5h0M1442.7 2596.4h0M1449.3 2615.1h0M1455.9 2630.7h0M1462.5 2641.6h0M1469.1 2654.9h0M1475.7 2662.5h0M1482.3 2667h0M1488.9 2672.3h0M1495.5 2672.6h0M1502.1 2670.1h0M1508.7 2670.4h0M1515.3 2661.5h0M1521.9 2655.9h0M1528.5 2649.4h0M1535.2 2640h0M1541.8 2635.5h0M1548.4 2620.3h0M1555 2615.1h0M1561.6 2600.6h0M1568.2 2585.7h0M1574.8 2572.8h0M1581.4 2562.1h0M1588 2547.7h0M1594.6 2538.6h0M1601.2 2530.7h0M1607.8 2511.9h0M1614.4 2499.4h0M1621 2492.6h0M1627.6 2485.5h0M1634.2 2476h0M1640.8 2464.7h0M1647.4 2462.9h0M1654 2458.7h0M1660.6 2450h0M1667.2 2444h0M1673.8 2442h0M1680.4 2444.1h0M1687 2448.9h0M1693.6 2452.1h0M1700.3 2458.1h0M1706.9 2461.3h0M1713.5 2471.7h0M1720.1 2479.4h0M1726.7 2482.1h0M1733.3 2495.2h0M1739.9 2503.8h0M1746.5 2518.6h0M1753.1 2523.7h0M1759.7 2535h0M1766.3 2549.5h0M1772.9 2553.6h0M1779.5 2567.7h0M1786.1 2570.1h0M1792.7 2587.8h0M1799.3 2594h0M1805.9 2597.9h0M1812.5 2610.1h0M1819.1 2610.1h0M1825.7 2617.3h0M1832.3 2623.9h0M1838.9 2628.5h0M1845.5 2627.2h0M1852.1 2626.4h0M1858.7 2622h0M1865.4 2623.5h0M1872 2611.5h0M1878.6 2604.4h0M1885.2 2601.9h0M1891.8 2595.1h0M1898.4 2585.5h0M1905 2585.6h0M1911.6 2576.6h0M1918.2 2565.3h0M1924.8 2561.3h0M1931.4 2551h0M1938 2550.4h0M1944.6 2537.2h0M1951.2 2533.7h0M1957.8 2521.2h0M1964.4 2509h0M1971 2511.9h0M1977.6 2493.6h0M1984.2 2497.1h0M1990.8 2488.5h0M1997.4 2486.4h0M2004 2480.8h0M2010.6 2482.8h0M2017.2 2478h0M2023.8 2483.2h0M2030.5 2480.5h0M2037.1 2476h0M2043.7 2488.9h0M2050.3 2491.1h0M2056.9 2489.4h0M2063.5 2492.1h0M2070.1 2499.3h0M2076.7 2506.1h0M2083.3 2510.7h0M2089.9 2519.9h0M2096.5 2528.5h0M2103.1 2532.9h0M2109.7 2542.1h0M2116.3 2541h0M2122.9 2552.9h0M2129.5 2561.5h0M2136.1 2566.2h0M2142.7 2573h0M2149.3 2577.5h0M2155.9 2573.6h0M2162.5 2578.8h0M2169.1 2582.3h0M2175.7 2580.1h0M2182.3 2587.1h0M2188.9 2582.3h0M2195.6 2582.5h0M2202.2 2577.1h0M2208.8 2572.8h0M2215.4 2572.1h0M2222 2571.3h0M2228.6 2561.6h0M2235.2 2560.2h0M2241.8 2556h0M2248.4 2550.9h0M2255 2550.5h0M2261.6 2538.9h0M2268.2 2534.4h0M2274.8 2528.5h0M2281.4 2528h0M2288 2521.9h0M2294.6 2522h0M2301.2 2519.4h0M2307.8 2515.9h0M2314.4 2509.4h0M2321 2513.2h0M2327.6 2505.8h0M2334.2 2503.1h0M2340.8 2495.5h0M2347.4 2498.6h0M2354 2498.8h0M2360.7 2500.2h0M2367.3 2504.6h0M2373.9 2502.2h0M2380.5 2501.1h0M2387.1 2505.4h0M2393.7 2514h0M2400.3 2505.7h0M2406.9 2512.9h0M2413.5 2515.4h0M2420.1 2518.9h0M2426.7 2512.3h0M2433.3 2525h0M2439.9 2529.6h0M2446.5 2533.4h0M2453.1 2525.3h0M2459.7 2534.7h0M2466.3 2537h0M2472.9 2542.8h0M2479.5 2542.8h0M2486.1 2547.7h0M2492.7 2550.6h0M2499.3 2554.9h0M2505.9 2551.7h0M2512.5 2551.3h0M2519.1 2560.1h0M2525.8 2551h0M2532.4 2553.8h0M2539 2551.8h0M2545.6 2546.9h0M2552.2 2548.5h0M2558.8 2543.6h0M2565.4 2542.5h0M2572 2541.5h0M2578.6 2541.8h0M2585.2 2536.2h0M2591.8 2536h0M2598.4 2534.6h0M2605 2542.2h0M2611.6 2530.8h0M2618.2 2531.6h0M2624.8 2527.6h0M2631.4 2524.4h0M2638 2527.3h0M2644.6 2528.1h0M2651.2 2523.1h0M2657.8 2520.3h0M2664.4 2517.7h0M2671 2515.8h0M2677.6 2516.5h0M2684.2 2520.1h0M2690.9 2515.6h0M2697.5 2508.9h0M2704.1 2508.9h0M2710.7 2508.9h0M2717.3 2511.2h0M2723.9 2512.4h0M2730.5 2509.9h0M2737.1 2506.4h0M2743.7 2511h0M2750.3 2509.3h0M2756.9 2514.6h0M2763.5 2517.9h0M2770.1 2515.6h0M2776.7 2523.4h0M2783.3 2523.1h0M2789.9 2523.5h0M2796.5 2527.7h0M2803.1 2529h0M2809.7 2532.2h0M2816.3 2535.3h0M2822.9 2535.6h0M2829.5 2538.5h0M2836.1 2534.2h0M2842.7 2541h0M2849.3 2535.7h0M2856 2539.1h0M2862.6 2543.7h0M2869.2 2539.9h0M2875.8 2542.5h0M2882.4 2541.8h0M2889 2548.2h0M2895.6 2541.6h0M2902.2 2547.4h0M2908.8 2538.3h0M2915.4 2537.3h0M2922 2539.5h0M2928.6 2541.5h0M2935.2 2546.8h0M2941.8 2539.5h0M2948.4 2536.6h0M2955 2538.4h0M2961.6 2535.9h0M2968.2 2535.5h0M2974.8 2533.9h0M2981.4 2532.8h0M2988 2534.9h0M2994.6 2535.3h0M3001.2 2534.1h0" stroke="#008000" stroke-width="16.2" stroke-linecap="round" fill="none"/>
<polyline points="450,2510 499,2715.7 501,2709.2 503,2702.4 505,2695.1 507,2687.4 509,2679.4 511,2671.1 513,2662.4 515,2653.5 517,2644.3 519,2634.8 521,2625.1 523,2615.3 525,2605.2 527,2594.9 529,2584.5 531,2574 533,2563.4 535,2552.6 537,2541.8 539,2530.9 541,2520 543,2509.1 545,2498.2 547,2487.2 549,2476.3 551,2465.5 553,2454.7 555,2444 557,2433.3 559,2422.8 561,2412.3 563,2402 565,2391.9 567,2381.9 569,2372.1 571,2362.4 573,2353 575,2343.7 577,2334.7 579,2325.9 581,2317.3 583,2309 585,2300.9 587,2293.1 589,2285.6 591,2278.3 593,2271.4 595,2264.7 597,2258.4 599,2252.3 601,2246.6 603,2241.2 605,2236.2 607,2231.5 609,2227.1 611,2223 613,2219.4 615,2216 617,2213.1 619,2210.4 621,2208.2 623,2206.3 625,2204.7 627,2203.6 629,2202.8 631,2202.3 633,2202.2 635,2202.5 637,2203.2 639,2204.2 641,2205.5 643,2207.2 645,2209.3 647,2211.7 649,2214.5 651,2217.6 653,2221 655,2224.8 657,2228.9 659,2233.3 661,2238 663,2243 665,2248.4 667,2254 669,2259.9 671,2266.1 673,2272.6 675,2279.3 677,2286.3 679,2293.6 681,2301.1 683,2308.8 685,2316.7 687,2324.9 689,2333.2 691,2341.8 693,2350.5 695,2359.4 697,2368.4 699,2377.7 701,2387 703,2396.5 705,2406.1 707,2415.8 709,2425.6 711,2435.5 713,2445.5 715,2455.5 717,2465.6 719,2475.7 721,2485.8 723,2496 725,2506.2 727,2516.4 729,2526.5 731,2536.7 733,2546.8 735,2556.8 737,2566.8 739,2576.7 741,2586.6 743,2596.3 745,2606 747,2615.5 749,2625 751,2634.3 753,2643.4 755,2652.4 757,2661.3 759,2669.9 761,2678.4 763,2686.7 765,2694.9 767,2702.8 769,2710.5 771,2718 773,2725.2 775,2732.2 777,2739 779,2745.6 781,2751.9 783,2757.9 785,2763.7 787,2769.2 789,2774.4 791,2779.4 793,2784 795,2788.4 797,2792.5 799,2796.3 801,2799.8 803,2803 805,2805.8 807,2808.4 809,2810.7 811,2812.7 813,2814.4 815,2815.7 817,2816.8 819,2817.5 821,2817.9 823,2818 825,2817.8 827,2817.3 829,2816.5 831,2815.4 833,2814 835,2812.3 837,2810.3 839,2808 841,2805.5 843,2802.6 845,2799.5 847,2796.1 849,2792.4 851,2788.4 853,2784.2 855,2779.7 857,2775 859,2770.1 861,2764.9 863,2759.5 865,2753.8 867,2748 869,2741.9 871,2735.6 873,2729.2 875,2722.5 877,2715.7 879,2708.7 881,2701.5 883,2694.2 885,2686.8 887,2679.2 889,2671.4 891,2663.6 893,2655.7 895,2647.6 897,2639.5 899,2631.3 901,2623 903,2614.6 905,2606.2 907,2597.8 909,2589.3 911,2580.8 913,2572.3 915,2563.7 917,2555.2 919,2546.7 921,2538.2 923,2529.8 925,2521.3 927,2513 929,2504.7 931,2496.4 933,2488.2 935,2480.2 937,2472.2 939,2464.3 941,2456.5 943,2448.9 945,2441.3 947,2433.9 949,2426.7 951,2419.6 953,2412.6 955,2405.8 957,2399.2 959,2392.7 961,2386.5 963,2380.4 965,2374.5 967,2368.9 969,2363.4 971,2358.1 973,2353.1 975,2348.3 977,2343.7 979,2339.3 981,2335.2 983,2331.3 985,2327.7 987,2324.3 989,2321.1 991,2318.2 993,2315.5 995,2313.1 997,2311 999,2309.1 1001,2307.5 1003,2306.1 1005,2305 1007,2304.1 1009,2303.5 1011,2303.2 1013,2303.1 1015,2303.3 1017,2303.7 1019,2304.4 1021,2305.3 1023,2306.5 1025,2308 1027,2309.7 1029,2311.6 1031,2313.8 1033,2316.2 1035,2318.9 1037,2321.7 1039,2324.8 1041,2328.2 1043,2331.7 1045,2335.5 1047,2339.4 1049,2343.6 1051,2348 1053,2352.5 1055,2357.3 1057,2362.2 1059,2367.3 1061,2372.6 1063,2378 1065,2383.6 1067,2389.3 1069,2395.2 1071,2401.2 1073,2407.3 1075,2413.6 1077,2420 1079,2426.5 1081,2433 1083,2439.7 1085,2446.4 1087,2453.3 1089,2460.2 1091,2467.1 1093,2474.1 1095,2481.2 1097,2488.2 1099,2495.4 1101,2502.5 1103,2509.6 1105,2516.8 1107,2523.9 1109,2531.1 1111,2538.2 1113,2545.3 1115,2552.3 1117,2559.3 1119,2566.3 1121,2573.2 1123,2580 1125,2586.8 1127,2593.5 1129,2600.1 1131,2606.6 1133,2613 1135,2619.3 1137,2625.5 1139,2631.6 1141,2637.5 1143,2643.4 1145,2649 1147,2654.6 1149,2660 1151,2665.2 1153,2670.3 1155,2675.2 1157,2679.9 1159,2684.5 1161,2688.9 1163,2693.1 1165,2697.1 1167,2701 1169,2704.6 1171,2708.1 1173,2711.3 1175,2714.3 1177,2717.2 1179,2719.8 1181,2722.2 1183,2724.4 1185,2726.4 1187,2728.2 1189,2729.8 1191,2731.2 1193,2732.3 1195,2733.2 1197,2733.9 1199,2734.4 1201,2734.7 1203,2734.7 1205,2734.5 1207,2734.2 1209,2733.6 1211,2732.8 1213,2731.7 1215,2730.5 1217,2729.1 1219,2727.4 1221,2725.6 1223,2723.6 1225,2721.3 1227,2718.9 1229,2716.3 1231,2713.5 1233,2710.5 1235,2707.3 1237,2704 1239,2700.5 1241,2696.8 1243,2693 1245,2689 1247,2684.9 1249,2680.6 1251,2676.1 1253,2671.6 1255,2666.9 1257,2662.1 1259,2657.1 1261,2652.1 1263,2646.9 1265,2641.7 1267,2636.3 1269,2630.9 1271,2625.4 1273,2619.8 1275,2614.1 1277,2608.4 1279,2602.6 1281,2596.8 1283,2590.9 1285,2585 1287,2579.1 1289,2573.1 1291,2567.1 1293,2561.2 1295,2555.2 1297,2549.2 1299,2543.2 1301,2537.2 1303,2531.3 1305,2525.4 1307,2519.5 1309,2513.7 1311,2507.9 1313,2502.2 1315,2496.5 1317,2490.9 1319,2485.4 1321,2479.9 1323,2474.5 1325,2469.3 1327,2464.1 1329,2459 1331,2454 1333,2449.1 1335,2444.4 1337,2439.8 1339,2435.3 1341,2430.9 1343,2426.6 1345,2422.5 1347,2418.6 1349,2414.7 1351,2411.1 1353,2407.6 1355,2404.2 1357,2401 1359,2397.9 1361,2395.1 1363,2392.4 1365,2389.8 1367,2387.5 1369,2385.3 1371,2383.2 1373,2381.4 1375,2379.7 1377,2378.3 1379,2377 1381,2375.8 1383,2374.9 1385,2374.1 1387,2373.6 1389,2373.2 1391,2373 1393,2372.9 1395,2373.1 1397,2373.4 1399,2373.9 1401,2374.6 1403,2375.5 1405,2376.5 1407,2377.8 1409,2379.1 1411,2380.7 1413,2382.4 1415,2384.3 1417,2386.3 1419,2388.6 1421,2390.9 1423,2393.4 1425,2396.1 1427,2398.9 1429,2401.8 1431,2404.9 1433,2408.2 1435,2411.5 1437,2415 1439,2418.6 1441,2422.3 1443,2426.1 1445,2430.1 1447,2434.1 1449,2438.3 1451,2442.5 1453,2446.8 1455,2451.2 1457,2455.7 1459,2460.3 1461,2464.9 1463,2469.6 1465,2474.4 1467,2479.2 1469,2484 1471,2488.9 1473,2493.8 1475,2498.8 1477,2503.8 1479,2508.8 1481,2513.8 1483,2518.8 1485,2523.8 1487,2528.8 1489,2533.8 1491,2538.8 1493,2543.8 1495,2548.8 1497,2553.7 1499,2558.6 1501,2563.4 1503,2568.2 1505,2573 1507,2577.7 1509,2582.3 1511,2586.8 1513,2591.3 1515,2595.8 1517,2600.1 1519,2604.4 1521,2608.5 1523,2612.6 1525,2616.6 1527,2620.4 1529,2624.2 1531,2627.9 1533,2631.4 1535,2634.9 1537,2638.2 1539,2641.4 1541,2644.4 1543,2647.4 1545,2650.2 1547,2652.9 1549,2655.4 1551,2657.8 1553,2660.1 1555,2662.2 1557,2664.1 1559,2666 1561,2667.7 1563,2669.2 1565,2670.6 1567,2671.8 1569,2672.9 1571,2673.8 1573,2674.6 1575,2675.2 1577,2675.7 1579,2676 1581,2676.2 1583,2676.2 1585,2676 1587,2675.7 1589,2675.3 1591,2674.7 1593,2674 1595,2673.1 1597,2672.1 1599,2670.9 1601,2669.6 1603,2668.1 1605,2666.5 1607,2664.8 1609,2662.9 1611,2661 1613,2658.8 1615,2656.6 1617,2654.2 1619,2651.7 1621,2649.2 1623,2646.4 1625,2643.6 1627,2640.7 1629,2637.7 1631,2634.5 1633,2631.3 1635,2628 1637,2624.6 1639,2621.1 1641,2617.6 1643,2614 1645,2610.3 1647,2606.5 1649,2602.7 1651,2598.8 1653,2594.8 1655,2590.9 1657,2586.8 1659,2582.8 1661,2578.7 1663,2574.5 1665,2570.4 1667,2566.2 1669,2562 1671,2557.8 1673,2553.6 1675,2549.4 1677,2545.2 1679,2541 1681,2536.8 1683,2532.6 1685,2528.5 1687,2524.4 1689,2520.3 1691,2516.2 1693,2512.2 1695,2508.2 1697,2504.3 1699,2500.4 1701,2496.6 1703,2492.8 1705,2489.1 1707,2485.5 1709,2481.9 1711,2478.4 1713,2475 1715,2471.7 1717,2468.5 1719,2465.3 1721,2462.3 1723,2459.3 1725,2456.4 1727,2453.6 1729,2451 1731,2448.4 1733,2446 1735,2443.6 1737,2441.4 1739,2439.3 1741,2437.3 1743,2435.4 1745,2433.6 1747,2432 1749,2430.4 1751,2429 1753,2427.8 1755,2426.6 1757,2425.6 1759,2424.7 1761,2423.9 1763,2423.3 1765,2422.8 1767,2422.4 1769,2422.1 1771,2422 1773,2422 1775,2422.1 1777,2422.4 1779,2422.8 1781,2423.3 1783,2423.9 1785,2424.7 1787,2425.5 1789,2426.5 1791,2427.6 1793,2428.9 1795,2430.2 1797,2431.6 1799,2433.2 1801,2434.9 1803,2436.7 1805,2438.6 1807,2440.5 1809,2442.6 1811,2444.8 1813,2447.1 1815,2449.5 1817,2451.9 1819,2454.5 1821,2457.1 1823,2459.8 1825,2462.6 1827,2465.4 1829,2468.3 1831,2471.3 1833,2474.4 1835,2477.5 1837,2480.6 1839,2483.9 1841,2487.1 1843,2490.4 1845,2493.8 1847,2497.1 1849,2500.6 1851,2504 1853,2507.5 1855,2510.9 1857,2514.4 1859,2518 1861,2521.5 1863,2525 1865,2528.5 1867,2532.1 1869,2535.6 1871,2539.1 1873,2542.6 1875,2546.1 1877,2549.5 1879,2552.9 1881,2556.3 1883,2559.7 1885,2563 1887,2566.3 1889,2569.6 1891,2572.8 1893,2575.9 1895,2579 1897,2582.1 1899,2585 1901,2588 1903,2590.8 1905,2593.6 1907,2596.3 1909,2598.9 1911,2601.5 1913,2604 1915,2606.4 1917,2608.7 1919,2610.9 1921,2613.1 1923,2615.1 1925,2617.1 1927,2618.9 1929,2620.7 1931,2622.4 1933,2624 1935,2625.4 1937,2626.8 1939,2628.1 1941,2629.2 1943,2630.3 1945,2631.2 1947,2632.1 1949,2632.8 1951,2633.5 1953,2634 1955,2634.4 1957,2634.7 1959,2634.9 1961,2635 1963,2635 1965,2634.9 1967,2634.7 1969,2634.4 1971,2633.9 1973,2633.4 1975,2632.8 1977,2632 1979,2631.2 1981,2630.3 1983,2629.2 1985,2628.1 1987,2626.9 1989,2625.5 1991,2624.1 1993,2622.6 1995,2621 1997,2619.4 1999,2617.6 2001,2615.8 2003,2613.9 2005,2611.9 2007,2609.8 2009,2607.7 2011,2605.5 2013,2603.2 2015,2600.9 2017,2598.5 2019,2596 2021,2593.5 2023,2590.9 2025,2588.3 2027,2585.7 2029,2583 2031,2580.3 2033,2577.5 2035,2574.7 2037,2571.9 2039,2569 2041,2566.1 2043,2563.2 2045,2560.3 2047,2557.3 2049,2554.4 2051,2551.4 2053,2548.5 2055,2545.5 2057,2542.6 2059,2539.6 2061,2536.7 2063,2533.8 2065,2530.8 2067,2528 2069,2525.1 2071,2522.2 2073,2519.4 2075,2516.6 2077,2513.9 2079,2511.2 2081,2508.5 2083,2505.8 2085,2503.2 2087,2500.7 2089,2498.2 2091,2495.8 2093,2493.4 2095,2491.1 2097,2488.8 2099,2486.6 2101,2484.4 2103,2482.4 2105,2480.4 2107,2478.4 2109,2476.6 2111,2474.8 2113,2473.1 2115,2471.4 2117,2469.9 2119,2468.4 2121,2467 2123,2465.7 2125,2464.4 2127,2463.3 2129,2462.3 2131,2461.3 2133,2460.4 2135,2459.6 2137,2458.9 2139,2458.3 2141,2457.8 2143,2457.3 2145,2457 2147,2456.7 2149,2456.6 2151,2456.5 2153,2456.5 2155,2456.6 2157,2456.8 2159,2457.1 2161,2457.4 2163,2457.9 2165,2458.4 2167,2459 2169,2459.8 2171,2460.5 2173,2461.4 2175,2462.4 2177,2463.4 2179,2464.5 2181,2465.7 2183,2467 2185,2468.3 2187,2469.7 2189,2471.2 2191,2472.7 2193,2474.3 2195,2476 2197,2477.8 2199,2479.6 2201,2481.4 2203,2483.3 2205,2485.3 2207,2487.3 2209,2489.3 2211,2491.4 2213,2493.6 2215,2495.8 2217,2498 2219,2500.3 2221,2502.6 2223,2504.9 2225,2507.2 2227,2509.6 2229,2512 2231,2514.4 2233,2516.9 2235,2519.3 2237,2521.8 2239,2524.3 2241,2526.7 2243,2529.2 2245,2531.7 2247,2534.2 2249,2536.6 2251,2539.1 2253,2541.6 2255,2544 2257,2546.4 2259,2548.8 2261,2551.2 2263,2553.6 2265,2555.9 2267,2558.2 2269,2560.5 2271,2562.7 2273,2564.9 2275,2567.1 2277,2569.2 2279,2571.3 2281,2573.4 2283,2575.4 2285,2577.3 2287,2579.2 2289,2581.1 2291,2582.8 2293,2584.6 2295,2586.3 2297,2587.9 2299,2589.4 2301,2590.9 2303,2592.4 2305,2593.7 2307,2595 2309,2596.3 2311,2597.4 2313,2598.5 2315,2599.5 2317,2600.5 2319,2601.4 2321,2602.2 2323,2602.9 2325,2603.6 2327,2604.2 2329,2604.7 2331,2605.1 2333,2605.5 2335,2605.7 2337,2606 2339,2606.1 2341,2606.2 2343,2606.1 2345,2606 2347,2605.9 2349,2605.6 2351,2605.3 2353,2604.9 2355,2604.5 2357,2604 2359,2603.4 2361,2602.7 2363,2601.9 2365,2601.1 2367,2600.3 2369,2599.3 2371,2598.3 2373,2597.3 2375,2596.1 2377,2595 2379,2593.7 2381,2592.4 2383,2591.1 2385,2589.7 2387,2588.2 2389,2586.7 2391,2585.1 2393,2583.5 2395,2581.9 2397,2580.2 2399,2578.5 2401,2576.7 2403,2574.9 2405,2573.1 2407,2571.2 2409,2569.3 2411,2567.4 2413,2565.4 2415,2563.4 2417,2561.5 2419,2559.4 2421,2557.4 2423,2555.4 2425,2553.3 2427,2551.3 2429,2549.2 2431,2547.1 2433,2545 2435,2543 2437,2540.9 2439,2538.8 2441,2536.7 2443,2534.7 2445,2532.6 2447,2530.6 2449,2528.6 2451,2526.6 2453,2524.6 2455,2522.7 2457,2520.7 2459,2518.8 2461,2516.9 2463,2515.1 2465,2513.3 2467,2511.5 2469,2509.8 2471,2508 2473,2506.4 2475,2504.7 2477,2503.2 2479,2501.6 2481,2500.1 2483,2498.7 2485,2497.3 2487,2495.9 2489,2494.6 2491,2493.4 2493,2492.2 2495,2491 2497,2489.9 2499,2488.9 2501,2487.9 2503,2487 2505,2486.2 2507,2485.4 2509,2484.6 2511,2484 2513,2483.4 2515,2482.8 2517,2482.3 2519,2481.9 2521,2481.5 2523,2481.2 2525,2481 2527,2480.8 2529,2480.7 2531,2480.7 2533,2480.7 2535,2480.8 2537,2480.9 2539,2481.1 2541,2481.4 2543,2481.7 2545,2482.1 2547,2482.6 2549,2483.1 2551,2483.6 2553,2484.3 2555,2484.9 2557,2485.7 2559,2486.5 2561,2487.3 2563,2488.2 2565,2489.2 2567,2490.1 2569,2491.2 2571,2492.3 2573,2493.4 2575,2494.6 2577,2495.8 2579,2497.1 2581,2498.4 2583,2499.8 2585,2501.1 2587,2502.6 2589,2504 2591,2505.5 2593,2507 2595,2508.5 2597,2510.1 2599,2511.7 2601,2513.3 2603,2515 2605,2516.6 2607,2518.3 2609,2520 2611,2521.7 2613,2523.4 2615,2525.1 2617,2526.8 2619,2528.6 2621,2530.3 2623,2532.1 2625,2533.8 2627,2535.5 2629,2537.3 2631,2539 2633,2540.7 2635,2542.4 2637,2544.1 2639,2545.8 2641,2547.5 2643,2549.2 2645,2550.8 2647,2552.4 2649,2554 2651,2555.6 2653,2557.1 2655,2558.6 2657,2560.1 2659,2561.6 2661,2563 2663,2564.4 2665,2565.8 2667,2567.1 2669,2568.4 2671,2569.7 2673,2570.9 2675,2572 2677,2573.2 2679,2574.3 2681,2575.3 2683,2576.3 2685,2577.3 2687,2578.2 2689,2579 2691,2579.8 2693,2580.6 2695,2581.3 2697,2582 2699,2582.6 2701,2583.1 2703,2583.6 2705,2584.1 2707,2584.5 2709,2584.9 2711,2585.2 2713,2585.4 2715,2585.6 2717,2585.7 2719,2585.8 2721,2585.9 2723,2585.8 2725,2585.8 2727,2585.6 2729,2585.5 2731,2585.2 2733,2585 2735,2584.6 2737,2584.2 2739,2583.8 2741,2583.3 2743,2582.8 2745,2582.2 2747,2581.6 2749,2581 2751,2580.2 2753,2579.5 2755,2578.7 2757,2577.9 2759,2577 2761,2576.1 2763,2575.1 2765,2574.1 2767,2573.1 2769,2572 2771,2570.9 2773,2569.8 2775,2568.6 2777,2567.4 2779,2566.2 2781,2565 2783,2563.7 2785,2562.4 2787,2561.1 2789,2559.8 2791,2558.4 2793,2557 2795,2555.6 2797,2554.2 2799,2552.8 2801,2551.4 2803,2550 2805,2548.5 2807,2547.1 2809,2545.6 2811,2544.1 2813,2542.7 2815,2541.2 2817,2539.8 2819,2538.3 2821,2536.9 2823,2535.4 2825,2534 2827,2532.6 2829,2531.2 2831,2529.7 2833,2528.4 2835,2527 2837,2525.6 2839,2524.3 2841,2523 2843,2521.7 2845,2520.4 2847,2519.2 2849,2517.9 2851,2516.7 2853,2515.6 2855,2514.4 2857,2513.3 2859,2512.2 2861,2511.2 2863,2510.2 2865,2509.2 2867,2508.3 2869,2507.4 2871,2506.5 2873,2505.6 2875,2504.8 2877,2504.1 2879,2503.4 2881,2502.7 2883,2502.1 2885,2501.5 2887,2500.9 2889,2500.4 2891,2499.9 2893,2499.5 2895,2499.1 2897,2498.8 2899,2498.5 2901,2498.3 2903,2498.1 2905,2497.9 2907,2497.8 2909,2497.7 2911,2497.7 2913,2497.7 2915,2497.8 2917,2497.9 2919,2498 2921,2498.2 2923,2498.5 2925,2498.8 2927,2499.1 2929,2499.4 2931,2499.8 2933,2500.3 2935,2500.8 2937,2501.3 2939,2501.9 2941,2502.5 2943,2503.1 2945,2503.8 2947,2504.5 2949,2505.2 2951,2506 2953,2506.8 2955,2507.6 2957,2508.5 2959,2509.4 2961,2510.3 2963,2511.2 2965,2512.2 2967,2513.2 2969,2514.2 2971,2515.3 2973,2516.4 2975,2517.4 2977,2518.5 2979,2519.7 2981,2520.8 2983,2522 2985,2523.1 2987,2524.3 2989,2525.5 2991,2526.7 2993,2527.9 2995,2529.1 2997,2530.3 2999,2531.5 3001,2532.8 3003,2534 3005,2535.2 3007,2536.4 3009,2537.6 3011,2538.9 3013,2540.1 3015,2541.3 3017,2542.5 3019,2543.6 3021,2544.8 3023,2546 3025,2547.1 3027,2548.3 3029,2549.4 3031,2550.5 3033,2551.6 3035,2552.6 3037,2553.7 3039,2554.7 3041,2555.7 3043,2556.7 3045,2557.6 3047,2558.6 3049,2559.5 3051,2560.3 3053,2561.2 3055,2562 3057,2562.8 3059,2563.6" fill="none" stroke="#ffc0cb" stroke-width="80.6" stroke-linejoin="round"/>
<path d="M522.5 2432.2h0M529.1 2515.2h0M535.7 2560.2h0M542.4 2543.3h0M549 2526.1h0M555.6 2500.4h0M562.2 2472.1h0M568.8 2459.9h0M575.4 2428.6h0M582 2401.6h0M588.6 2369.4h0M595.2 2350.9h0M601.8 2313.3h0M608.4 2295.2h0M615 2262.7h0M621.6 2242.8h0M628.2 2230h0M634.8 2219.6h0M641.4 2212.7h0M648 2206h0M654.6 2200.6h0M661.2 2195.6h0M667.8 2209.8h0M674.4 2219.5h0M681 2240.9h0M687.6 2264.9h0M694.2 2288.7h0M700.8 2333.3h0M707.5 2376h0M714.1 2429.5h0M720.7 2475.9h0M727.3 2514.7h0M733.9 2560.6h0M740.5 2597.1h0M747.1 2631.1h0M753.7 2671.9h0M760.3 2694h0M766.9 2711.5h0M773.5 2728h0M780.1 2742.5h0M786.7 2756.2h0M793.3 2768.2h0M799.9 2781.4h0M806.5 2789.5h0M813.1 2797h0M819.7 2804.2h0M826.3 2807.7h0M832.9 2801.7h0M839.5 2795h0M846.1 2788.8h0M852.7 2778.4h0M859.3 2761.4h0M865.9 2738.5h0M872.6 2711.2h0M879.2 2680.7h0M885.8 2655.5h0M892.4 2633h0M899 2600.4h0M905.6 2564.4h0M912.2 2526.9h0M918.8 2488.4h0M925.4 2458.5h0M932 2420.7h0M938.6 2383.6h0M945.2 2349.8h0M951.8 2332.7h0M958.4 2321.8h0M965 2307.8h0M971.6 2298.9h0M978.2 2292.6h0M984.8 2288.9h0M991.4 2286.7h0M998 2285.1h0M1004.6 2284h0M1011.2 2283.9h0M1017.8 2284.6h0M1024.4 2286.9h0M1031 2294.5h0M1037.7 2300.9h0M1044.3 2311h0M1050.9 2333.7h0M1057.5 2356.2h0M1064.1 2372.5h0M1070.7 2396.6h0M1077.3 2428.2h0M1083.9 2453.5h0M1090.5 2481.1h0M1097.1 2519.6h0M1103.7 2547.7h0M1110.3 2576.6h0M1116.9 2608.1h0M1123.5 2630.3h0M1130.1 2652h0M1136.7 2688.2h0M1143.3 2714.2h0M1149.9 2727.1h0M1156.5 2738.3h0M1163.1 2747.4h0M1169.7 2753h0M1176.3 2757.9h0M1182.9 2761.7h0M1189.5 2765.3h0M1196.1 2768.9h0M1202.8 2769.5h0M1209.4 2768.3h0M1216 2763.5h0M1222.6 2756.7h0M1229.2 2747.7h0M1235.8 2735.7h0M1242.4 2722.4h0M1249 2707h0M1255.6 2690.4h0M1262.2 2673.3h0M1268.8 2652.6h0M1275.4 2634.2h0M1282 2614.2h0M1288.6 2592.9h0M1295.2 2572h0M1301.8 2551.4h0M1308.4 2531h0M1315 2509.1h0M1321.6 2491.8h0M1328.2 2472.3h0M1334.8 2454.1h0M1341.4 2440h0M1348 2426.9h0M1354.6 2415.7h0M1361.2 2404.9h0M1367.9 2393.1h0M1374.5 2394h0M1381.1 2391.9h0M1387.7 2391.1h0M1394.3 2395.7h0M1400.9 2403.9h0M1407.5 2404.2h0M1414.1 2412.6h0M1420.7 2420.8h0M1427.3 2429.8h0M1433.9 2439.2h0M1440.5 2448.9h0M1447.1 2465.3h0M1453.7 2477.4h0M1460.3 2493.7h0M1466.9 2504.8h0M1473.5 2521h0M1480.1 2533.8h0M1486.7 2546.1h0M1493.3 2564h0M1499.9 2579.2h0M1506.5 2596.3h0M1513.1 2608.9h0M1519.7 2619.2h0M1526.3 2633.2h0M1533 2645.4h0M1539.6 2658.5h0M1546.2 2666.4h0M1552.8 2669h0M1559.4 2675.1h0M1566 2683.5h0M1572.6 2683.8h0M1579.2 2685.8h0M1585.8 2685.8h0M1592.4 2679.2h0M1599 2676.8h0M1605.6 2671.9h0M1612.2 2662.9h0M1618.8 2652.1h0M1625.4 2644.8h0M1632 2636.5h0M1638.6 2625.5h0M1645.2 2620.6h0M1651.8 2603.4h0M1658.4 2595.4h0M1665 2574.2h0M1671.6 2562.2h0M1678.2 2561h0M1684.8 2542.3h0M1691.4 2526.4h0M1698.1 2514.8h0M1704.7 2509.4h0M1711.3 2491.2h0M1717.9 2481.3h0M1724.5 2472.7h0M1731.1 2466.7h0M1737.7 2452.9h0M1744.3 2444h0M1750.9 2438.1h0M1757.5 2434.6h0M1764.1 2428.6h0M1770.7 2431.8h0M1777.3 2434.2h0M1783.9 2437.8h0M1790.5 2440.5h0M1797.1 2444.9h0M1803.7 2451h0M1810.3 2454.3h0M1816.9 2460.3h0M1823.5 2469.2h0M1830.1 2477.6h0M1836.7 2482.6h0M1843.3 2491h0M1849.9 2502.5h0M1856.5 2514.5h0M1863.2 2526.7h0M1869.8 2529.1h0M1876.4 2542.5h0M1883 2553.8h0M1889.6 2563.2h0M1896.2 2573.1h0M1902.8 2578.8h0M1909.4 2595h0M1916 2597.9h0M1922.6 2612.3h0M1929.2 2616.7h0M1935.8 2619.2h0M1942.4 2619.4h0M1949 2619.2h0M1955.6 2627.2h0M1962.2 2627h0M1968.8 2627.7h0M1975.4 2619.4h0M1982 2620.6h0M1988.6 2618.4h0M1995.2 2616.3h0M2001.8 2605.7h0M2008.4 2602.6h0M2015 2596.4h0M2021.6 2589.4h0M2028.3 2584.7h0M2034.9 2574.8h0M2041.5 2573.2h0M2048.1 2565.3h0M2054.7 2549.9h0M2061.3 2543.3h0M2067.9 2532.3h0M2074.5 2528.2h0M2081.1 2518.2h0M2087.7 2508.5h0M2094.3 2505.1h0M2100.9 2499.7h0M2107.5 2490.6h0M2114.1 2487.5h0M2120.7 2484.4h0M2127.3 2471.4h0M2133.9 2470.5h0M2140.5 2468.9h0M2147.1 2463.8h0M2153.7 2463.8h0M2160.3 2468h0M2166.9 2465.4h0M2173.5 2461.4h0M2180.1 2467.9h0M2186.7 2474.4h0M2193.4 2474.4h0M2200 2485.6h0M2206.6 2487.2h0M2213.2 2491.7h0M2219.8 2501.3h0M2226.4 2505.9h0M2233 2505.1h0M2239.6 2511.4h0M2246.2 2519.2h0M2252.8 2529.3h0M2259.4 2531h0M2266 2539.5h0M2272.6 2545.8h0M2279.2 2554.3h0M2285.8 2561h0M2292.4 2566.8h0M2299 2575.2h0M2305.6 2577.4h0M2312.2 2586.1h0M2318.8 2582.7h0M2325.4 2593.9h0M2332 2591.6h0M2338.6 2597.5h0M2345.2 2597.8h0M2351.8 2597.3h0M2358.5 2595.9h0M2365.1 2600.1h0M2371.7 2590h0M2378.3 2592.8h0M2384.9 2587.9h0M2391.5 2587.8h0M2398.1 2584.7h0M2404.7 2573.3h0M2411.3 2571.3h0M2417.9 2565h0M2424.5 2554.4h0M2431.1 2551.8h0M2437.7 2542.6h0M2444.3 2534.7h0M2450.9 2529.8h0M2457.5 2527.7h0M2464.1 2515.1h0M2470.7 2512h0M2477.3 2502.8h0M2483.9 2495.4h0M2490.5 2495.1h0M2497.1 2496.1h0M2503.7 2485.8h0M2510.3 2485.4h0M2516.9 2486.1h0M2523.6 2480.2h0M2530.2 2482.2h0M2536.8 2481.6h0M2543.4 2484.2h0M2550 2487.3h0M2556.6 2483.3h0M2563.2 2489.7h0M2569.8 2489.4h0M2576.4 2492.4h0M2583 2498.5h0M2589.6 2501.9h0M2596.2 2505.1h0M2602.8 2510.2h0M2609.4 2515.8h0M2616 2520.4h0M2622.6 2521.8h0M2629.2 2523.9h0M2635.8 2535.3h0M2642.4 2534h0M2649 2537.3h0M2655.6 2544.5h0M2662.2 2554.9h0M2668.8 2554.4h0M2675.4 2573.2h0M2682 2570h0M2688.7 2576h0M2695.3 2576.7h0M2701.9 2583.5h0M2708.5 2581.1h0M2715.1 2579.1h0M2721.7 2581.7h0M2728.3 2584.1h0M2734.9 2581.5h0M2741.5 2581.7h0M2748.1 2578.1h0M2754.7 2578.1h0M2761.3 2570.7h0M2767.9 2570h0M2774.5 2563.4h0M2781.1 2560.3h0M2787.7 2562.1h0M2794.3 2553.8h0M2800.9 2557.5h0M2807.5 2550.4h0M2814.1 2542.9h0M2820.7 2543.9h0M2827.3 2536h0M2833.9 2533.7h0M2840.5 2532.4h0M2847.1 2521.5h0M2853.8 2520h0M2860.4 2517.6h0M2867 2515.8h0M2873.6 2512.5h0M2880.2 2503.2h0M2886.8 2507.6h0M2893.4 2503.9h0M2900 2507.4h0M2906.6 2501.8h0M2913.2 2501.2h0M2919.8 2501.1h0M2926.4 2500h0M2933 2495h0M2939.6 2496.1h0M2946.2 2501.9h0M2952.8 2509.8h0M2959.4 2504h0M2966 2509.6h0M2972.6 2511.5h0M2979.2 2512h0M2985.8 2520.6h0M2992.4 2517.8h0M2999 2523.3h0" stroke="#ff0000" stroke-width="16.2" stroke-linecap="round" fill="none"/>
</g>
<path d="M469.5 3089V1616.8H3003.8V3089" fill="none" stroke="#000" stroke-width="6.4"/>
<path d="M469.5 1839.8h-28.2M469.5 2072.5h-28.2M469.5 2305.2h-28.2M469.5 2537.9h-28.2M469.5 2770.6h-28.2M469.5 3003.3h-28.2" stroke="#000" stroke-width="6.4" fill="none"/>
<text transform="matrix(0.8969 0 0 0.8548 263.41 1870.10)" font-size="100">150</text>
<text transform="matrix(0.8969 0 0 0.8548 263.41 2102.80)" font-size="100">100</text>
<text transform="matrix(0.8810 0 0 0.8548 315.11 2335.50)" font-size="100">50</text>
<text transform="matrix(0.8514 0 0 0.8548 365.54 2568.20)" font-size="100">0</text>
<text transform="matrix(1.0415 0 0 0.8548 248.22 2800.90)" font-size="100">−</text>
<text transform="matrix(0.8810 0 0 0.8548 315.14 2800.90)" font-size="100">50</text>
<text transform="matrix(1.0415 0 0 0.8548 197.10 3033.60)" font-size="100">−</text>
<text transform="matrix(0.8969 0 0 0.8548 263.44 3033.60)" font-size="100">100</text>
<text transform="matrix(1.1190 0 0 1.0257 343.73 1585.60)" font-size="100" font-weight="bold">b</text>
<text transform="translate(141.2 3069) rotate(-90) matrix(1.0682 0 0 1.0257 4.95 0.00)" font-size="100">Residual Oscillations</text>
<text transform="translate(141.2 3069) rotate(-90) matrix(1.0773 0 0 1.0257 1021.17 0.00)" font-size="100">(10</text>
<text transform="translate(141.2 3069) rotate(-90) matrix(0.8749 0 0 0.7180 1182.63 -35.90)" font-size="100">−</text>
<text transform="translate(141.2 3069) rotate(-90) matrix(0.7347 0 0 0.7180 1237.62 -35.90)" font-size="100">6</text>
<text transform="translate(141.2 3069) rotate(-90) matrix(0.8280 0 0 1.0257 1288.38 0.00)" font-size="100">)</text>
<defs><clipPath id="cc"><rect x="3365.9" y="1617.2" width="1567.8" height="1551.8"/></clipPath>
<clipPath id="cj"><rect x="4212.5" y="1695.6" width="627.2" height="868.4"/></clipPath></defs>
<g clip-path="url(#cc)">
<polyline points="3314.2,3196.7 3328.8,3196.7 3343.3,3196.7 3357.9,3196.7 3372.4,3196.7 3386.9,3196.7 3401.5,3196.7 3416,3196.7 3430.6,3196.7 3445.1,3196.7 3459.6,3196.7 3474.2,3196.7 3488.7,3196.7 3503.3,3196.7 3517.8,3196.7 3532.3,3196.7 3546.9,3196.7 3561.4,3196.7 3576,3196.7 3590.5,3196.7 3605,3196.6 3619.6,3196.5 3634.1,3196.3 3648.7,3195.9 3663.2,3195 3677.7,3193.5 3692.3,3190.6 3706.8,3185.6 3721.4,3177.3 3735.9,3163.8 3750.4,3142.9 3765,3111.7 3779.5,3067 3794.1,3005.6 3808.6,2924.8 3823.1,2822.9 3837.7,2700.5 3852.2,2560.4 3866.8,2408.6 3881.3,2253.9 3895.8,2107.5 3910.4,1981.2 3924.9,1886.6 3939.5,1832.9 3954,1825.5 3968.5,1865.1 3983.1,1947.8 3997.6,2065.3 4012.2,2206.8 4026.7,2360.1 4041.2,2513.9 4055.8,2658.4 4070.3,2786.8 4084.9,2895.3 4099.4,2982.6 4113.9,3049.8 4128.5,3099.4 4143,3134.4 4157.6,3158.2 4172.1,3173.7 4186.6,3183.4 4201.2,3189.3 4215.7,3192.7 4230.3,3194.6 4244.8,3195.7 4259.3,3196.2 4273.9,3196.5 4288.4,3196.6 4303,3196.7 4317.5,3196.7 4332,3196.7 4346.6,3196.7 4361.1,3196.7 4375.7,3196.7 4390.2,3196.7 4404.7,3196.7 4419.3,3196.7 4433.8,3196.7 4448.4,3196.7 4462.9,3196.7 4477.4,3196.7 4492,3196.7 4506.5,3196.7 4521.1,3196.7 4535.6,3196.7 4550.1,3196.7 4564.7,3196.7 4579.2,3196.7 4593.8,3196.7 4608.3,3196.7 4622.8,3196.7 4637.4,3196.7 4651.9,3196.7 4666.5,3196.7 4681,3196.7 4695.5,3196.7 4710.1,3196.7 4724.6,3196.7 4739.2,3196.7 4753.7,3196.7 4768.2,3196.7 4782.8,3196.7 4797.3,3196.7 4811.9,3196.7 4826.4,3196.7 4840.9,3196.7 4855.5,3196.7 4870,3196.7 4884.6,3196.7 4899.1,3196.7 4913.6,3196.7 4928.2,3196.7 4942.7,3196.7 4957.3,3196.7 4971.8,3196.7 4986.3,3196.7" fill="none" stroke="#87ceeb" stroke-width="40.3" stroke-linejoin="round"/>
<path d="M3710.8 3100h0M3739.9 3052.5h0M3769 2971.2h0M3798.1 2860.8h0M3827.2 2721h0M3856.2 2528.8h0M3885.3 2273h0M3914.4 1996.8h0M3943.5 1815.9h0M3972.6 1844.4h0M4001.6 2092.1h0M4030.7 2452.5h0M4059.8 2782h0M4088.9 3001.7h0M4118 3105h0" stroke="#0000ff" stroke-width="32.2" stroke-linecap="round" fill="none"/>
<polyline points="3307.8,3196.7 3322.3,3196.7 3336.8,3196.7 3351.4,3196.7 3365.9,3196.7 3380.5,3196.7 3395,3196.7 3409.5,3196.7 3424.1,3196.7 3438.6,3196.7 3453.2,3196.7 3467.7,3196.7 3482.2,3196.7 3496.8,3196.7 3511.3,3196.7 3525.9,3196.6 3540.4,3196.4 3554.9,3195.9 3569.5,3195 3584,3192.9 3598.6,3188.9 3613.1,3181.3 3627.6,3167.8 3642.2,3144.9 3656.7,3108.2 3671.2,3052.5 3685.8,2972.6 3700.3,2864.9 3714.9,2728.2 3729.4,2566.2 3744,2387.6 3758.5,2207 3773,2042.6 3787.6,1913.8 3802.1,1837.1 3816.7,1823 3831.2,1873.7 3845.7,1981.9 3860.3,2133.4 3874.8,2309.4 3889.3,2490.8 3903.9,2661.4 3918.4,2809.7 3933,2930 3947.5,3021.4 3962.1,3086.9 3976.6,3131.1 3991.1,3159.4 4005.7,3176.4 4020.2,3186.2 4034.8,3191.5 4049.3,3194.3 4063.8,3195.6 4078.4,3196.2 4092.9,3196.5 4107.4,3196.6 4122,3196.7 4136.5,3196.7 4151.1,3196.7 4165.6,3196.7 4180.1,3196.7 4194.7,3196.7 4209.2,3196.7 4223.8,3196.7 4238.3,3196.7 4252.9,3196.7 4267.4,3196.7 4281.9,3196.7 4296.5,3196.7 4311,3196.7 4325.6,3196.7 4340.1,3196.7 4354.6,3196.7 4369.2,3196.7 4383.7,3196.7 4398.2,3196.7 4412.8,3196.7 4427.3,3196.7 4441.9,3196.7 4456.4,3196.7 4470.9,3196.7 4485.5,3196.7 4500,3196.7 4514.6,3196.7 4529.1,3196.7 4543.6,3196.7 4558.2,3196.7 4572.7,3196.7 4587.3,3196.7 4601.8,3196.7 4616.4,3196.7 4630.9,3196.7 4645.4,3196.7 4660,3196.7 4674.5,3196.7 4689.1,3196.7 4703.6,3196.7 4718.1,3196.7 4732.7,3196.7 4747.2,3196.7 4761.8,3196.7 4776.3,3196.7 4790.8,3196.7 4805.4,3196.7 4819.9,3196.7 4834.4,3196.7 4849,3196.7 4863.5,3196.7 4878.1,3196.7 4892.6,3196.7 4907.1,3196.7 4921.7,3196.7 4936.2,3196.7 4950.8,3196.7 4965.3,3196.7 4979.9,3196.7" fill="none" stroke="#90ee90" stroke-width="40.3" stroke-linejoin="round"/>
<path d="M3623.6 3110h0M3652.7 3035.8h0M3681.8 2931.5h0M3710.8 2749h0M3739.9 2464.2h0M3769 2107h0M3798.1 1864.6h0M3827.2 1838.1h0M3856.2 2075.1h0M3885.3 2454.1h0M3914.4 2805.9h0M3943.5 3032.2h0M3972.6 3130h0" stroke="#008000" stroke-width="32.2" stroke-linecap="round" fill="none"/>
<polyline points="3312.2,3196.7 3326.8,3196.7 3341.3,3196.7 3355.9,3196.7 3370.4,3196.7 3384.9,3196.7 3399.5,3196.7 3414,3196.7 3428.6,3196.7 3443.1,3196.7 3457.6,3196.7 3472.2,3196.6 3486.7,3196.5 3501.3,3196.2 3515.8,3195.4 3530.3,3193.3 3544.9,3188.8 3559.4,3179.4 3574,3161 3588.5,3127.9 3603,3072.3 3617.6,2986.1 3632.1,2862.5 3646.7,2699.8 3661.2,2504.6 3675.7,2293.3 3690.3,2091.8 3704.8,1930.5 3719.4,1837 3733.9,1828.7 3748.4,1907 3763,2057.4 3777.5,2253.7 3792.1,2465.3 3806.6,2665.2 3821.1,2834.8 3835.7,2965.8 3850.2,3058.6 3864.8,3119.4 3879.3,3156.1 3893.8,3176.7 3908.4,3187.5 3922.9,3192.7 3937.5,3195.1 3952,3196.1 3966.5,3196.5 3981.1,3196.6 3995.6,3196.7 4010.2,3196.7 4024.7,3196.7 4039.2,3196.7 4053.8,3196.7 4068.3,3196.7 4082.9,3196.7 4097.4,3196.7 4111.9,3196.7 4126.5,3196.7 4141,3196.7 4155.6,3196.7 4170.1,3196.7 4184.6,3196.7 4199.2,3196.7 4213.7,3196.7 4228.3,3196.7 4242.8,3196.7 4257.3,3196.7 4271.9,3196.7 4286.4,3196.7 4301,3196.7 4315.5,3196.7 4330,3196.7 4344.6,3196.7 4359.1,3196.7 4373.7,3196.7 4388.2,3196.7 4402.7,3196.7 4417.3,3196.7 4431.8,3196.7 4446.4,3196.7 4460.9,3196.7 4475.4,3196.7 4490,3196.7 4504.5,3196.7 4519.1,3196.7 4533.6,3196.7 4548.1,3196.7 4562.7,3196.7 4577.2,3196.7 4591.8,3196.7 4606.3,3196.7 4620.8,3196.7 4635.4,3196.7 4649.9,3196.7 4664.5,3196.7 4679,3196.7 4693.5,3196.7 4708.1,3196.7 4722.6,3196.7 4737.2,3196.7 4751.7,3196.7 4766.2,3196.7 4780.8,3196.7 4795.3,3196.7 4809.9,3196.7 4824.4,3196.7 4838.9,3196.7 4853.5,3196.7 4868,3196.7 4882.6,3196.7 4897.1,3196.7 4911.6,3196.7 4926.2,3196.7 4940.7,3196.7 4955.3,3196.7 4969.8,3196.7 4984.3,3196.7" fill="none" stroke="#ffc0cb" stroke-width="40.3" stroke-linejoin="round"/>
<path d="M3623.6 2949.8h0M3652.7 2628h0M3681.8 2195.2h0M3710.8 1869.8h0M3739.9 1861.9h0M3769 2175.7h0M3798.1 2604.1h0M3827.2 2926.4h0M3856.2 3068.8h0M3885.3 3150h0" stroke="#ff0000" stroke-width="32.2" stroke-linecap="round" fill="none"/>
</g>
<path d="M3365.9 3089V1617.2H4933.7V3089" fill="none" stroke="#000" stroke-width="6.4"/>
<path d="M3365.9 1822.7h-28.2M3365.9 2097.5h-28.2M3365.9 2372.3h-28.2M3365.9 2647.1h-28.2M3365.9 2921.9h-28.2" stroke="#000" stroke-width="6.4" fill="none"/>
<text transform="matrix(0.8916 0 0 0.8548 3184.61 1853.00)" font-size="100">1.0</text>
<text transform="matrix(0.8974 0 0 0.8548 3184.28 2127.80)" font-size="100">0.8</text>
<text transform="matrix(0.9004 0 0 0.8548 3183.87 2402.60)" font-size="100">0.6</text>
<text transform="matrix(0.8948 0 0 0.8548 3183.29 2677.40)" font-size="100">0.4</text>
<text transform="matrix(0.8824 0 0 0.8548 3186.96 2952.20)" font-size="100">0.2</text>
<text transform="matrix(0.9561 0 0 1.0257 3254.78 1584.90)" font-size="100" font-weight="bold">c</text>
<text transform="translate(3130.4 3069) rotate(-90) matrix(1.0747 0 0 1.0257 -26.68 0.00)" font-size="100">Normalized Power Spectrum</text>
<rect x="4212.5" y="1695.6" width="627.2" height="868.4" fill="#fff"/>
<g clip-path="url(#cj)">
<polyline points="4156.2,2562.5 4170.8,2562.5 4185.3,2562.5 4199.9,2562.5 4214.4,2562.5 4228.9,2562.5 4243.5,2562.5 4258,2562.5 4272.6,2562.5 4287.1,2562.5 4301.6,2562.5 4316.2,2562.5 4330.7,2562.5 4345.3,2562.5 4359.8,2562.4 4374.3,2562.3 4388.9,2562.1 4403.4,2561.6 4418,2560.5 4432.5,2558.4 4447,2554.3 4461.6,2547 4476.1,2534.6 4490.7,2514.6 4505.2,2484.1 4519.7,2440.2 4534.3,2380.8 4548.8,2305.3 4563.4,2215.7 4577.9,2117.1 4592.4,2017.6 4607,1927.4 4621.5,1857.4 4636.1,1816.7 4650.6,1811 4665.1,1841.1 4679.7,1902.9 4694.2,1987.9 4708.8,2085.7 4723.3,2185.6 4737.8,2278.7 4752.4,2358.9 4766.9,2423.4 4781.5,2471.9 4796,2506.3 4810.5,2529.3 4825.1,2543.8 4839.6,2552.5 4854.2,2557.4 4868.7,2560 4883.2,2561.3 4897.8,2562" fill="none" stroke="#87ceeb" stroke-width="40.3" stroke-linejoin="round"/>
<path d="M4197.3 2415.1h0M4226.4 2415.1h0M4255.4 2411.1h0M4284.5 2439.7h0M4313.5 2483h0M4342.6 2525h0M4371.6 2542.9h0M4400.7 2542.1h0M4429.8 2532.9h0M4458.8 2530.2h0M4487.8 2521.8h0M4516.9 2472.2h0M4545.9 2346.4h0M4575 2150h0M4604 1945.6h0M4633.1 1822.6h0M4662.1 1836.5h0M4691.2 1974.6h0M4720.2 2164.7h0M4749.3 2333.3h0M4778.3 2447.6h0M4807.4 2513.1h0M4836.4 2543.7h0" stroke="#0000ff" stroke-width="32.2" stroke-linecap="round" fill="none"/>
<polyline points="4151,2562.5 4165.6,2562.5 4180.1,2562.4 4194.7,2562.4 4209.2,2562.2 4223.7,2561.9 4238.3,2561.2 4252.8,2559.9 4267.4,2557.5 4281.9,2553.3 4296.4,2546 4311,2534.3 4325.5,2516.1 4340.1,2489.3 4354.6,2451.5 4369.1,2401.1 4383.7,2337.1 4398.2,2260.2 4412.8,2173.4 4427.3,2081.7 4441.8,1992.1 4456.4,1912.8 4470.9,1852.1 4485.5,1816.8 4500,1811 4514.5,1835.4 4529.1,1887.1 4543.6,1960.2 4558.2,2046.9 4572.7,2138.7 4587.2,2228.1 4601.8,2309.2 4616.3,2378.3 4630.9,2433.9 4645.4,2476.3 4659.9,2507 4674.5,2528.2 4689,2542.2 4703.6,2550.9 4718.1,2556.2 4732.6,2559.2 4747.2,2560.8 4761.7,2561.7 4776.3,2562.1 4790.8,2562.3 4805.3,2562.4 4819.9,2562.5 4834.4,2562.5 4849,2562.5 4863.5,2562.5 4878,2562.5 4892.6,2562.5 4907.1,2562.5" fill="none" stroke="#90ee90" stroke-width="40.3" stroke-linejoin="round"/>
<path d="M4197.3 2496h0M4226.4 2496h0M4255.4 2486.5h0M4284.5 2467.5h0M4313.5 2449.6h0M4342.6 2396.8h0M4371.6 2321.4h0M4400.7 2213.9h0M4429.8 2069.8h0M4458.8 1913.9h0M4487.8 1814.7h0M4516.9 1826.6h0M4545.9 1953.6h0M4575 2142.5h0M4604 2313.5h0M4633.1 2433.7h0M4662.1 2501.2h0M4691.2 2532.9h0M4720.2 2548.8h0M4749.3 2554h0M4778.3 2556h0M4807.4 2556h0M4836.4 2556h0" stroke="#008000" stroke-width="32.2" stroke-linecap="round" fill="none"/>
<polyline points="4148.2,2562.5 4162.8,2562.4 4177.3,2562.3 4191.9,2562 4206.4,2561.4 4220.9,2559.8 4235.5,2556.5 4250,2550 4264.6,2538 4279.1,2517.1 4293.6,2483.5 4308.2,2433.2 4322.7,2363.2 4337.3,2273.4 4351.8,2167.9 4366.3,2055.7 4380.9,1949.9 4395.4,1865.6 4410,1816.5 4424.5,1811 4439,1850 4453.6,1926.8 4468.1,2028.8 4482.7,2140.8 4497.2,2248.9 4511.7,2343.1 4526.3,2418 4540.8,2472.9 4555.4,2510.3 4569.9,2533.8 4584.4,2547.7 4599,2555.3 4613.5,2559.2 4628.1,2561.1 4642.6,2561.9 4657.1,2562.3 4671.7,2562.4 4686.2,2562.5 4700.8,2562.5 4715.3,2562.5 4729.8,2562.5 4744.4,2562.5 4758.9,2562.5 4773.5,2562.5 4788,2562.5 4802.5,2562.5 4817.1,2562.5 4831.6,2562.5 4846.2,2562.5 4860.7,2562.5 4875.2,2562.5 4889.8,2562.5 4904.3,2562.5" fill="none" stroke="#ffc0cb" stroke-width="40.3" stroke-linejoin="round"/>
<path d="M4197.3 2555.6h0M4226.4 2555.6h0M4255.4 2557.5h0M4284.5 2526.2h0M4313.5 2417.1h0M4342.6 2224.4h0M4371.6 2001.2h0M4400.7 1843.7h0M4429.8 1831.7h0M4458.8 1970.2h0M4487.8 2185.7h0M4516.9 2382.9h0M4545.9 2506.3h0M4575 2554.8h0M4604 2558.7h0M4633.1 2558h0M4662.1 2558h0M4691.2 2558h0M4720.2 2558h0M4749.3 2558h0M4778.3 2558h0M4807.4 2558h0M4836.4 2558h0" stroke="#ff0000" stroke-width="32.2" stroke-linecap="round" fill="none"/>
</g>
<rect x="4212.5" y="1695.6" width="627.2" height="868.4" fill="none" stroke="#000" stroke-width="6.4"/>
<path d="M4212.5 2564v28.2M4526.1 2564v28.2M4839.7 2564v28.2" stroke="#000" stroke-width="6.4" fill="none"/>
<text transform="matrix(0.8969 0 0 0.8548 4137.80 2682.50)" font-size="100">100</text>
<text transform="matrix(0.8969 0 0 0.8548 4451.40 2682.50)" font-size="100">150</text>
<text transform="matrix(0.9018 0 0 0.8548 4764.20 2682.50)" font-size="100">200</text>
</svg>
</body></html>
